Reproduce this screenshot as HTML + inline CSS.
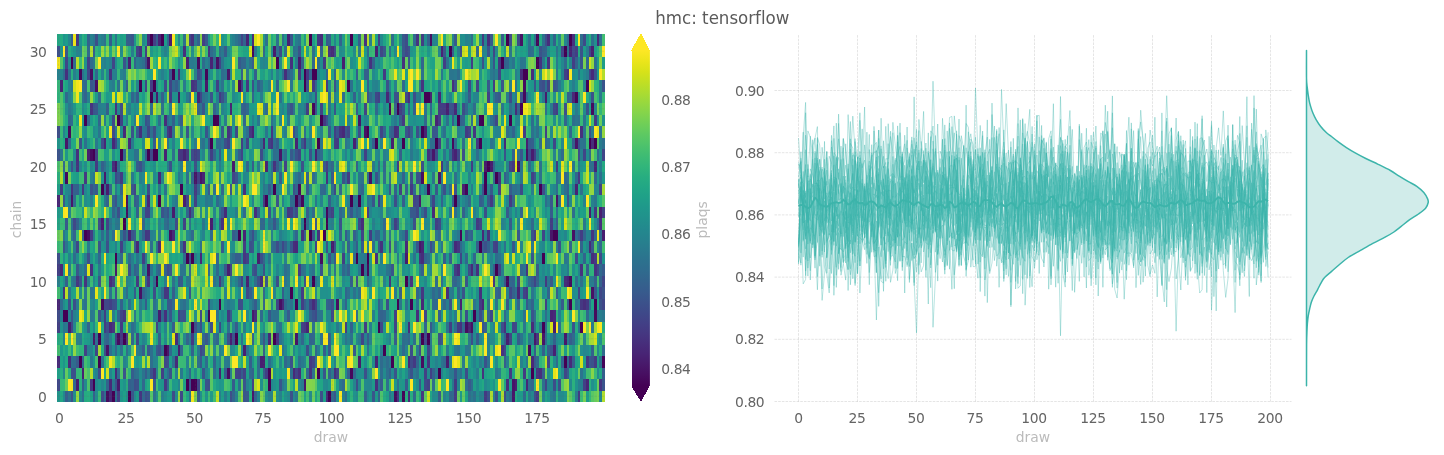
<!DOCTYPE html>
<html><head><meta charset="utf-8"><title>hmc: tensorflow</title>
<style>
html,body{margin:0;padding:0;background:#fff;width:1444px;height:455px;overflow:hidden}
svg{display:block}
.grid{fill:none;stroke:#666666;stroke-opacity:0.25;stroke-width:0.7;stroke-dasharray:2.57 1.11}
.tk text{fill:#646464;font-size:13.89px;letter-spacing:-0.4px}
.lb text{fill:#bbbbbb;font-size:13.89px}
text{font-family:"DejaVu Sans","Liberation Sans",sans-serif}
.ttl{font-family:"DejaVu Sans Condensed","DejaVu Sans","Liberation Sans",sans-serif;font-stretch:condensed;font-variant-ligatures:none;font-size:18.5px;fill:#5a5a5a}
</style></head><body>
<svg width="1444" height="455" viewBox="0 0 1444 455">
<rect width="1444" height="455" fill="#fff"/>
<rect x="57.05" y="34.0" width="547.90" height="368.00" fill="#1f948c"/><g transform="translate(58.420,34.0) scale(2.73950,11.50000)" stroke-width="1" fill="none" shape-rendering="crispEdges"><path stroke="#440154" d="M20 31v1M26 31v1M99 31v1M13 30v1M47 30v1M49 30v1M50 30v1M77 30v1M95 29v1M139 29v1M173 29v1M8 28v1M15 28v1M122 28v1M185 28v1M39 27v1M119 27v1M15 26v1M24 26v1M65 26v1M79 26v1M133 26v1M135 26v1M49 25v1M117 25v1M177 25v1M191 25v1M2 24v1M3 24v1M55 24v1M152 24v1M59 23v1M129 23v1M187 23v1M196 23v1M85 22v1M36 21v1M93 21v1M127 21v1M111 20v1M160 20v1M21 19v1M47 19v1M49 19v1M109 19v1M113 19v1M177 19v1M154 18v1M10 17v1M66 17v1M92 17v1M181 17v1M24 16v1M90 16v1M98 16v1M37 14v1M87 14v1M107 14v1M110 14v1M145 14v1M16 13v1M45 13v1M79 13v1M135 13v1M156 13v1M176 13v1M156 12v1M160 12v1M157 11v1M13 10v1M23 10v1M33 10v1M35 10v1M36 10v1M56 9v1M95 9v1M116 9v1M126 9v1M138 9v1M154 9v1M194 9v1M196 9v1M113 8v1M133 8v1M10 7v1M22 7v1M57 7v1M96 7v1M146 7v1M155 7v1M165 7v1M124 6v1M169 6v1M34 5v1M134 5v1M135 5v1M30 4v1M35 4v1M90 4v1M106 4v1M42 3v1M90 3v1M93 3v1M94 3v1M170 3v1M171 3v1M5 2v1M80 2v1M162 2v1M175 2v1M143 1v1M185 1v1M34 0v1M92 0v1M107 0v1M164 0v1M187 0v1"/><path stroke="#440256" d="M87 23v1M124 23v1M97 17v1M182 17v1M76 14v1M193 4v1M38 0v1"/><path stroke="#450457" d="M126 31v1M77 29v1M58 7v1M154 7v1"/><path stroke="#450559" d="M199 28v1M54 3v1"/><path stroke="#46075a" d="M149 13v1M93 6v1M121 6v1M189 5v1M8 3v1M175 0v1"/><path stroke="#46085c" d="M107 29v1M164 21v1M147 17v1M98 15v1M89 14v1M4 8v1M71 1v1"/><path stroke="#460a5d" d="M172 27v1M196 24v1M3 12v1M144 9v1M170 5v1"/><path stroke="#460b5e" d="M18 31v1M123 31v1M16 23v1M187 21v1M113 20v1M88 13v1M195 6v1"/><path stroke="#470d60" d="M133 28v1M22 26v1M149 25v1M96 19v1M12 10v1M66 4v1M170 4v1M51 2v1"/><path stroke="#470e61" d="M62 29v1M11 17v1M25 15v1M133 12v1"/><path stroke="#471063" d="M151 25v1M81 23v1M102 23v1M41 17v1M25 14v1M168 11v1M171 10v1M14 4v1M12 3v1M136 0v1"/><path stroke="#471164" d="M30 22v1M195 22v1M188 17v1M112 8v1M33 2v1"/><path stroke="#471365" d="M33 20v1M114 12v1M58 2v1M169 0v1"/><path stroke="#481467" d="M166 30v1M18 27v1M182 14v1M50 12v1M52 12v1"/><path stroke="#481668" d="M87 26v1M177 26v1M81 10v1M3 9v1M189 9v1"/><path stroke="#481769" d="M71 31v1M166 31v1M90 30v1M132 18v1M180 17v1M5 14v1M139 12v1M110 7v1M44 5v1"/><path stroke="#48186a" d="M40 27v1M174 26v1M185 26v1M21 11v1M137 10v1M54 4v1M62 3v1"/><path stroke="#481a6c" d="M71 24v1M21 20v1M17 12v1M64 11v1"/><path stroke="#481b6d" d="M22 30v1M110 28v1M13 26v1M127 19v1M132 14v1M156 11v1M36 5v1M178 5v1M88 2v1M79 1v1"/><path stroke="#481c6e" d="M7 30v1M4 25v1M181 25v1M100 18v1M42 15v1M41 0v1"/><path stroke="#481d6f" d="M142 28v1M37 24v1M199 17v1M56 16v1M194 15v1M18 13v1M158 11v1M173 10v1"/><path stroke="#481f70" d="M44 27v1M164 26v1M62 20v1M73 19v1M16 16v1M11 10v1M122 9v1M104 2v1"/><path stroke="#482071" d="M167 30v1M74 28v1M75 28v1M68 27v1M147 23v1M198 15v1M46 14v1M171 9v1M47 2v1M195 1v1"/><path stroke="#482173" d="M9 29v1M181 27v1M63 26v1M69 21v1M26 17v1M145 10v1M108 9v1M142 6v1M26 2v1M116 1v1M84 0v1"/><path stroke="#482374" d="M59 29v1M148 13v1M189 13v1M53 12v1M39 10v1M94 10v1M134 8v1M51 5v1M136 5v1M1 4v1M140 1v1"/><path stroke="#482475" d="M150 25v1M180 24v1M186 21v1M133 18v1M68 17v1M46 10v1M87 9v1M71 8v1M63 6v1M56 2v1M187 1v1M37 0v1M69 0v1"/><path stroke="#482576" d="M116 28v1M91 25v1M0 23v1M76 11v1M196 11v1M138 7v1"/><path stroke="#482677" d="M171 30v1M193 30v1M128 28v1M155 23v1M168 22v1M0 14v1M37 12v1M17 9v1M75 9v1M139 5v1"/><path stroke="#482878" d="M19 31v1M133 23v1M1 20v1M29 18v1M33 14v1M20 9v1M120 5v1M188 5v1"/><path stroke="#482979" d="M19 30v1M86 29v1M173 28v1M19 25v1M181 24v1M82 23v1M151 20v1M52 19v1M87 18v1M42 17v1M155 17v1M163 9v1M24 8v1M104 8v1M197 0v1"/><path stroke="#472a7a" d="M98 31v1M128 31v1M0 28v1M187 28v1M77 26v1M127 18v1M145 18v1M61 15v1M41 8v1M145 6v1M195 3v1M100 1v1"/><path stroke="#472c7a" d="M21 29v1M43 28v1M128 25v1M173 25v1M19 21v1M185 21v1M133 19v1M194 18v1M111 16v1M137 15v1M26 9v1M195 9v1M169 3v1M96 0v1"/><path stroke="#472d7b" d="M164 30v1M4 28v1M43 26v1M72 24v1M93 23v1M195 19v1M37 18v1M86 18v1M167 6v1M44 3v1M71 0v1"/><path stroke="#472e7c" d="M131 24v1M192 23v1M142 22v1M74 21v1M146 20v1M48 15v1M20 11v1M144 10v1M123 8v1M39 7v1M128 5v1M83 3v1M173 3v1M33 0v1M179 0v1"/><path stroke="#472f7d" d="M88 29v1M101 29v1M176 29v1M72 15v1M68 13v1M7 10v1M191 8v1M144 4v1M46 1v1M157 0v1"/><path stroke="#46307e" d="M116 30v1M39 24v1M154 22v1M153 20v1M89 17v1M198 16v1M135 10v1M30 8v1M3 3v1M85 2v1M188 0v1"/><path stroke="#46327e" d="M155 29v1M116 19v1M118 18v1M60 16v1M161 12v1M126 2v1M49 0v1"/><path stroke="#46337f" d="M92 29v1M147 25v1M163 25v1M129 21v1M12 20v1M191 20v1M196 20v1M95 17v1M157 17v1M5 13v1M98 12v1M79 11v1M103 8v1M21 6v1M49 4v1M19 3v1M186 3v1M114 2v1M176 2v1M30 1v1M112 0v1"/><path stroke="#463480" d="M124 31v1M162 27v1M80 26v1M20 25v1M10 21v1M121 21v1M46 18v1M7 11v1M62 8v1M124 8v1M12 6v1M133 4v1M55 1v1M131 0v1"/><path stroke="#453581" d="M30 31v1M198 30v1M35 29v1M175 29v1M135 28v1M175 26v1M2 22v1M33 21v1M132 19v1M195 17v1M78 9v1M179 2v1"/><path stroke="#453781" d="M193 28v1M24 24v1M39 22v1M159 21v1M171 20v1M68 19v1M146 18v1M32 17v1M196 15v1M140 11v1M166 11v1M44 10v1M45 10v1M70 8v1M152 8v1M99 1v1"/><path stroke="#453882" d="M133 31v1M12 30v1M191 23v1M40 22v1M133 22v1M7 21v1M84 15v1M9 13v1M190 12v1M90 9v1M78 8v1M91 3v1M161 2v1M95 0v1"/><path stroke="#443983" d="M190 31v1M92 28v1M23 26v1M49 26v1M62 24v1M193 23v1M171 22v1M33 17v1M75 14v1M102 9v1M153 9v1M97 7v1M196 7v1M50 4v1M69 4v1M93 4v1M119 3v1M7 0v1"/><path stroke="#443a83" d="M156 31v1M39 30v1M145 30v1M165 29v1M170 29v1M130 28v1M90 25v1M146 25v1M59 21v1M178 21v1M153 16v1M158 14v1M129 13v1M10 12v1M23 12v1M182 11v1M47 10v1M40 8v1M126 7v1M88 3v1M155 0v1"/><path stroke="#443b84" d="M145 31v1M175 31v1M196 28v1M25 26v1M23 25v1M154 23v1M29 21v1M196 19v1M68 18v1M165 14v1M50 13v1M14 11v1M124 11v1M149 8v1M91 6v1M41 5v1M59 5v1M97 2v1"/><path stroke="#433d84" d="M17 25v1M112 25v1M143 25v1M17 24v1M145 20v1M191 17v1M180 16v1M106 12v1M151 11v1M101 9v1M139 6v1M141 6v1M67 4v1M159 4v1M189 1v1M133 0v1"/><path stroke="#433e85" d="M22 31v1M89 23v1M89 22v1M168 21v1M0 20v1M88 20v1M12 17v1M114 17v1M138 16v1M85 15v1M113 15v1M117 14v1M1 13v1M51 12v1M77 9v1M139 9v1M170 8v1M139 7v1M125 6v1M140 6v1M98 4v1M188 2v1"/><path stroke="#423f85" d="M76 29v1M21 26v1M0 25v1M105 25v1M31 19v1M104 19v1M174 17v1M123 16v1M14 10v1M50 10v1M56 10v1M101 8v1M182 6v1M34 4v1M141 2v1M151 2v1M32 1v1"/><path stroke="#424086" d="M192 30v1M136 29v1M89 25v1M19 23v1M178 23v1M20 21v1M160 18v1M50 14v1M112 10v1M174 10v1M67 9v1M178 8v1M117 5v1M157 5v1M58 4v1M185 3v1M11 2v1M35 0v1M53 0v1"/><path stroke="#424186" d="M38 29v1M134 29v1M10 27v1M123 24v1M23 18v1M46 16v1M100 15v1M199 15v1M88 14v1M125 13v1M173 12v1M62 9v1M179 4v1"/><path stroke="#414287" d="M71 30v1M135 30v1M66 29v1M87 29v1M123 25v1M170 22v1M67 21v1M69 19v1M33 15v1M98 11v1M128 8v1M23 7v1M117 0v1"/><path stroke="#414487" d="M65 29v1M68 29v1M93 28v1M14 27v1M36 25v1M23 24v1M44 24v1M94 23v1M161 20v1M159 18v1M111 17v1M32 15v1M161 13v1M198 13v1M64 12v1M83 11v1M165 11v1M88 10v1M136 10v1M118 8v1M112 6v1M32 4v1M41 4v1M153 4v1M184 1v1"/><path stroke="#404588" d="M166 25v1M80 23v1M190 22v1M174 21v1M199 21v1M147 19v1M94 18v1M177 17v1M18 16v1M110 16v1M130 14v1M137 14v1M28 13v1M192 10v1M199 10v1M69 9v1M150 8v1M161 3v1M29 1v1M67 0v1"/><path stroke="#404688" d="M178 30v1M102 29v1M185 29v1M111 26v1M165 26v1M55 23v1M199 23v1M63 20v1M154 16v1M47 14v1M67 10v1M181 9v1M96 6v1M127 5v1M194 3v1M3 2v1M20 2v1M59 2v1M194 1v1"/><path stroke="#3f4788" d="M45 31v1M135 27v1M163 27v1M29 26v1M134 24v1M18 23v1M92 23v1M198 22v1M33 8v1M52 5v1M116 5v1M11 3v1M118 1v1M159 1v1"/><path stroke="#3f4889" d="M0 30v1M51 30v1M39 28v1M179 28v1M52 27v1M5 25v1M118 25v1M100 24v1M158 24v1M17 23v1M69 22v1M165 22v1M7 18v1M127 17v1M6 16v1M146 10v1M20 7v1M160 7v1M181 6v1M150 4v1M48 0v1"/><path stroke="#3e4989" d="M59 25v1M167 25v1M197 20v1M82 18v1M131 15v1M101 13v1M21 12v1M21 9v1M106 8v1M51 3v1M81 1v1M188 1v1M168 0v1"/><path stroke="#3e4a89" d="M134 30v1M129 28v1M0 24v1M52 24v1M139 16v1M131 14v1M169 13v1M34 10v1M51 10v1M172 10v1M65 8v1M165 5v1M101 1v1M127 1v1M192 0v1"/><path stroke="#3e4c8a" d="M16 31v1M42 31v1M149 29v1M134 26v1M94 24v1M40 20v1M189 19v1M198 19v1M80 18v1M15 16v1M43 16v1M129 12v1M49 10v1M138 10v1M190 10v1M16 9v1M20 8v1M127 0v1"/><path stroke="#3d4d8a" d="M181 30v1M154 24v1M66 23v1M80 21v1M72 20v1M150 20v1M0 19v1M87 15v1M134 15v1M33 13v1M74 10v1M110 8v1M148 6v1"/><path stroke="#3d4e8a" d="M63 31v1M15 29v1M132 27v1M56 25v1M35 22v1M109 21v1M136 18v1M93 17v1M99 15v1M123 14v1M131 12v1M0 8v1M35 8v1M130 5v1M39 4v1M177 4v1M165 0v1M178 0v1"/><path stroke="#3c4f8a" d="M96 31v1M163 31v1M28 30v1M55 30v1M109 30v1M183 30v1M40 28v1M91 27v1M129 27v1M139 26v1M6 23v1M67 23v1M120 23v1M11 19v1M130 16v1M156 15v1M177 13v1M133 11v1M148 10v1M63 8v1M23 6v1M91 4v1M32 2v1M14 0v1"/><path stroke="#3c508b" d="M85 31v1M174 31v1M6 29v1M112 29v1M37 27v1M62 26v1M151 26v1M18 25v1M162 25v1M46 24v1M4 23v1M20 23v1M90 21v1M26 20v1M74 19v1M18 18v1M101 18v1M121 18v1M156 18v1M22 15v1M141 13v1M30 11v1M89 11v1M55 9v1M61 9v1M86 8v1M131 8v1M144 6v1M185 6v1M94 5v1M124 5v1M169 5v1M101 4v1M0 1v1"/><path stroke="#3b518b" d="M32 31v1M160 31v1M5 29v1M85 28v1M195 28v1M17 27v1M50 25v1M149 24v1M73 21v1M75 20v1M70 18v1M98 18v1M183 18v1M71 17v1M116 12v1M87 10v1M32 7v1M193 6v1M123 5v1M195 5v1M71 4v1M147 1v1"/><path stroke="#3b528b" d="M5 31v1M29 30v1M48 30v1M54 30v1M34 29v1M41 29v1M156 28v1M52 25v1M100 23v1M198 23v1M199 22v1M48 19v1M99 19v1M149 17v1M186 14v1M86 13v1M145 13v1M41 11v1M50 11v1M85 6v1M120 4v1M88 1v1"/><path stroke="#3a538b" d="M157 31v1M129 29v1M143 23v1M148 22v1M96 20v1M117 18v1M24 17v1M173 17v1M103 16v1M80 14v1M12 13v1M104 12v1M132 12v1M163 10v1M8 9v1M27 8v1M127 8v1M194 8v1M126 6v1M60 5v1M113 5v1M145 4v1M155 2v1M176 1v1M191 1v1"/><path stroke="#3a548c" d="M199 30v1M24 29v1M123 29v1M180 27v1M155 25v1M188 25v1M45 24v1M93 24v1M173 24v1M21 23v1M8 21v1M27 17v1M38 15v1M21 14v1M155 13v1M0 10v1M92 10v1M102 8v1M56 5v1M162 4v1M176 4v1M199 4v1M41 3v1M24 2v1M128 1v1M141 1v1M157 1v1"/><path stroke="#39558c" d="M21 30v1M68 30v1M81 30v1M132 30v1M53 29v1M97 29v1M145 29v1M15 24v1M48 22v1M196 22v1M15 21v1M149 21v1M122 20v1M2 18v1M15 18v1M85 18v1M131 18v1M40 15v1M115 14v1M5 11v1M190 9v1M54 8v1M105 8v1M98 7v1M13 6v1M101 6v1M143 6v1M174 4v1M181 4v1M196 3v1M159 2v1M191 2v1"/><path stroke="#39568c" d="M27 31v1M68 31v1M101 31v1M115 31v1M194 28v1M53 27v1M99 27v1M64 26v1M75 26v1M5 24v1M41 24v1M21 22v1M41 20v1M173 19v1M71 18v1M166 18v1M79 16v1M60 15v1M77 15v1M107 15v1M27 13v1M63 13v1M121 13v1M65 12v1M174 12v1M47 8v1M53 6v1M94 6v1M12 4v1M27 0v1M85 0v1"/><path stroke="#38588c" d="M33 31v1M77 24v1M41 23v1M164 23v1M171 23v1M44 21v1M76 21v1M61 20v1M195 18v1M168 17v1M22 12v1M32 10v1M169 10v1M137 8v1M161 5v1M52 3v1M128 2v1"/><path stroke="#38598c" d="M139 31v1M61 29v1M33 27v1M54 26v1M40 23v1M163 21v1M7 20v1M71 20v1M130 15v1M2 14v1M180 14v1M14 13v1M91 13v1M138 13v1M138 8v1M157 4v1M3 1v1M126 1v1M54 0v1M126 0v1"/><path stroke="#375a8c" d="M69 31v1M67 29v1M7 28v1M174 28v1M36 27v1M108 27v1M136 25v1M184 23v1M180 21v1M3 16v1M124 16v1M129 15v1M164 15v1M157 14v1M158 13v1M100 12v1M29 11v1M97 11v1M89 9v1M33 7v1M14 6v1M66 2v1M119 1v1M98 0v1M158 0v1"/><path stroke="#375b8d" d="M127 30v1M150 30v1M52 28v1M174 27v1M140 26v1M168 26v1M65 25v1M84 24v1M175 20v1M60 18v1M155 18v1M105 17v1M94 16v1M85 10v1M35 9v1M172 9v1M60 8v1M144 7v1M109 6v1M29 5v1M150 5v1M84 3v1M61 1v1M145 0v1"/><path stroke="#365c8d" d="M51 31v1M35 30v1M64 30v1M188 28v1M153 26v1M63 24v1M32 23v1M28 22v1M45 21v1M199 20v1M101 19v1M28 18v1M190 17v1M59 16v1M165 16v1M180 15v1M28 14v1M144 14v1M55 13v1M29 8v1M99 8v1M125 7v1M182 4v1"/><path stroke="#365d8d" d="M118 30v1M177 29v1M186 29v1M163 28v1M31 27v1M97 27v1M113 26v1M187 26v1M42 25v1M72 23v1M99 23v1M42 22v1M70 22v1M65 19v1M18 17v1M28 17v1M64 17v1M49 15v1M126 14v1M165 13v1M71 11v1M59 10v1M45 7v1M109 3v1M113 3v1M89 2v1M26 0v1M162 0v1"/><path stroke="#355e8d" d="M27 29v1M32 29v1M199 29v1M70 28v1M123 26v1M90 23v1M82 22v1M161 22v1M173 21v1M193 20v1M66 19v1M141 19v1M143 19v1M109 18v1M111 18v1M153 18v1M154 14v1M81 12v1M163 12v1M66 10v1M173 9v1M188 9v1M42 7v1M73 4v1M112 3v1M71 2v1M19 0v1M36 0v1M110 0v1"/><path stroke="#355f8d" d="M3 31v1M9 30v1M37 26v1M99 26v1M139 24v1M186 23v1M159 20v1M90 17v1M108 17v1M182 16v1M73 15v1M80 11v1M125 10v1M18 6v1M186 5v1M13 4v1M25 4v1M43 4v1M13 1v1M5 0v1M25 0v1"/><path stroke="#34608d" d="M112 31v1M26 30v1M75 29v1M99 29v1M106 29v1M75 27v1M177 27v1M107 25v1M182 22v1M3 21v1M107 21v1M83 18v1M91 15v1M148 15v1M99 14v1M7 13v1M77 13v1M123 13v1M115 9v1M68 6v1M130 6v1M38 5v1M160 5v1M72 3v1"/><path stroke="#34618d" d="M13 31v1M137 29v1M195 27v1M156 25v1M23 23v1M166 22v1M196 21v1M133 20v1M151 17v1M29 15v1M86 15v1M16 11v1M80 9v1M122 8v1M147 7v1M123 6v1M108 5v1M113 4v1M67 3v1M144 1v1M11 0v1M99 0v1M135 0v1"/><path stroke="#33628d" d="M71 29v1M121 29v1M49 27v1M179 27v1M163 26v1M181 26v1M92 24v1M117 23v1M173 23v1M125 22v1M146 22v1M198 21v1M28 20v1M106 20v1M157 18v1M39 15v1M6 13v1M186 13v1M126 12v1M109 11v1M166 10v1M129 8v1M159 7v1M121 5v1M80 4v1M28 2v1M163 2v1M177 1v1M51 0v1M181 0v1"/><path stroke="#33638d" d="M18 30v1M18 26v1M92 26v1M11 25v1M22 24v1M118 24v1M157 24v1M98 23v1M32 21v1M37 20v1M39 20v1M106 18v1M191 18v1M7 16v1M18 14v1M166 14v1M127 13v1M95 10v1M51 6v1M168 6v1M115 2v1M189 2v1"/><path stroke="#32648e" d="M72 31v1M117 31v1M27 30v1M57 28v1M184 28v1M71 26v1M105 23v1M105 22v1M139 22v1M145 21v1M166 21v1M192 19v1M6 17v1M31 17v1M116 17v1M47 15v1M20 14v1M29 14v1M140 14v1M13 13v1M111 13v1M69 11v1M159 11v1M166 8v1M4 7v1M11 7v1M10 5v1M96 1v1M68 0v1M103 0v1"/><path stroke="#32658e" d="M9 28v1M45 27v1M47 26v1M75 23v1M31 22v1M131 22v1M179 22v1M134 19v1M65 17v1M87 17v1M103 17v1M117 17v1M192 17v1M20 15v1M23 13v1M51 13v1M87 13v1M49 12v1M117 11v1M15 7v1M148 7v1M185 7v1M57 6v1M67 6v1M84 6v1M128 6v1M136 6v1M187 5v1M94 4v1M98 3v1M133 2v1"/><path stroke="#31668e" d="M64 31v1M143 31v1M173 30v1M108 29v1M186 28v1M58 26v1M93 26v1M134 25v1M117 24v1M168 23v1M160 22v1M66 21v1M175 21v1M15 19v1M152 19v1M187 18v1M9 17v1M169 15v1M155 14v1M17 13v1M189 12v1M196 12v1M24 10v1M178 9v1M119 8v1M187 8v1M68 7v1M27 5v1M48 5v1M14 3v1M101 3v1M164 2v1M193 2v1M178 1v1"/><path stroke="#31678e" d="M83 28v1M131 28v1M41 27v1M94 27v1M27 26v1M89 26v1M128 26v1M148 25v1M38 24v1M119 24v1M165 21v1M58 20v1M104 20v1M149 19v1M139 17v1M150 17v1M31 16v1M40 16v1M75 16v1M19 13v1M60 13v1M88 12v1M91 12v1M142 9v1M134 7v1M71 5v1M10 4v1M126 4v1M92 3v1M93 2v1M40 0v1"/><path stroke="#31688e" d="M31 31v1M100 31v1M144 31v1M31 30v1M48 29v1M70 29v1M91 29v1M53 26v1M163 24v1M141 23v1M75 22v1M23 19v1M26 19v1M75 19v1M79 18v1M81 18v1M147 18v1M198 18v1M196 17v1M74 16v1M103 15v1M109 15v1M150 14v1M97 13v1M100 11v1M119 11v1M57 10v1M143 10v1M4 9v1M116 6v1M149 6v1M67 2v1M68 2v1M66 0v1"/><path stroke="#30698e" d="M130 31v1M6 30v1M21 27v1M193 24v1M137 23v1M138 23v1M137 22v1M29 20v1M198 20v1M58 19v1M137 18v1M70 17v1M119 16v1M173 16v1M58 14v1M185 12v1M142 11v1M194 10v1M109 9v1M69 6v1M3 5v1M57 2v1M75 1v1"/><path stroke="#306a8e" d="M40 30v1M104 30v1M128 29v1M126 27v1M199 27v1M17 26v1M145 25v1M74 24v1M83 23v1M144 21v1M10 20v1M169 20v1M45 18v1M49 17v1M56 17v1M68 15v1M93 15v1M96 13v1M103 13v1M159 12v1M2 11v1M59 9v1M145 9v1M176 9v1M121 8v1M15 5v1M185 2v1M11 1v1M186 0v1"/><path stroke="#2f6b8e" d="M170 31v1M6 28v1M73 28v1M118 28v1M141 28v1M175 28v1M188 26v1M178 25v1M42 23v1M113 21v1M172 21v1M46 19v1M160 19v1M119 17v1M91 16v1M86 14v1M130 13v1M143 13v1M113 12v1M182 12v1M184 10v1M197 10v1M58 9v1M152 6v1M42 4v1M52 4v1M12 2v1M53 2v1M153 1v1"/><path stroke="#2f6c8e" d="M165 31v1M172 30v1M22 29v1M57 29v1M130 26v1M178 26v1M1 23v1M48 20v1M36 18v1M197 16v1M133 15v1M6 14v1M146 14v1M178 14v1M110 13v1M140 13v1M182 13v1M93 12v1M83 10v1M96 10v1M164 8v1M5 7v1M114 5v1M60 3v1M6 2v1M172 1v1M122 0v1M130 0v1"/><path stroke="#2e6d8e" d="M17 31v1M105 31v1M137 30v1M151 30v1M40 29v1M118 29v1M51 28v1M54 28v1M77 28v1M88 28v1M120 28v1M182 28v1M38 27v1M126 26v1M27 25v1M155 24v1M174 24v1M138 21v1M189 21v1M36 20v1M55 20v1M83 20v1M121 20v1M6 19v1M64 19v1M78 18v1M115 18v1M16 17v1M189 17v1M188 15v1M85 14v1M136 14v1M105 12v1M31 11v1M78 11v1M87 8v1M37 7v1M44 7v1M173 7v1M188 7v1M76 6v1M104 5v1M9 4v1M85 3v1M146 3v1M56 1v1M113 1v1M151 0v1"/><path stroke="#2e6e8e" d="M149 30v1M28 29v1M5 28v1M34 27v1M51 25v1M183 25v1M178 24v1M25 22v1M108 19v1M135 19v1M20 17v1M198 17v1M22 11v1M172 11v1M79 10v1M153 10v1M148 9v1M40 7v1M34 6v1M51 4v1M178 4v1M2 3v1M59 1v1M83 1v1M191 0v1M198 0v1"/><path stroke="#2e6f8e" d="M9 31v1M21 31v1M73 29v1M93 29v1M34 28v1M19 27v1M26 23v1M46 23v1M38 22v1M106 22v1M167 22v1M72 21v1M89 20v1M152 20v1M34 18v1M39 16v1M106 15v1M167 13v1M185 13v1M47 12v1M117 12v1M119 12v1M145 12v1M198 12v1M42 10v1M86 10v1M74 9v1M179 9v1M34 8v1M69 8v1M142 7v1M151 7v1M165 6v1M178 6v1M171 5v1M82 3v1M190 3v1M173 1v1M82 0v1"/><path stroke="#2d708e" d="M150 31v1M152 31v1M85 29v1M120 29v1M147 29v1M16 28v1M23 27v1M142 25v1M109 24v1M35 23v1M127 23v1M194 23v1M19 22v1M110 22v1M112 20v1M163 18v1M25 17v1M145 15v1M100 13v1M191 13v1M164 12v1M176 12v1M195 11v1M10 9v1M79 9v1M136 9v1M137 9v1M199 9v1M90 8v1M141 8v1M31 2v1M95 2v1M80 1v1M93 1v1M121 1v1M46 0v1M172 0v1"/><path stroke="#2d718e" d="M4 31v1M35 31v1M120 30v1M177 30v1M131 29v1M42 28v1M94 28v1M25 27v1M69 27v1M57 26v1M81 25v1M174 25v1M190 25v1M58 24v1M95 24v1M147 24v1M71 23v1M35 21v1M42 21v1M60 21v1M140 21v1M146 21v1M191 21v1M31 20v1M52 18v1M57 13v1M17 11v1M99 11v1M194 11v1M28 10v1M168 10v1M53 9v1M32 8v1M173 8v1M190 7v1M52 6v1M74 4v1M4 3v1M70 2v1M142 2v1M186 1v1M17 0v1M80 0v1M177 0v1M195 0v1"/><path stroke="#2c718e" d="M66 30v1M198 28v1M136 27v1M44 26v1M107 26v1M127 26v1M62 25v1M79 24v1M170 24v1M10 23v1M131 23v1M5 16v1M59 15v1M182 15v1M113 14v1M159 14v1M39 13v1M111 12v1M186 12v1M176 11v1M80 10v1M192 9v1M42 8v1M78 7v1M158 7v1M53 5v1M81 5v1M99 5v1M107 4v1M9 3v1M133 3v1M196 2v1M86 1v1M76 0v1"/><path stroke="#2c728e" d="M124 30v1M157 28v1M146 27v1M14 26v1M55 26v1M93 25v1M80 24v1M85 23v1M91 23v1M189 23v1M108 22v1M93 20v1M170 20v1M77 19v1M130 19v1M123 18v1M183 14v1M132 13v1M166 13v1M137 12v1M29 10v1M158 9v1M175 8v1M38 6v1M86 6v1M61 5v1M22 4v1M61 3v1M159 3v1"/><path stroke="#2c738e" d="M48 31v1M181 31v1M29 29v1M96 26v1M132 26v1M197 24v1M152 23v1M172 23v1M6 21v1M94 21v1M101 20v1M120 20v1M132 20v1M161 19v1M140 18v1M138 17v1M48 16v1M77 16v1M110 15v1M32 14v1M108 14v1M118 14v1M40 9v1M105 9v1M191 9v1M192 7v1M9 5v1M60 4v1M88 0v1M174 0v1"/><path stroke="#2b748e" d="M31 29v1M191 29v1M140 28v1M113 27v1M67 26v1M81 26v1M169 26v1M32 22v1M57 21v1M144 18v1M23 17v1M126 17v1M196 14v1M37 13v1M110 12v1M169 11v1M1 10v1M60 9v1M99 6v1M167 4v1M166 2v1M177 2v1M182 1v1M65 0v1"/><path stroke="#2b758e" d="M121 31v1M103 30v1M117 30v1M160 29v1M30 27v1M82 27v1M149 27v1M105 26v1M78 24v1M96 24v1M4 22v1M12 22v1M173 22v1M48 21v1M83 21v1M179 21v1M34 20v1M45 20v1M90 20v1M2 17v1M109 17v1M19 16v1M22 16v1M4 14v1M17 14v1M109 14v1M78 12v1M169 12v1M55 10v1M141 10v1M96 9v1M15 8v1M192 8v1M198 8v1M189 7v1M134 6v1M162 6v1M132 5v1M44 4v1M143 3v1M169 2v1M87 1v1M21 0v1"/><path stroke="#2a768e" d="M144 30v1M150 27v1M2 25v1M153 24v1M157 23v1M160 23v1M10 22v1M138 22v1M46 20v1M84 20v1M105 20v1M110 20v1M29 19v1M185 19v1M3 18v1M121 17v1M79 15v1M104 15v1M143 15v1M56 14v1M168 13v1M13 12v1M44 12v1M188 11v1M76 8v1M136 7v1M159 5v1M144 3v1M55 2v1M60 2v1"/><path stroke="#2a778e" d="M62 28v1M84 28v1M171 28v1M145 27v1M186 26v1M12 24v1M199 24v1M30 23v1M45 23v1M125 23v1M146 17v1M21 16v1M53 16v1M43 14v1M94 14v1M75 13v1M87 12v1M121 12v1M115 11v1M129 10v1M92 9v1M21 8v1M31 8v1M165 8v1M73 7v1M84 7v1M175 7v1M4 6v1M177 5v1M85 4v1M140 3v1M13 2v1M165 1v1M13 0v1"/><path stroke="#2a788e" d="M20 30v1M170 25v1M176 25v1M195 25v1M28 24v1M71 22v1M132 22v1M144 22v1M47 21v1M15 20v1M32 19v1M63 19v1M112 19v1M21 15v1M54 14v1M123 7v1M54 5v1M164 5v1M167 5v1M183 4v1M69 3v1M30 2v1M87 2v1M170 2v1M72 1v1"/><path stroke="#29798e" d="M87 31v1M33 29v1M45 29v1M12 28v1M89 28v1M51 27v1M142 27v1M74 26v1M110 26v1M136 26v1M172 26v1M102 25v1M16 24v1M36 24v1M62 23v1M128 21v1M78 16v1M192 16v1M23 14v1M114 14v1M21 13v1M134 13v1M27 12v1M14 9v1M90 6v1M47 5v1M131 5v1M198 5v1M5 4v1M46 4v1M145 3v1M182 3v1M60 1v1"/><path stroke="#297a8e" d="M172 31v1M82 30v1M138 29v1M146 29v1M119 28v1M121 28v1M150 26v1M3 25v1M28 25v1M68 25v1M80 25v1M84 23v1M13 22v1M4 20v1M8 20v1M186 20v1M6 18v1M11 18v1M108 18v1M182 18v1M106 17v1M80 16v1M122 16v1M31 15v1M149 14v1M183 12v1M40 11v1M27 9v1M45 8v1M195 8v1M28 7v1M61 7v1M132 4v1M49 2v1M57 1v1M50 0v1"/><path stroke="#297b8e" d="M151 31v1M63 29v1M100 29v1M130 29v1M143 29v1M144 29v1M153 29v1M61 28v1M148 28v1M29 27v1M8 26v1M40 24v1M7 23v1M9 23v1M118 23v1M186 19v1M104 18v1M173 18v1M5 17v1M78 13v1M188 13v1M175 10v1M52 9v1M129 9v1M159 9v1M180 6v1M189 6v1M115 5v1M20 4v1M24 3v1M158 3v1M48 2v1M110 1v1"/><path stroke="#287c8e" d="M61 31v1M164 31v1M180 31v1M189 31v1M89 30v1M131 27v1M114 25v1M13 24v1M35 24v1M145 24v1M123 22v1M143 22v1M92 20v1M162 20v1M124 19v1M158 18v1M108 15v1M59 14v1M151 13v1M45 11v1M82 10v1M50 9v1M106 9v1M198 9v1M132 8v1M99 7v1M58 6v1M101 5v1M139 4v1M193 3v1M182 2v1M193 1v1M16 0v1M87 0v1"/><path stroke="#287d8e" d="M154 28v1M11 27v1M59 27v1M48 26v1M1 24v1M20 24v1M83 24v1M142 23v1M190 23v1M39 21v1M195 21v1M10 19v1M100 19v1M111 19v1M72 17v1M86 17v1M156 17v1M65 15v1M83 15v1M173 13v1M198 11v1M83 8v1M146 8v1M17 7v1M28 5v1M74 5v1M198 4v1M167 3v1M29 2v1M146 1v1"/><path stroke="#277e8e" d="M38 31v1M191 30v1M118 27v1M137 25v1M54 24v1M143 24v1M198 24v1M140 23v1M5 21v1M84 21v1M194 21v1M110 19v1M155 19v1M13 17v1M37 17v1M48 17v1M81 17v1M100 16v1M55 14v1M179 14v1M59 11v1M73 11v1M81 11v1M190 11v1M90 10v1M107 10v1M41 7v1M59 7v1M26 6v1M41 6v1M58 5v1M92 5v1M110 5v1M188 4v1M6 3v1M21 3v1M113 2v1M27 1v1"/><path stroke="#277f8e" d="M77 31v1M154 31v1M190 30v1M43 29v1M143 28v1M164 28v1M95 27v1M7 26v1M19 26v1M37 25v1M183 24v1M164 22v1M118 19v1M21 18v1M84 18v1M78 17v1M41 15v1M152 15v1M12 14v1M195 14v1M76 13v1M30 12v1M65 10v1M119 10v1M191 10v1M112 7v1M15 6v1M77 4v1M20 3v1M38 3v1M50 3v1M17 2v1"/><path stroke="#27808e" d="M104 31v1M155 31v1M159 31v1M161 29v1M182 27v1M88 26v1M157 26v1M6 24v1M115 24v1M56 23v1M33 22v1M136 22v1M0 21v1M11 21v1M65 21v1M114 21v1M27 19v1M50 19v1M126 19v1M148 18v1M161 18v1M115 16v1M181 16v1M26 15v1M118 15v1M157 13v1M94 12v1M6 11v1M154 11v1M113 10v1M42 9v1M96 8v1M4 5v1M123 4v1M165 4v1M160 3v1M165 2v1M114 0v1"/><path stroke="#26818e" d="M59 31v1M65 31v1M141 31v1M24 28v1M59 28v1M169 28v1M114 26v1M180 26v1M58 21v1M63 21v1M92 21v1M124 21v1M4 19v1M22 19v1M34 17v1M125 17v1M167 15v1M82 14v1M12 12v1M38 12v1M140 12v1M181 10v1M68 9v1M39 8v1M68 8v1M71 7v1M75 6v1M11 5v1M149 5v1M116 4v1M121 4v1M78 3v1M19 2v1M50 2v1M155 1v1M12 0v1M64 0v1M149 0v1"/><path stroke="#26828e" d="M69 30v1M36 29v1M140 29v1M47 28v1M105 28v1M12 27v1M82 26v1M173 26v1M64 25v1M159 25v1M4 24v1M13 23v1M36 23v1M63 23v1M70 23v1M119 21v1M27 20v1M74 20v1M106 19v1M176 19v1M194 19v1M53 17v1M179 17v1M162 16v1M71 14v1M96 14v1M106 14v1M80 13v1M184 13v1M53 10v1M183 10v1M91 9v1M118 9v1M2 8v1M161 8v1M25 7v1M5 6v1M16 6v1M166 6v1M143 5v1M4 4v1M19 4v1M192 4v1M16 3v1M55 3v1M184 3v1M54 2v1"/><path stroke="#26828e" d="M78 31v1M81 31v1M101 28v1M138 28v1M127 27v1M157 27v1M2 26v1M106 26v1M121 26v1M39 25v1M88 22v1M25 21v1M9 20v1M99 20v1M190 20v1M83 19v1M158 19v1M24 18v1M115 17v1M194 17v1M89 16v1M99 16v1M118 16v1M165 15v1M42 14v1M192 14v1M4 13v1M75 12v1M164 11v1M105 10v1M55 8v1M79 8v1M140 8v1M0 3v1M23 3v1M80 3v1M7 1v1M137 0v1M144 0v1"/><path stroke="#25838e" d="M179 30v1M14 29v1M19 29v1M54 29v1M35 28v1M90 28v1M31 26v1M76 26v1M112 26v1M104 23v1M146 23v1M183 23v1M147 22v1M169 22v1M145 17v1M4 15v1M22 14v1M54 13v1M196 13v1M66 12v1M47 11v1M146 11v1M160 8v1M174 8v1M17 6v1M60 6v1M95 3v1M187 2v1M8 1v1M39 1v1M101 0v1M138 0v1"/><path stroke="#25848e" d="M177 31v1M108 30v1M110 30v1M113 29v1M152 28v1M120 24v1M38 23v1M47 23v1M61 23v1M64 23v1M24 22v1M61 22v1M79 22v1M84 22v1M103 22v1M162 21v1M158 20v1M181 20v1M135 18v1M169 18v1M41 16v1M57 16v1M129 16v1M57 15v1M92 15v1M114 15v1M102 14v1M89 12v1M8 11v1M117 10v1M153 7v1M167 7v1M168 7v1M153 5v1M29 4v1M115 4v1M25 2v1M69 2v1M158 2v1M4 0v1M156 0v1"/><path stroke="#25858e" d="M114 30v1M2 29v1M78 28v1M192 26v1M95 23v1M153 23v1M117 20v1M136 20v1M67 19v1M162 19v1M197 18v1M30 17v1M35 17v1M193 17v1M8 16v1M37 16v1M34 15v1M97 15v1M120 15v1M149 15v1M178 13v1M48 11v1M120 10v1M22 9v1M49 8v1M79 7v1M22 6v1M82 6v1M88 6v1M152 5v1M64 4v1M1 3v1M156 1v1"/><path stroke="#24868e" d="M73 31v1M113 31v1M44 30v1M83 30v1M113 30v1M39 29v1M36 28v1M86 27v1M192 27v1M12 26v1M109 26v1M162 26v1M6 25v1M98 24v1M58 23v1M80 20v1M130 18v1M177 18v1M193 18v1M185 17v1M168 16v1M172 16v1M51 14v1M124 14v1M164 14v1M31 13v1M49 13v1M92 13v1M181 13v1M45 12v1M68 12v1M150 12v1M75 10v1M131 10v1M125 9v1M174 9v1M106 7v1M122 7v1M196 6v1M35 5v1M24 4v1M59 4v1M102 4v1M16 2v1M75 2v1M184 2v1M139 1v1M15 0v1M150 0v1"/><path stroke="#24878e" d="M28 31v1M16 30v1M78 30v1M88 30v1M146 30v1M63 27v1M92 27v1M125 27v1M154 26v1M55 25v1M99 24v1M73 23v1M13 21v1M26 21v1M70 21v1M95 21v1M32 20v1M138 19v1M163 16v1M43 15v1M148 14v1M3 13v1M10 13v1M77 12v1M4 11v1M15 11v1M141 11v1M114 10v1M37 9v1M92 8v1M147 8v1M119 6v1M151 6v1M119 5v1M109 4v1M10 3v1M63 3v1M123 1v1M31 0v1M183 0v1M185 0v1"/><path stroke="#23888e" d="M8 31v1M86 31v1M122 31v1M173 31v1M198 31v1M98 30v1M112 30v1M156 30v1M180 30v1M122 29v1M57 27v1M60 27v1M67 27v1M197 27v1M182 26v1M69 24v1M78 23v1M109 22v1M134 21v1M68 20v1M77 20v1M118 20v1M140 20v1M177 20v1M73 18v1M113 18v1M19 17v1M47 17v1M134 16v1M146 15v1M60 14v1M187 14v1M197 13v1M31 12v1M35 12v1M125 12v1M81 7v1M89 6v1M166 5v1M99 4v1M18 3v1M192 3v1M4 2v1M74 2v1M76 2v1"/><path stroke="#23898e" d="M2 31v1M109 31v1M137 31v1M14 30v1M20 27v1M83 27v1M88 27v1M193 27v1M144 25v1M152 25v1M30 24v1M164 24v1M167 23v1M66 22v1M60 20v1M184 20v1M147 16v1M152 16v1M8 13v1M84 13v1M142 13v1M18 12v1M12 11v1M18 11v1M144 11v1M6 10v1M62 10v1M111 10v1M116 10v1M198 10v1M114 9v1M184 9v1M10 8v1M36 8v1M180 8v1M146 6v1M64 5v1M115 3v1M117 2v1M190 2v1M44 0v1M118 0v1"/><path stroke="#238a8d" d="M14 31v1M84 31v1M92 31v1M138 31v1M183 31v1M10 30v1M97 30v1M187 30v1M119 29v1M135 29v1M81 28v1M46 26v1M158 26v1M159 26v1M13 25v1M60 24v1M12 23v1M83 22v1M68 21v1M177 21v1M20 16v1M33 16v1M42 16v1M52 15v1M117 15v1M47 13v1M59 12v1M102 11v1M154 10v1M31 9v1M71 9v1M124 9v1M82 8v1M167 8v1M19 7v1M88 7v1M37 5v1M68 5v1M58 3v1M18 2v1M81 2v1M160 1v1"/><path stroke="#228b8d" d="M39 31v1M184 31v1M58 29v1M105 29v1M109 29v1M184 29v1M197 29v1M115 28v1M181 28v1M43 27v1M41 25v1M7 24v1M195 24v1M2 23v1M94 22v1M107 22v1M174 22v1M188 22v1M79 21v1M119 20v1M179 20v1M14 19v1M175 19v1M135 16v1M171 16v1M121 15v1M178 15v1M138 14v1M69 12v1M193 10v1M13 8v1M52 8v1M159 8v1M113 7v1M9 6v1M28 6v1M192 6v1M55 5v1M118 5v1M104 3v1M168 3v1M103 1v1M134 0v1"/><path stroke="#228c8d" d="M6 31v1M43 31v1M131 30v1M153 30v1M30 29v1M47 29v1M192 29v1M155 28v1M160 28v1M26 27v1M35 27v1M159 27v1M39 26v1M50 26v1M61 26v1M152 26v1M99 25v1M18 24v1M31 23v1M135 23v1M8 22v1M153 22v1M183 22v1M147 21v1M57 20v1M7 19v1M17 18v1M167 18v1M3 17v1M82 17v1M196 16v1M10 14v1M100 14v1M111 14v1M172 14v1M136 13v1M86 12v1M149 11v1M27 10v1M99 10v1M130 10v1M63 9v1M197 7v1M53 3v1M96 2v1M78 1v1M108 1v1M179 1v1M63 0v1M125 0v1M154 0v1"/><path stroke="#228d8d" d="M25 31v1M36 31v1M179 29v1M139 27v1M85 26v1M10 25v1M127 24v1M134 22v1M177 22v1M88 21v1M104 21v1M171 21v1M176 21v1M82 20v1M114 20v1M128 20v1M149 20v1M185 20v1M30 19v1M191 19v1M119 18v1M176 18v1M144 17v1M183 17v1M67 15v1M124 15v1M174 15v1M52 14v1M124 12v1M10 11v1M106 11v1M136 11v1M160 11v1M26 10v1M93 10v1M73 9v1M23 8v1M148 8v1M31 7v1M190 6v1M5 5v1M190 5v1M194 5v1M117 4v1M89 3v1M176 3v1M23 1v1M62 1v1M147 0v1"/><path stroke="#218e8d" d="M76 31v1M80 31v1M127 29v1M142 29v1M112 28v1M139 28v1M64 27v1M198 26v1M72 25v1M103 25v1M127 25v1M190 24v1M57 23v1M135 22v1M73 20v1M2 19v1M148 19v1M64 18v1M165 18v1M180 18v1M52 17v1M165 17v1M140 16v1M154 13v1M35 11v1M173 11v1M20 10v1M54 9v1M130 7v1M181 7v1M3 6v1M25 6v1M61 6v1M81 6v1M150 6v1M102 5v1M72 4v1M37 3v1M43 3v1M188 3v1M21 2v1M107 2v1M180 0v1"/><path stroke="#218f8d" d="M52 31v1M142 31v1M153 31v1M182 30v1M110 29v1M111 29v1M174 29v1M90 27v1M32 26v1M91 24v1M128 24v1M43 22v1M151 22v1M189 22v1M69 20v1M188 20v1M76 19v1M142 17v1M23 15v1M153 15v1M190 15v1M53 14v1M180 13v1M108 12v1M44 11v1M58 10v1M37 8v1M109 8v1M64 7v1M116 7v1M145 7v1M172 5v1M179 5v1M36 4v1M110 4v1M86 3v1M44 2v1M49 1v1M104 1v1"/><path stroke="#21908d" d="M74 30v1M79 30v1M195 30v1M152 29v1M13 28v1M25 28v1M137 28v1M70 27v1M191 27v1M104 26v1M42 24v1M50 24v1M179 24v1M37 22v1M98 22v1M197 22v1M2 21v1M184 21v1M30 18v1M74 12v1M146 12v1M51 11v1M135 11v1M161 11v1M78 10v1M49 9v1M155 8v1M176 8v1M92 7v1M160 6v1M93 5v1M187 4v1M39 3v1M97 3v1M10 2v1M154 2v1M168 2v1M40 1v1M163 1v1M148 0v1M196 0v1"/><path stroke="#21918c" d="M157 30v1M13 29v1M114 29v1M58 28v1M16 26v1M120 26v1M170 26v1M184 26v1M26 25v1M58 25v1M75 25v1M86 24v1M169 24v1M96 22v1M102 22v1M157 22v1M157 19v1M16 18v1M92 18v1M83 17v1M118 17v1M133 17v1M54 15v1M64 15v1M116 15v1M3 14v1M67 13v1M81 13v1M16 12v1M162 11v1M152 10v1M151 9v1M54 6v1M42 5v1M43 5v1M142 5v1M181 5v1M76 4v1M184 4v1M63 2v1M38 1v1"/><path stroke="#20928c" d="M54 31v1M108 31v1M70 30v1M50 29v1M71 28v1M132 28v1M176 27v1M1 25v1M158 25v1M194 24v1M97 22v1M190 21v1M12 19v1M51 19v1M63 18v1M184 17v1M32 16v1M137 16v1M179 16v1M62 15v1M63 15v1M8 14v1M77 14v1M24 12v1M31 10v1M19 9v1M124 7v1M199 7v1M29 6v1M39 5v1M107 5v1M45 3v1M56 3v1M61 2v1M158 1v1M83 0v1"/><path stroke="#20928c" d="M83 31v1M134 28v1M22 27v1M147 27v1M183 26v1M24 23v1M128 22v1M64 21v1M161 21v1M59 20v1M126 20v1M136 19v1M54 16v1M132 15v1M49 14v1M98 13v1M133 13v1M168 12v1M77 11v1M52 10v1M70 10v1M72 9v1M130 9v1M43 7v1M183 7v1M186 7v1M117 6v1M7 3v1M154 3v1M116 2v1M1 1v1M117 1v1M167 1v1M183 1v1"/><path stroke="#20938c" d="M102 31v1M24 30v1M159 30v1M189 30v1M148 29v1M49 28v1M188 27v1M70 25v1M128 23v1M27 21v1M181 21v1M192 21v1M139 18v1M15 17v1M116 16v1M127 16v1M122 15v1M140 15v1M195 15v1M26 14v1M122 14v1M55 12v1M155 12v1M13 11v1M161 10v1M88 9v1M14 8v1M117 8v1M128 7v1M189 4v1M157 3v1M189 3v1M28 0v1M60 0v1"/><path stroke="#1f948c" d="M30 30v1M59 30v1M79 29v1M125 29v1M151 28v1M90 26v1M53 25v1M66 25v1M106 25v1M119 25v1M140 24v1M86 23v1M99 22v1M43 21v1M71 21v1M35 20v1M144 20v1M176 20v1M114 19v1M199 19v1M142 16v1M45 15v1M115 15v1M11 14v1M141 14v1M30 13v1M2 12v1M137 11v1M191 11v1M100 8v1M129 7v1M188 6v1M65 5v1M138 5v1M6 1v1M2 0v1M8 0v1M171 0v1"/><path stroke="#1f958b" d="M23 31v1M114 31v1M185 31v1M17 30v1M38 30v1M55 29v1M150 29v1M172 29v1M2 28v1M136 28v1M42 27v1M98 27v1M60 25v1M161 25v1M137 24v1M151 24v1M44 23v1M127 22v1M191 22v1M98 21v1M103 20v1M25 19v1M71 19v1M121 19v1M129 19v1M151 19v1M19 18v1M158 17v1M38 16v1M62 16v1M128 15v1M135 15v1M36 14v1M65 13v1M74 13v1M120 13v1M36 12v1M181 11v1M63 10v1M0 9v1M95 8v1M111 7v1M131 7v1M141 7v1M44 6v1M156 6v1M91 5v1M57 4v1M173 4v1M129 1v1M70 0v1"/><path stroke="#1f968b" d="M0 31v1M179 31v1M15 30v1M99 30v1M123 30v1M126 30v1M170 30v1M96 29v1M29 28v1M53 28v1M170 28v1M129 26v1M108 25v1M27 23v1M132 21v1M124 18v1M17 17v1M39 14v1M105 14v1M156 14v1M197 12v1M3 10v1M11 9v1M85 9v1M156 9v1M9 7v1M27 7v1M56 7v1M6 6v1M62 4v1M81 3v1M116 3v1M191 3v1M108 2v1M175 1v1M55 0v1M90 0v1"/><path stroke="#1f978b" d="M81 29v1M133 29v1M117 28v1M144 27v1M148 27v1M164 25v1M76 24v1M177 24v1M27 22v1M178 22v1M107 20v1M135 20v1M81 19v1M154 17v1M117 16v1M168 15v1M63 14v1M90 14v1M101 14v1M147 14v1M20 12v1M115 12v1M127 12v1M143 12v1M188 12v1M60 11v1M116 11v1M150 11v1M152 11v1M71 10v1M170 10v1M15 9v1M81 9v1M9 8v1M135 8v1M132 7v1M27 6v1M78 6v1M149 4v1M13 3v1M96 3v1M45 1v1M135 1v1M32 0v1"/><path stroke="#1f988b" d="M62 31v1M147 31v1M42 30v1M60 30v1M153 28v1M1 27v1M194 27v1M30 26v1M155 26v1M59 24v1M144 24v1M26 22v1M34 21v1M97 21v1M106 21v1M178 20v1M80 19v1M142 19v1M4 18v1M20 18v1M162 18v1M192 18v1M101 17v1M153 17v1M92 16v1M128 16v1M74 14v1M22 13v1M142 12v1M199 12v1M76 10v1M135 9v1M72 7v1M103 7v1M104 7v1M170 7v1M10 6v1M159 6v1M18 5v1M72 5v1M163 3v1M102 2v1M143 2v1M34 1v1M171 1v1M75 0v1M109 0v1M193 0v1"/><path stroke="#1f998a" d="M29 31v1M116 31v1M125 31v1M168 31v1M37 30v1M80 30v1M115 30v1M165 30v1M48 27v1M100 25v1M61 24v1M68 23v1M105 21v1M16 20v1M91 20v1M127 20v1M159 19v1M110 17v1M135 17v1M160 17v1M50 16v1M152 14v1M48 13v1M99 12v1M34 11v1M58 11v1M68 11v1M104 10v1M180 9v1M72 8v1M88 8v1M83 6v1M120 6v1M129 5v1M151 5v1M75 4v1M172 4v1M59 3v1M156 2v1"/><path stroke="#1f9a8a" d="M40 31v1M56 31v1M106 31v1M125 30v1M52 29v1M89 27v1M170 27v1M11 26v1M179 26v1M3 23v1M88 23v1M1 22v1M41 22v1M47 22v1M117 22v1M133 21v1M13 20v1M81 20v1M109 20v1M175 16v1M0 15v1M91 14v1M139 14v1M11 13v1M123 11v1M127 10v1M151 10v1M156 10v1M12 7v1M133 7v1M14 5v1M26 5v1M31 5v1M89 5v1M148 5v1M114 4v1M77 3v1M127 3v1M62 2v1M118 2v1M149 2v1M197 2v1M112 1v1M130 1v1M93 0v1M104 0v1"/><path stroke="#1e9b8a" d="M41 31v1M169 31v1M193 31v1M43 30v1M83 29v1M141 29v1M71 27v1M185 27v1M189 26v1M85 24v1M121 24v1M22 23v1M33 23v1M68 22v1M147 20v1M28 19v1M89 18v1M40 17v1M178 17v1M28 16v1M96 16v1M164 16v1M170 16v1M19 15v1M179 15v1M173 14v1M189 14v1M165 12v1M192 11v1M60 10v1M162 9v1M64 8v1M70 7v1M100 7v1M110 6v1M46 5v1M78 5v1M27 4v1M31 4v1M137 4v1M197 3v1M124 2v1M192 1v1"/><path stroke="#1e9c89" d="M86 30v1M133 30v1M20 29v1M132 29v1M41 28v1M134 27v1M83 26v1M167 26v1M106 24v1M142 24v1M168 24v1M114 22v1M79 19v1M87 19v1M165 19v1M97 18v1M9 15v1M75 15v1M101 15v1M123 15v1M172 15v1M192 15v1M7 12v1M80 12v1M152 12v1M70 11v1M183 11v1M17 10v1M142 10v1M155 9v1M3 8v1M36 7v1M157 7v1M82 5v1M173 5v1M176 5v1M2 2v1M39 0v1"/><path stroke="#1e9d89" d="M97 31v1M161 31v1M58 30v1M102 30v1M69 29v1M110 27v1M167 27v1M41 26v1M100 26v1M110 25v1M174 23v1M65 22v1M86 22v1M190 19v1M88 18v1M107 18v1M59 17v1M184 16v1M102 15v1M185 14v1M35 13v1M159 13v1M126 11v1M41 9v1M47 9v1M107 9v1M14 7v1M70 6v1M71 6v1M100 6v1M164 6v1M194 6v1M19 5v1M95 4v1M142 4v1M151 4v1M175 4v1M164 3v1M146 2v1M199 2v1M63 1v1M3 0v1"/><path stroke="#1f9e89" d="M60 31v1M23 30v1M151 29v1M192 28v1M13 27v1M123 27v1M10 26v1M143 26v1M21 24v1M39 23v1M175 23v1M179 23v1M5 22v1M112 21v1M2 20v1M123 17v1M11 16v1M45 16v1M146 16v1M153 14v1M28 12v1M62 12v1M28 11v1M32 11v1M88 11v1M197 11v1M68 10v1M164 10v1M143 9v1M168 8v1M24 7v1M162 7v1M129 6v1M46 3v1M183 2v1M142 1v1M169 1v1M196 1v1M23 0v1M61 0v1"/><path stroke="#1f9f88" d="M24 31v1M90 31v1M130 30v1M152 30v1M156 29v1M79 28v1M87 28v1M197 28v1M106 27v1M119 26v1M9 25v1M14 23v1M69 23v1M192 22v1M141 21v1M9 19v1M146 19v1M99 18v1M158 15v1M166 15v1M127 14v1M0 13v1M150 13v1M19 11v1M18 10v1M18 9v1M157 9v1M18 8v1M183 6v1M140 5v1M174 3v1M178 2v1M5 1v1M150 1v1"/><path stroke="#1fa088" d="M120 31v1M82 29v1M5 27v1M114 27v1M98 25v1M106 23v1M165 23v1M120 21v1M76 20v1M13 18v1M179 18v1M84 17v1M76 16v1M81 15v1M191 15v1M171 14v1M110 11v1M176 10v1M30 7v1M87 7v1M164 7v1M72 6v1M103 6v1M73 5v1M53 4v1M127 4v1M181 1v1M108 0v1"/><path stroke="#1fa188" d="M154 30v1M158 30v1M0 29v1M97 28v1M189 28v1M3 27v1M116 27v1M197 26v1M29 25v1M101 25v1M116 23v1M14 21v1M79 20v1M108 20v1M124 20v1M41 19v1M103 18v1M143 18v1M62 17v1M73 17v1M126 15v1M157 15v1M41 14v1M163 14v1M69 13v1M170 13v1M172 12v1M128 10v1M165 10v1M76 9v1M21 5v1M38 4v1M33 3v1M34 3v1M74 3v1M40 2v1M137 2v1M91 1v1M180 1v1M116 0v1"/><path stroke="#1fa187" d="M12 31v1M94 31v1M32 30v1M46 30v1M196 30v1M189 29v1M30 28v1M69 28v1M178 27v1M20 26v1M138 25v1M113 23v1M130 23v1M76 22v1M150 22v1M46 21v1M134 18v1M6 12v1M34 9v1M77 8v1M79 5v1M68 4v1M168 4v1M130 2v1M148 2v1"/><path stroke="#1fa287" d="M149 31v1M143 30v1M100 28v1M150 28v1M167 28v1M91 26v1M74 25v1M70 24v1M187 24v1M38 21v1M18 19v1M131 19v1M69 18v1M83 16v1M102 16v1M127 15v1M155 15v1M177 15v1M184 15v1M186 15v1M56 12v1M49 11v1M22 10v1M98 10v1M106 10v1M132 10v1M84 9v1M114 8v1M143 8v1M7 7v1M45 6v1M50 5v1M66 5v1M90 5v1M3 4v1M40 3v1M75 3v1M147 3v1M103 2v1M36 1v1M170 1v1"/><path stroke="#20a386" d="M178 31v1M107 30v1M80 29v1M187 29v1M173 27v1M187 27v1M36 26v1M12 25v1M38 25v1M69 25v1M101 23v1M195 23v1M6 22v1M34 22v1M63 22v1M5 19v1M43 19v1M95 19v1M186 17v1M52 16v1M71 16v1M24 15v1M57 14v1M191 14v1M119 13v1M192 13v1M157 12v1M167 12v1M9 11v1M107 8v1M119 7v1M172 7v1M100 3v1M150 2v1M119 0v1M173 0v1"/><path stroke="#20a486" d="M47 31v1M163 30v1M126 29v1M166 29v1M180 29v1M1 28v1M32 28v1M80 27v1M87 27v1M90 24v1M167 24v1M16 22v1M52 22v1M123 21v1M150 21v1M51 18v1M109 16v1M95 14v1M2 13v1M160 13v1M76 12v1M103 12v1M191 12v1M33 11v1M9 9v1M133 9v1M175 9v1M53 8v1M107 7v1M143 7v1M109 5v1M134 4v1M71 3v1M112 2v1M136 2v1M69 1v1M89 1v1M94 1v1M86 0v1M141 0v1"/><path stroke="#21a585" d="M132 31v1M136 31v1M53 30v1M128 30v1M28 28v1M111 28v1M143 27v1M66 26v1M125 26v1M1 21v1M70 20v1M189 20v1M45 19v1M105 19v1M193 19v1M35 16v1M51 16v1M65 16v1M150 16v1M174 16v1M13 14v1M30 14v1M197 14v1M171 13v1M190 13v1M43 12v1M102 12v1M151 12v1M42 11v1M56 11v1M108 10v1M139 10v1M182 9v1M186 8v1M104 6v1M45 5v1M183 5v1M88 4v1M108 4v1M118 3v1M137 3v1M162 3v1M160 2v1M68 1v1M168 1v1M10 0v1M20 0v1M24 0v1"/><path stroke="#21a685" d="M82 31v1M96 30v1M17 29v1M157 29v1M103 27v1M105 27v1M166 26v1M168 25v1M175 25v1M64 24v1M65 24v1M104 22v1M121 22v1M155 22v1M101 21v1M55 19v1M167 19v1M110 18v1M149 18v1M80 17v1M0 16v1M13 16v1M70 16v1M114 16v1M166 16v1M28 15v1M142 15v1M177 14v1M32 13v1M121 9v1M167 9v1M158 5v1M45 2v1M167 2v1M73 1v1M76 1v1"/><path stroke="#22a785" d="M1 31v1M95 30v1M46 29v1M60 29v1M74 29v1M117 29v1M183 29v1M65 27v1M84 26v1M116 25v1M10 24v1M197 23v1M59 22v1M55 21v1M42 19v1M86 19v1M98 19v1M152 18v1M164 17v1M189 16v1M152 13v1M82 12v1M84 10v1M101 10v1M162 10v1M5 9v1M54 7v1M178 7v1M62 6v1M163 6v1M179 6v1M89 4v1M135 4v1M154 4v1M19 1v1M122 1v1M133 1v1M123 0v1"/><path stroke="#22a884" d="M171 31v1M65 30v1M164 29v1M3 28v1M76 28v1M122 27v1M165 25v1M184 24v1M49 23v1M170 23v1M118 22v1M37 21v1M135 21v1M188 21v1M95 20v1M70 19v1M93 19v1M12 18v1M22 18v1M61 18v1M141 16v1M1 15v1M139 15v1M70 14v1M83 14v1M5 12v1M90 11v1M9 10v1M2 9v1M6 9v1M112 9v1M187 9v1M75 8v1M3 7v1M49 7v1M55 7v1M102 6v1M114 6v1M118 6v1M2 5v1M30 5v1M86 5v1M111 3v1M86 2v1M0 0v1"/><path stroke="#23a983" d="M155 30v1M198 29v1M67 28v1M67 24v1M167 21v1M18 20v1M13 19v1M69 17v1M128 17v1M81 16v1M150 15v1M46 13v1M124 13v1M136 12v1M37 11v1M91 10v1M126 10v1M28 9v1M131 9v1M146 9v1M130 8v1M83 7v1M121 7v1M193 7v1M57 5v1M84 5v1M15 3v1M132 2v1M35 1v1M145 1v1M22 0v1M176 0v1"/><path stroke="#24aa83" d="M57 30v1M158 29v1M190 28v1M9 26v1M16 25v1M116 24v1M65 23v1M58 22v1M101 22v1M152 22v1M156 22v1M14 20v1M44 19v1M53 19v1M183 19v1M72 18v1M151 18v1M85 16v1M16 14v1M23 11v1M138 11v1M199 11v1M37 10v1M12 9v1M44 9v1M141 9v1M59 8v1M142 8v1M120 7v1M127 6v1M122 5v1M55 4v1M130 4v1M138 4v1M158 4v1M120 3v1M101 2v1M109 2v1M106 1v1M78 0v1M189 0v1"/><path stroke="#25ab82" d="M10 31v1M119 31v1M167 31v1M63 30v1M56 28v1M159 28v1M2 27v1M0 26v1M68 26v1M24 25v1M153 25v1M199 25v1M160 24v1M110 23v1M123 23v1M134 23v1M36 22v1M140 22v1M166 20v1M3 19v1M25 18v1M26 18v1M102 17v1M159 17v1M125 14v1M143 14v1M175 12v1M38 11v1M112 11v1M21 10v1M187 10v1M100 9v1M103 9v1M120 8v1M174 7v1M97 6v1M18 4v1M165 3v1M22 2v1M52 2v1M15 1v1M136 1v1M174 1v1M1 0v1M100 0v1M102 0v1"/><path stroke="#25ac82" d="M33 30v1M16 27v1M140 27v1M82 25v1M122 25v1M33 24v1M75 24v1M172 24v1M29 22v1M119 22v1M16 19v1M19 19v1M72 19v1M125 18v1M164 18v1M134 17v1M58 16v1M117 13v1M139 13v1M187 13v1M148 12v1M194 12v1M39 11v1M178 11v1M43 9v1M83 9v1M154 8v1M13 7v1M149 7v1M166 7v1M95 6v1M24 5v1M144 5v1M193 5v1M161 4v1M108 3v1M141 3v1M38 2v1M73 2v1M107 1v1M125 1v1M190 1v1"/><path stroke="#26ad81" d="M124 29v1M183 28v1M38 26v1M160 26v1M145 22v1M61 21v1M115 21v1M178 19v1M50 18v1M49 16v1M158 16v1M193 16v1M38 13v1M137 13v1M135 12v1M179 12v1M160 10v1M186 9v1M89 7v1M20 6v1M2 4v1M112 4v1M119 4v1M140 4v1M79 3v1M106 3v1M123 2v1M47 1v1M182 0v1"/><path stroke="#27ad81" d="M25 30v1M4 29v1M72 29v1M17 28v1M113 28v1M124 28v1M84 27v1M152 27v1M164 27v1M45 25v1M187 25v1M189 25v1M25 23v1M121 23v1M81 22v1M28 21v1M51 20v1M148 20v1M183 20v1M43 17v1M17 16v1M111 15v1M183 15v1M161 14v1M118 11v1M145 11v1M89 10v1M97 10v1M124 10v1M140 10v1M29 9v1M117 9v1M127 9v1M93 7v1M187 7v1M11 6v1M146 5v1M37 4v1M122 4v1M36 2v1M186 2v1M4 1v1M26 1v1M67 1v1M170 0v1"/><path stroke="#28ae80" d="M11 31v1M127 31v1M129 31v1M1 29v1M49 29v1M89 29v1M22 28v1M24 27v1M183 27v1M198 27v1M22 25v1M61 25v1M43 24v1M5 23v1M122 23v1M6 20v1M129 20v1M131 20v1M55 17v1M25 16v1M74 15v1M173 15v1M98 14v1M120 14v1M105 13v1M172 13v1M175 13v1M193 13v1M24 11v1M93 9v1M74 8v1M34 7v1M137 6v1M69 5v1M106 5v1M79 4v1M183 3v1M135 2v1M194 0v1"/><path stroke="#29af7f" d="M70 31v1M188 29v1M72 28v1M166 28v1M126 25v1M32 24v1M132 24v1M60 23v1M9 21v1M139 19v1M168 19v1M31 18v1M85 17v1M188 16v1M163 15v1M59 13v1M97 12v1M149 12v1M91 11v1M186 11v1M30 9v1M17 5v1M70 4v1M197 4v1M121 2v1M28 1v1M132 1v1M197 1v1"/><path stroke="#2ab07f" d="M8 30v1M121 30v1M194 30v1M154 29v1M159 29v1M82 28v1M50 27v1M120 27v1M148 26v1M150 24v1M115 23v1M117 21v1M122 21v1M20 19v1M39 17v1M94 17v1M148 17v1M195 16v1M46 15v1M198 14v1M0 12v1M84 12v1M70 9v1M64 6v1M65 6v1M115 6v1M133 5v1M61 4v1M5 3v1M65 3v1M66 3v1M156 3v1M66 1v1M134 1v1M9 0v1M128 0v1"/><path stroke="#2cb17e" d="M174 30v1M188 30v1M127 28v1M55 27v1M112 27v1M168 27v1M1 26v1M95 26v1M103 26v1M118 26v1M50 22v1M149 22v1M116 18v1M16 15v1M78 15v1M159 15v1M181 15v1M189 15v1M84 14v1M112 13v1M63 12v1M43 11v1M91 8v1M156 8v1M188 8v1M47 4v1M31 1v1M52 1v1M82 1v1M94 0v1M106 0v1"/><path stroke="#2db27d" d="M160 30v1M168 30v1M169 29v1M28 26v1M171 26v1M122 24v1M182 24v1M19 20v1M116 20v1M180 20v1M194 20v1M170 19v1M54 17v1M37 15v1M52 13v1M19 12v1M1 9v1M169 9v1M6 8v1M125 8v1M75 5v1M76 3v1M23 2v1M162 1v1M97 0v1"/><path stroke="#2eb37c" d="M107 31v1M182 31v1M26 29v1M161 28v1M180 28v1M79 27v1M147 26v1M141 25v1M159 23v1M91 22v1M18 21v1M170 21v1M1 19v1M36 19v1M175 18v1M45 17v1M51 17v1M27 16v1M148 16v1M151 16v1M155 16v1M36 13v1M11 11v1M40 10v1M12 8v1M28 8v1M126 8v1M19 6v1M0 5v1M36 3v1M43 2v1M84 2v1M140 2v1M58 1v1"/><path stroke="#2fb47c" d="M11 28v1M176 28v1M8 27v1M9 27v1M117 27v1M88 25v1M171 25v1M47 24v1M89 21v1M195 20v1M56 18v1M102 18v1M113 17v1M34 16v1M125 16v1M136 15v1M7 14v1M65 14v1M85 13v1M95 13v1M146 13v1M183 13v1M178 12v1M62 11v1M69 10v1M57 9v1M111 8v1M38 7v1M111 6v1M147 6v1M95 5v1M21 4v1M196 4v1M136 3v1"/><path stroke="#31b57b" d="M76 30v1M163 29v1M55 28v1M115 25v1M129 24v1M130 24v1M136 24v1M96 23v1M126 23v1M57 22v1M80 22v1M86 21v1M61 19v1M88 19v1M14 17v1M66 16v1M12 15v1M64 14v1M93 14v1M97 14v1M34 13v1M109 12v1M72 11v1M101 11v1M121 11v1M157 8v1M172 8v1M60 7v1M7 6v1M8 6v1M198 6v1M197 5v1M135 3v1M125 2v1M14 1v1M37 1v1M56 0v1M58 0v1M120 0v1M163 0v1"/><path stroke="#32b67a" d="M53 31v1M194 31v1M33 26v1M116 26v1M129 25v1M108 23v1M188 23v1M41 21v1M8 19v1M150 19v1M178 18v1M141 17v1M152 17v1M156 16v1M112 14v1M116 14v1M121 14v1M151 14v1M46 12v1M67 12v1M41 10v1M102 10v1M159 10v1M16 8v1M139 8v1M2 7v1M6 7v1M31 6v1M155 4v1M156 4v1M17 3v1M35 2v1M43 0v1M152 0v1"/><path stroke="#34b679" d="M188 31v1M85 30v1M7 29v1M162 29v1M66 28v1M189 27v1M35 26v1M14 25v1M192 24v1M87 22v1M184 18v1M58 17v1M63 17v1M176 17v1M145 16v1M7 15v1M27 15v1M155 10v1M170 9v1M40 6v1M135 6v1M0 4v1M28 4v1M136 4v1M22 3v1M85 1v1M18 0v1"/><path stroke="#35b779" d="M8 29v1M51 29v1M73 27v1M96 27v1M53 23v1M175 22v1M99 21v1M154 20v1M188 19v1M88 17v1M132 16v1M90 15v1M95 15v1M168 14v1M29 12v1M107 11v1M48 10v1M73 8v1M32 5v1M199 5v1M27 2v1M171 2v1M114 1v1M79 0v1"/><path stroke="#37b878" d="M46 31v1M1 30v1M41 30v1M140 30v1M32 27v1M48 25v1M121 25v1M140 25v1M179 25v1M29 24v1M175 24v1M48 23v1M20 22v1M124 22v1M4 21v1M153 21v1M192 20v1M150 18v1M132 17v1M2 16v1M101 16v1M8 15v1M44 15v1M96 15v1M175 14v1M36 11v1M147 11v1M43 10v1M134 10v1M193 9v1M7 8v1M18 7v1M118 7v1M184 7v1M191 7v1M2 6v1M13 5v1M96 4v1M171 4v1M181 2v1"/><path stroke="#38b977" d="M95 31v1M2 30v1M21 28v1M46 28v1M108 26v1M117 26v1M79 25v1M73 22v1M172 22v1M185 22v1M60 19v1M91 19v1M125 19v1M0 18v1M10 18v1M176 14v1M33 12v1M162 12v1M1 8v1M147 5v1M32 3v1M45 0v1M89 0v1"/><path stroke="#3aba76" d="M131 31v1M42 29v1M196 29v1M45 28v1M91 28v1M46 27v1M94 26v1M142 26v1M169 25v1M81 24v1M97 24v1M51 23v1M156 23v1M181 23v1M53 21v1M145 19v1M79 17v1M121 16v1M154 15v1M34 14v1M62 14v1M142 14v1M190 14v1M134 11v1M177 11v1M4 10v1M118 10v1M183 9v1M11 8v1M35 7v1M173 6v1M63 5v1M57 3v1M120 2v1M153 2v1M21 1v1M54 1v1"/><path stroke="#3bbb75" d="M15 31v1M111 31v1M191 31v1M171 29v1M80 28v1M190 26v1M194 22v1M12 21v1M30 21v1M85 20v1M93 18v1M120 18v1M74 17v1M104 17v1M187 17v1M1 16v1M61 12v1M181 12v1M5 10v1M115 8v1M153 8v1M26 7v1M185 5v1M40 4v1M148 4v1M117 3v1M8 2v1M39 2v1M115 1v1"/><path stroke="#3dbc74" d="M55 31v1M110 31v1M4 27v1M63 25v1M83 25v1M162 24v1M29 23v1M97 23v1M23 21v1M151 21v1M94 20v1M85 19v1M126 18v1M189 18v1M7 17v1M9 16v1M71 15v1M162 15v1M128 13v1M8 12v1M9 12v1M8 10v1M140 9v1M152 9v1M160 9v1M50 8v1M151 8v1M182 8v1M109 7v1M115 7v1M179 7v1M137 5v1M155 5v1M105 2v1M120 1v1"/><path stroke="#3fbc73" d="M57 31v1M141 30v1M176 30v1M7 27v1M47 27v1M76 27v1M30 25v1M172 25v1M34 24v1M119 23v1M15 22v1M184 22v1M33 19v1M35 18v1M43 18v1M170 17v1M172 17v1M176 15v1M73 14v1M174 14v1M194 14v1M20 13v1M94 13v1M130 12v1M144 12v1M95 11v1M38 8v1M195 7v1M66 6v1M153 6v1M155 3v1M129 2v1"/><path stroke="#40bd72" d="M91 31v1M36 30v1M119 30v1M193 29v1M72 26v1M122 26v1M161 23v1M0 22v1M56 22v1M21 21v1M152 21v1M197 21v1M140 19v1M55 18v1M29 17v1M69 16v1M15 15v1M133 14v1M15 13v1M107 12v1M77 10v1M196 10v1M13 9v1M26 8v1M180 7v1M105 5v1M29 3v1M70 3v1M99 2v1M17 1v1M199 0v1"/><path stroke="#42be71" d="M62 30v1M44 28v1M177 28v1M0 27v1M59 26v1M149 26v1M76 25v1M77 22v1M136 21v1M143 20v1M187 20v1M82 19v1M142 18v1M199 18v1M36 16v1M190 16v1M27 14v1M128 11v1M163 11v1M16 10v1M120 9v1M147 9v1M149 9v1M5 8v1M51 8v1M171 8v1M140 7v1M39 6v1M107 3v1"/><path stroke="#44bf70" d="M194 29v1M10 28v1M14 28v1M37 28v1M103 28v1M123 28v1M85 25v1M157 25v1M107 24v1M191 24v1M54 23v1M79 23v1M185 23v1M52 21v1M103 21v1M52 20v1M167 20v1M58 18v1M67 17v1M104 16v1M178 16v1M58 15v1M180 12v1M165 9v1M16 5v1M62 5v1M85 5v1M17 4v1M63 4v1M124 3v1M152 2v1M29 0v1"/><path stroke="#46c06f" d="M75 30v1M98 28v1M158 27v1M169 27v1M132 23v1M165 20v1M123 19v1M172 19v1M8 18v1M41 18v1M76 17v1M29 16v1M67 16v1M97 16v1M15 14v1M67 14v1M134 14v1M43 13v1M120 12v1M87 11v1M111 11v1M131 11v1M171 11v1M87 6v1M141 5v1M11 4v1M45 4v1M81 4v1M118 4v1M49 3v1M124 0v1"/><path stroke="#48c16e" d="M18 28v1M114 28v1M115 27v1M175 27v1M4 26v1M45 26v1M67 25v1M31 24v1M135 24v1M116 22v1M130 21v1M157 21v1M100 20v1M153 19v1M1 18v1M74 18v1M10 16v1M106 16v1M183 16v1M78 14v1M95 12v1M177 12v1M0 11v1M120 11v1M15 10v1M100 10v1M48 8v1M196 5v1M25 3v1M114 3v1M44 1v1M105 1v1"/><path stroke="#4ac16d" d="M82 24v1M102 24v1M148 24v1M176 24v1M136 23v1M95 22v1M86 20v1M39 18v1M163 17v1M56 15v1M44 13v1M122 13v1M54 12v1M96 12v1M118 12v1M55 11v1M63 11v1M84 11v1M38 10v1M188 10v1M166 9v1M189 8v1M135 7v1M106 6v1M138 6v1M174 5v1M185 4v1M110 3v1M42 2v1M25 1v1"/><path stroke="#4cc26c" d="M11 30v1M106 30v1M11 29v1M104 27v1M121 27v1M141 27v1M40 26v1M199 26v1M111 25v1M113 22v1M20 20v1M44 20v1M164 20v1M182 20v1M4 16v1M147 15v1M181 14v1M90 13v1M11 12v1M48 12v1M158 12v1M27 11v1M189 11v1M19 10v1M54 10v1M180 10v1M86 9v1M184 8v1M8 5v1M48 4v1M152 4v1M166 3v1M78 2v1M122 2v1M102 1v1"/><path stroke="#4ec36b" d="M118 31v1M61 30v1M111 30v1M169 30v1M37 29v1M104 28v1M162 28v1M137 27v1M95 25v1M112 24v1M148 23v1M49 22v1M81 21v1M155 21v1M30 20v1M139 20v1M78 19v1M5 18v1M185 18v1M72 14v1M29 13v1M25 12v1M129 11v1M46 8v1M61 8v1M108 8v1M102 7v1M70 5v1M87 5v1M33 4v1M56 4v1M100 4v1M190 4v1M142 3v1M111 2v1M119 2v1M145 2v1M161 0v1"/><path stroke="#50c46a" d="M66 31v1M98 29v1M85 27v1M93 27v1M113 25v1M184 25v1M14 24v1M18 22v1M116 21v1M129 18v1M50 17v1M120 17v1M47 16v1M88 16v1M6 15v1M81 14v1M40 13v1M61 13v1M126 13v1M65 11v1M92 11v1M98 8v1M80 7v1M1 5v1M180 5v1M129 0v1"/><path stroke="#52c569" d="M23 29v1M60 28v1M165 28v1M196 27v1M138 26v1M7 25v1M40 25v1M109 25v1M133 25v1M103 23v1M169 17v1M105 16v1M136 16v1M103 14v1M169 14v1M116 13v1M174 11v1M103 10v1M197 9v1M94 8v1M191 5v1M143 4v1M73 3v1M139 3v1"/><path stroke="#54c568" d="M34 31v1M37 31v1M101 30v1M25 29v1M109 27v1M169 23v1M5 20v1M142 20v1M117 19v1M49 18v1M65 18v1M67 18v1M105 18v1M46 17v1M126 16v1M135 14v1M199 14v1M153 11v1M136 8v1M67 7v1M77 7v1M1 6v1M191 4v1M50 1v1M62 0v1"/><path stroke="#56c667" d="M89 31v1M184 30v1M23 28v1M109 28v1M155 27v1M165 27v1M193 26v1M163 23v1M78 21v1M163 20v1M103 19v1M144 19v1M154 19v1M14 18v1M40 18v1M122 17v1M199 16v1M170 14v1M74 11v1M117 7v1M182 7v1M48 6v1M154 5v1M105 4v1M1 2v1M10 1v1M132 0v1"/><path stroke="#58c765" d="M140 31v1M195 31v1M56 30v1M26 28v1M58 27v1M56 26v1M17 20v1M53 20v1M59 19v1M120 19v1M179 19v1M59 18v1M124 17v1M18 15v1M93 13v1M102 13v1M54 11v1M164 9v1M155 6v1M199 6v1M198 1v1M81 0v1"/><path stroke="#5ac864" d="M94 30v1M90 29v1M86 28v1M166 27v1M34 23v1M129 22v1M126 21v1M130 20v1M107 17v1M112 17v1M197 15v1M99 13v1M179 13v1M61 11v1M90 7v1M83 5v1M141 4v1M30 3v1M65 2v1M90 2v1"/><path stroke="#5cc863" d="M187 31v1M74 27v1M100 27v1M44 25v1M139 25v1M113 24v1M180 23v1M22 22v1M188 18v1M196 18v1M113 16v1M35 15v1M119 15v1M9 14v1M92 14v1M104 13v1M108 11v1M2 10v1M46 9v1M66 9v1M193 8v1M94 7v1M137 7v1M103 3v1M125 3v1M137 1v1M166 1v1M167 0v1"/><path stroke="#5ec962" d="M75 31v1M138 30v1M27 27v1M186 24v1M177 23v1M55 22v1M176 22v1M110 21v1M54 19v1M97 19v1M54 18v1M162 17v1M166 17v1M159 16v1M177 16v1M11 15v1M70 12v1M138 12v1M147 12v1M187 12v1M123 10v1M97 8v1M91 7v1M101 7v1M33 5v1"/><path stroke="#60ca60" d="M134 31v1M56 29v1M48 28v1M130 27v1M137 26v1M143 21v1M47 20v1M122 18v1M12 16v1M14 16v1M64 16v1M88 15v1M193 15v1M79 14v1M82 11v1M149 10v1M157 10v1M82 9v1M177 8v1M86 7v1M95 7v1M150 7v1M32 6v1M56 6v1M59 6v1M108 6v1M191 6v1M25 5v1M86 4v1M134 2v1"/><path stroke="#63cb5f" d="M146 31v1M148 31v1M67 30v1M3 29v1M153 27v1M115 26v1M144 23v1M9 22v1M158 22v1M181 22v1M85 21v1M78 20v1M123 20v1M169 19v1M180 19v1M187 19v1M38 17v1M50 15v1M125 15v1M70 13v1M106 13v1M178 10v1M189 10v1M104 9v1M132 9v1M56 8v1M145 8v1M51 7v1M74 7v1M75 7v1M46 6v1M122 6v1M132 6v1M111 5v1M82 4v1M131 4v1M186 4v1M159 0v1M184 0v1"/><path stroke="#65cb5e" d="M162 30v1M10 29v1M108 28v1M35 25v1M11 23v1M160 21v1M42 20v1M125 20v1M5 15v1M109 13v1M25 11v1M182 10v1M1 7v1M156 7v1M125 4v1M127 2v1M174 2v1M77 1v1"/><path stroke="#67cc5c" d="M196 31v1M3 30v1M136 30v1M151 27v1M60 26v1M131 26v1M21 25v1M46 25v1M27 24v1M73 24v1M183 21v1M102 20v1M92 19v1M184 19v1M77 18v1M0 17v1M4 17v1M98 17v1M129 17v1M143 16v1M38 14v1M34 12v1M30 10v1M115 10v1M186 10v1M25 9v1M17 8v1M179 8v1M127 7v1M154 6v1M156 5v1M162 5v1M121 3v1M48 1v1"/><path stroke="#69cd5b" d="M93 31v1M64 29v1M133 27v1M87 24v1M11 22v1M156 21v1M112 16v1M149 16v1M42 12v1M154 12v1M57 11v1M143 11v1M128 9v1M25 8v1M50 7v1M114 7v1M198 7v1M36 6v1M27 3v1M134 3v1M142 0v1"/><path stroke="#6ccd5a" d="M197 30v1M190 29v1M171 27v1M191 26v1M77 25v1M44 22v1M64 22v1M51 21v1M108 21v1M56 20v1M90 18v1M77 17v1M89 13v1M131 13v1M86 11v1M110 10v1M62 7v1M43 6v1M163 5v1M92 2v1M9 1v1M92 1v1M138 1v1M105 0v1"/><path stroke="#6ece58" d="M176 31v1M104 29v1M110 24v1M126 24v1M60 22v1M74 22v1M62 19v1M84 19v1M33 18v1M187 16v1M141 15v1M155 11v1M185 11v1M10 10v1M47 7v1M85 7v1M172 3v1M82 2v1M131 1v1M77 0v1"/><path stroke="#70cf57" d="M88 31v1M147 28v1M124 27v1M186 27v1M37 23v1M107 23v1M174 20v1M82 16v1M131 16v1M186 16v1M191 16v1M82 15v1M187 15v1M192 12v1M116 8v1M124 4v1M31 3v1M122 3v1M148 3v1M98 2v1M100 2v1M64 1v1"/><path stroke="#73d056" d="M52 30v1M178 29v1M50 28v1M144 26v1M150 23v1M118 21v1M125 21v1M66 20v1M156 19v1M36 17v1M167 16v1M160 14v1M108 13v1M118 13v1M72 12v1M122 11v1M177 10v1M38 9v1M48 9v1M123 9v1M44 8v1M113 6v1M184 6v1M106 2v1M138 2v1M139 2v1M65 1v1M57 0v1"/><path stroke="#75d054" d="M192 31v1M45 30v1M63 28v1M86 26v1M54 22v1M16 21v1M102 21v1M22 20v1M115 20v1M122 19v1M174 19v1M170 18v1M171 17v1M73 16v1M30 15v1M69 15v1M147 13v1M73 10v1M161 7v1M23 4v1M20 1v1M41 1v1M161 1v1"/><path stroke="#77d153" d="M128 27v1M184 27v1M94 25v1M15 23v1M77 23v1M92 22v1M100 22v1M148 21v1M97 20v1M137 19v1M47 18v1M4 12v1M39 12v1M195 12v1M3 11v1M109 10v1M147 10v1M144 8v1M176 7v1M197 6v1M26 4v1M14 2v1M192 2v1M121 0v1"/><path stroke="#7ad151" d="M50 31v1M197 31v1M84 30v1M103 29v1M78 26v1M161 26v1M189 24v1M74 23v1M35 19v1M89 19v1M66 18v1M185 15v1M40 14v1M73 13v1M164 13v1M148 11v1M65 9v1M94 9v1M21 7v1M0 6v1M174 6v1M76 5v1M163 4v1M172 2v1"/><path stroke="#7cd250" d="M102 28v1M124 26v1M25 24v1M111 21v1M169 21v1M27 18v1M57 18v1M128 12v1M105 11v1M195 10v1M181 3v1M97 1v1M111 0v1"/><path stroke="#7fd34e" d="M93 30v1M8 25v1M124 25v1M193 25v1M109 23v1M182 23v1M90 19v1M143 17v1M107 16v1M14 15v1M53 15v1M42 13v1M112 12v1M7 9v1M98 9v1M171 7v1M182 5v1M87 3v1M105 3v1M109 1v1"/><path stroke="#81d34d" d="M186 31v1M190 27v1M54 25v1M135 25v1M104 24v1M176 23v1M50 21v1M181 19v1M26 12v1M179 11v1M89 8v1M0 7v1M177 7v1M37 6v1M161 6v1M47 3v1M180 2v1"/><path stroke="#84d44b" d="M91 30v1M92 30v1M38 28v1M125 28v1M90 22v1M142 21v1M64 20v1M1 17v1M144 16v1M66 14v1M153 13v1M57 12v1M25 10v1M177 6v1M160 4v1M130 3v1M131 2v1M173 2v1M91 0v1M143 0v1"/><path stroke="#86d549" d="M74 31v1M167 29v1M195 29v1M86 25v1M49 24v1M166 24v1M51 22v1M140 17v1M80 15v1M174 13v1M185 8v1M92 6v1M52 0v1"/><path stroke="#89d548" d="M78 27v1M159 24v1M165 24v1M98 20v1M24 19v1M141 18v1M51 15v1M160 15v1M175 15v1M1 11v1M6 5v1M146 4v1M169 4v1M24 1v1M33 1v1M53 1v1M30 0v1M166 0v1"/><path stroke="#8bd646" d="M148 30v1M185 30v1M54 27v1M43 25v1M92 25v1M8 23v1M45 22v1M53 22v1M137 17v1M188 14v1M15 12v1M166 12v1M66 8v1M28 3v1"/><path stroke="#8ed645" d="M94 29v1M168 29v1M56 27v1M62 27v1M47 25v1M186 25v1M11 24v1M53 24v1M66 24v1M9 18v1M91 18v1M181 18v1M186 18v1M161 15v1M61 14v1M167 14v1M25 13v1M56 13v1M72 10v1M84 8v1M163 8v1M68 3v1M41 2v1M46 2v1M198 2v1M18 1v1M74 1v1"/><path stroke="#90d743" d="M115 29v1M6 27v1M66 27v1M131 25v1M149 23v1M155 20v1M37 19v1M38 19v1M100 17v1M23 16v1M128 14v1M83 13v1M94 11v1M24 9v1M158 8v1M145 5v1M132 3v1M9 2v1M147 2v1"/><path stroke="#93d741" d="M73 26v1M102 26v1M128 18v1M167 17v1M161 16v1M1 14v1M19 14v1M41 13v1M194 13v1M60 12v1M53 11v1M199 8v1M195 4v1M195 2v1"/><path stroke="#95d840" d="M7 31v1M67 31v1M26 26v1M176 26v1M185 24v1M111 23v1M25 20v1M49 20v1M94 15v1M195 13v1M8 8v1M67 8v1M16 7v1M69 7v1M180 4v1M79 2v1M139 0v1M153 0v1"/><path stroke="#98d83e" d="M44 31v1M31 25v1M17 21v1M172 20v1M94 19v1M22 17v1M61 17v1M44 16v1M68 16v1M129 14v1M85 12v1M158 10v1M179 10v1M185 10v1M183 8v1M176 6v1M12 5v1M87 4v1M26 3v1"/><path stroke="#9bd93c" d="M186 30v1M72 27v1M6 26v1M194 26v1M25 25v1M108 16v1M64 13v1M170 11v1M64 10v1M33 6v1M47 6v1M98 6v1M151 3v1M16 1v1"/><path stroke="#9dd93b" d="M149 28v1M138 27v1M73 25v1M76 23v1M162 22v1M77 21v1M44 18v1M13 15v1M36 15v1M66 15v1M138 15v1M40 5v1M77 5v1M125 5v1M16 4v1M146 0v1"/><path stroke="#a0da39" d="M15 27v1M97 25v1M196 25v1M151 23v1M138 20v1M91 17v1M170 15v1M44 14v1M163 13v1M171 12v1M175 11v1M43 8v1M80 8v1M164 4v1M179 3v1M34 2v1M77 2v1"/><path stroke="#a2da37" d="M31 28v1M172 28v1M154 27v1M101 24v1M23 22v1M24 21v1M193 21v1M26 13v1M122 12v1M48 7v1M52 7v1M65 7v1M100 5v1M65 4v1"/><path stroke="#a5db36" d="M195 26v1M185 25v1M138 24v1M166 23v1M159 22v1M67 20v1M137 20v1M53 18v1M138 18v1M72 16v1M199 13v1M127 11v1M110 9v1M76 7v1M49 6v1M79 6v1M138 3v1M152 3v1"/><path stroke="#a8db34" d="M44 29v1M89 24v1M137 21v1M133 10v1M181 8v1M112 5v1M83 4v1M91 2v1M151 1v1"/><path stroke="#aadc32" d="M158 31v1M162 31v1M147 30v1M78 29v1M96 28v1M111 27v1M51 24v1M156 24v1M130 22v1M139 21v1M87 20v1M76 18v1M23 9v1M55 6v1M105 6v1M42 1v1M47 0v1M115 0v1"/><path stroke="#addc30" d="M79 31v1M72 30v1M105 30v1M7 22v1M31 21v1M105 15v1M162 13v1M88 5v1M15 4v1M74 0v1"/><path stroke="#b0dd2f" d="M199 31v1M32 25v1M78 25v1M114 24v1M40 19v1M163 19v1M136 17v1M150 10v1M152 7v1M157 2v1M12 1v1"/><path stroke="#b2dd2d" d="M33 25v1M114 23v1M120 22v1M24 20v1M134 20v1M197 19v1M44 17v1M66 13v1M1 12v1M73 12v1M92 12v1M153 12v1M125 11v1M63 7v1M24 6v1M199 3v1M72 2v1M98 1v1"/><path stroke="#b5de2b" d="M12 29v1M20 28v1M141 24v1M146 24v1M112 23v1M157 20v1M60 17v1M55 15v1M58 12v1M26 11v1M169 7v1M175 6v1M64 3v1M175 3v1M7 2v1M113 0v1"/><path stroke="#b8de29" d="M100 30v1M33 28v1M132 25v1M160 16v1M48 14v1M53 13v1M170 12v1M58 8v1M107 6v1M186 6v1M102 3v1"/><path stroke="#bade28" d="M178 28v1M84 25v1M125 24v1M3 22v1M62 21v1M89 15v1M162 14v1M79 12v1M75 11v1M193 11v1M177 9v1M51 1v1"/><path stroke="#bddf26" d="M87 30v1M120 25v1M75 21v1M175 17v1M114 11v1M132 11v1M81 8v1M30 6v1M92 4v1"/><path stroke="#c0df25" d="M70 26v1M49 21v1M173 20v1M57 17v1M22 8v1M35 6v1M168 5v1M184 5v1"/><path stroke="#c2df23" d="M58 31v1M107 27v1M141 26v1M104 25v1M52 23v1M141 22v1M180 22v1M54 21v1M76 15v1M23 5v1M126 5v1M148 1v1M164 1v1"/><path stroke="#c5e021" d="M68 28v1M168 28v1M19 24v1M168 20v1M96 18v1M171 18v1M71 12v1M123 12v1M46 7v1M194 7v1M77 6v1M177 3v1"/><path stroke="#c8e020" d="M122 30v1M10 15v1M14 12v1M193 12v1M121 10v1M99 9v1M108 7v1M172 6v1M150 3v1M153 3v1M90 1v1"/><path stroke="#cae11f" d="M135 31v1M52 26v1M93 22v1M166 19v1M113 13v1M180 11v1M43 1v1"/><path stroke="#cde11d" d="M18 29v1M160 25v1M126 22v1M154 21v1M70 15v1M35 14v1M113 11v1M6 4v1M152 1v1"/><path stroke="#d0e11c" d="M191 28v1M34 25v1M161 24v1M115 19v1M128 19v1M87 16v1M41 12v1M32 9v1M194 2v1M111 1v1"/><path stroke="#d2e21b" d="M196 26v1M9 24v1M28 23v1M62 22v1M50 20v1M176 16v1M31 14v1M104 4v1M110 2v1M70 1v1"/><path stroke="#d5e21a" d="M180 25v1M163 22v1M48 18v1M8 17v1M157 16v1M185 16v1M96 11v1M103 11v1M74 6v1M98 5v1M72 0v1"/><path stroke="#d8e219" d="M139 30v1M112 22v1M100 21v1M38 20v1M112 18v1M95 16v1M45 14v1M134 12v1M134 9v1M20 5v1M194 4v1"/><path stroke="#dae319" d="M105 24v1M54 20v1M56 19v1M69 14v1M114 13v1M139 11v1M22 5v1M84 1v1"/><path stroke="#dde318" d="M33 9v1M128 3v1"/><path stroke="#dfe318" d="M73 30v1M42 26v1M87 25v1M124 24v1M187 22v1M99 17v1M131 17v1M122 10v1M105 7v1M97 4v1M149 1v1"/><path stroke="#e2e418" d="M144 28v1M11 20v1M24 13v1M90 12v1M52 11v1M162 8v1M50 6v1M187 6v1M126 3v1"/><path stroke="#e5e419" d="M181 29v1M146 28v1M57 25v1M164 19v1M184 11v1M36 9v1M97 9v1M197 8v1"/><path stroke="#e7e419" d="M48 24v1M14 22v1M46 22v1M167 11v1M161 9v1M96 5v1"/><path stroke="#eae51a" d="M160 27v1M172 18v1M112 15v1M61 10v1M185 9v1M163 7v1M103 5v1M6 0v1"/><path stroke="#ece51b" d="M81 27v1M146 26v1M61 16v1M119 14v1M67 11v1M113 9v1M73 6v1M103 4v1M123 3v1"/><path stroke="#efe51c" d="M19 28v1M106 28v1M22 21v1M182 21v1M107 19v1M168 18v1M197 17v1M17 15v1M24 14v1M62 13v1M104 11v1M170 6v1M144 2v1"/><path stroke="#f1e51d" d="M34 26v1M15 25v1M96 25v1M197 25v1M171 24v1M111 22v1M91 21v1M96 21v1M19 8v1M8 7v1M7 5v1M7 4v1M0 2v1"/><path stroke="#f4e61e" d="M49 31v1M8 24v1M82 21v1M104 14v1M171 6v1"/><path stroke="#f6e620" d="M5 30v1M111 24v1M102 19v1M190 18v1M75 17v1M2 15v1M83 12v1M80 6v1M48 3v1"/><path stroke="#f8e621" d="M84 29v1M97 26v1M145 23v1M56 21v1M39 19v1M182 19v1M174 18v1M169 16v1M167 10v1"/><path stroke="#fbe723" d="M5 26v1M69 26v1M198 25v1M162 23v1M114 18v1M93 16v1M68 14v1M107 13v1M42 0v1"/><path stroke="#fde725" d="M103 31v1M4 30v1M34 30v1M129 30v1M142 30v1M161 30v1M175 30v1M16 29v1M116 29v1M182 29v1M27 28v1M64 28v1M65 28v1M95 28v1M99 28v1M107 28v1M126 28v1M145 28v1M158 28v1M28 27v1M61 27v1M77 27v1M101 27v1M102 27v1M156 27v1M161 27v1M3 26v1M51 26v1M98 26v1M101 26v1M145 26v1M156 26v1M71 25v1M125 25v1M130 25v1M154 25v1M182 25v1M192 25v1M194 25v1M26 24v1M56 24v1M57 24v1M68 24v1M88 24v1M103 24v1M108 24v1M133 24v1M188 24v1M43 23v1M50 23v1M139 23v1M158 23v1M17 22v1M67 22v1M72 22v1M78 22v1M115 22v1M122 22v1M186 22v1M193 22v1M40 21v1M87 21v1M131 21v1M158 21v1M3 20v1M23 20v1M43 20v1M65 20v1M141 20v1M156 20v1M17 19v1M34 19v1M57 19v1M119 19v1M171 19v1M32 18v1M38 18v1M42 18v1M62 18v1M75 18v1M95 18v1M21 17v1M96 17v1M130 17v1M161 17v1M26 16v1M30 16v1M55 16v1M63 16v1M84 16v1M86 16v1M120 16v1M133 16v1M194 16v1M3 15v1M144 15v1M151 15v1M171 15v1M14 14v1M184 14v1M193 14v1M58 13v1M71 13v1M72 13v1M82 13v1M115 13v1M144 13v1M32 12v1M40 12v1M101 12v1M141 12v1M184 12v1M46 11v1M66 11v1M85 11v1M93 11v1M130 11v1M187 11v1M39 9v1M45 9v1M51 9v1M64 9v1M111 9v1M119 9v1M150 9v1M168 9v1M57 8v1M85 8v1M93 8v1M169 8v1M190 8v1M196 8v1M29 7v1M53 7v1M66 7v1M82 7v1M42 6v1M131 6v1M133 6v1M157 6v1M158 6v1M49 5v1M67 5v1M80 5v1M97 5v1M175 5v1M192 5v1M8 4v1M78 4v1M84 4v1M111 4v1M128 4v1M129 4v1M147 4v1M166 4v1M35 3v1M99 3v1M129 3v1M131 3v1M149 3v1M178 3v1M180 3v1M187 3v1M198 3v1M15 2v1M37 2v1M64 2v1M83 2v1M94 2v1M2 1v1M22 1v1M95 1v1M124 1v1M154 1v1M199 1v1M59 0v1M73 0v1M140 0v1M160 0v1M190 0v1"/></g>
<path class="grid" d="M57.05 396.25H604.95M57.05 338.75H604.95M57.05 281.25H604.95M57.05 223.75H604.95M57.05 166.25H604.95M57.05 108.75H604.95M57.05 51.25H604.95M58.42 34.00V402.00M126.91 34.00V402.00M195.39 34.00V402.00M263.88 34.00V402.00M332.37 34.00V402.00M400.86 34.00V402.00M469.34 34.00V402.00M537.83 34.00V402.00"/>
<defs><linearGradient id="cbg" x1="0" y1="0" x2="0" y2="1"><stop offset="0.0000" stop-color="#fde725"/><stop offset="0.0312" stop-color="#ece51b"/><stop offset="0.0625" stop-color="#d8e219"/><stop offset="0.0938" stop-color="#c2df23"/><stop offset="0.1250" stop-color="#addc30"/><stop offset="0.1562" stop-color="#98d83e"/><stop offset="0.1875" stop-color="#84d44b"/><stop offset="0.2188" stop-color="#70cf57"/><stop offset="0.2500" stop-color="#5ec962"/><stop offset="0.2812" stop-color="#4ec36b"/><stop offset="0.3125" stop-color="#3fbc73"/><stop offset="0.3438" stop-color="#32b67a"/><stop offset="0.3750" stop-color="#28ae80"/><stop offset="0.4062" stop-color="#22a785"/><stop offset="0.4375" stop-color="#1fa088"/><stop offset="0.4688" stop-color="#1f988b"/><stop offset="0.5000" stop-color="#21918c"/><stop offset="0.5312" stop-color="#23898e"/><stop offset="0.5625" stop-color="#26828e"/><stop offset="0.5938" stop-color="#297a8e"/><stop offset="0.6250" stop-color="#2c728e"/><stop offset="0.6562" stop-color="#2f6b8e"/><stop offset="0.6875" stop-color="#33638d"/><stop offset="0.7188" stop-color="#375b8d"/><stop offset="0.7500" stop-color="#3b528b"/><stop offset="0.7812" stop-color="#3e4989"/><stop offset="0.8125" stop-color="#424086"/><stop offset="0.8438" stop-color="#453781"/><stop offset="0.8750" stop-color="#472d7b"/><stop offset="0.9062" stop-color="#482374"/><stop offset="0.9375" stop-color="#48186a"/><stop offset="0.9688" stop-color="#470d60"/><stop offset="1.0000" stop-color="#440154"/></linearGradient></defs><rect x="632.0" y="50.3" width="17.90" height="335.70" fill="url(#cbg)"/><path d="M631.0 50.699999999999996L641.0 33.0L650.0 50.699999999999996Z" fill="#fde725" shape-rendering="crispEdges"/><path d="M631.0 385.6L641.0 401.8L650.0 385.6Z" fill="#440154" shape-rendering="crispEdges"/>
<path class="grid" d="M774.50 401.50H1291.50M774.50 339.30H1291.50M774.50 277.10H1291.50M774.50 214.90H1291.50M774.50 152.70H1291.50M774.50 90.50H1291.50M798.50 35.10V401.50M857.50 35.10V401.50M916.50 35.10V401.50M975.50 35.10V401.50M1034.50 35.10V401.50M1093.50 35.10V401.50M1152.50 35.10V401.50M1211.50 35.10V401.50M1270.50 35.10V401.50"/>
<g fill="none" stroke="#3cb4aa" stroke-width="0.6" stroke-opacity="0.6" stroke-linejoin="round"><polyline points="798.5,203.7 800.9,193.2 803.2,211.2 805.6,236.4 807.9,226.2 810.3,242.9 812.7,209.4 815.0,157.9 817.4,211.8 819.7,227.1 822.1,191.2 824.5,188.7 826.8,197.0 829.2,235.0 831.5,211.0 833.9,180.8 836.3,246.2 838.6,228.2 841.0,275.2 843.3,263.2 845.7,280.1 848.1,227.2 850.4,252.8 852.8,204.0 855.1,198.3 857.5,209.2 859.9,293.0 862.2,240.4 864.6,212.8 866.9,201.5 869.3,256.9 871.7,231.1 874.0,243.5 876.4,240.0 878.7,173.8 881.1,226.0 883.5,209.3 885.8,173.8 888.2,218.2 890.5,210.5 892.9,201.2 895.3,201.0 897.6,246.1 900.0,209.5 902.3,157.2 904.7,248.6 907.1,182.6 909.4,195.3 911.8,224.5 914.1,137.8 916.5,163.8 918.9,237.8 921.2,207.9 923.6,184.3 925.9,206.4 928.3,180.3 930.7,201.4 933.0,179.9 935.4,148.5 937.7,216.3 940.1,199.1 942.5,219.0 944.8,202.3 947.2,245.0 949.5,232.3 951.9,216.3 954.3,174.7 956.6,157.8 959.0,240.9 961.3,239.0 963.7,188.1 966.1,270.4 968.4,233.3 970.8,213.0 973.1,161.5 975.5,171.1 977.9,208.7 980.2,217.6 982.6,215.3 984.9,152.6 987.3,208.5 989.7,215.3 992.0,193.7 994.4,205.9 996.7,211.1 999.1,244.2 1001.5,212.2 1003.8,220.9 1006.2,166.3 1008.5,173.3 1010.9,198.5 1013.3,179.2 1015.6,210.7 1018.0,168.2 1020.3,196.8 1022.7,181.9 1025.1,244.6 1027.4,199.7 1029.8,262.1 1032.1,286.7 1034.5,231.0 1036.9,240.7 1039.2,205.4 1041.6,125.4 1043.9,217.2 1046.3,228.3 1048.7,201.4 1051.0,186.0 1053.4,206.3 1055.7,211.4 1058.1,180.6 1060.5,180.9 1062.8,235.4 1065.2,212.8 1067.5,204.3 1069.9,240.8 1072.3,202.0 1074.6,233.4 1077.0,175.6 1079.3,191.3 1081.7,198.1 1084.1,223.3 1086.4,211.8 1088.8,275.3 1091.1,257.7 1093.5,201.8 1095.9,277.9 1098.2,188.9 1100.6,261.9 1102.9,188.8 1105.3,230.4 1107.7,181.7 1110.0,194.7 1112.4,255.8 1114.7,170.3 1117.1,146.5 1119.5,194.6 1121.8,211.5 1124.2,210.9 1126.5,239.3 1128.9,172.3 1131.3,216.5 1133.6,208.0 1136.0,232.4 1138.3,231.4 1140.7,254.0 1143.1,169.7 1145.4,202.3 1147.8,169.6 1150.1,196.4 1152.5,226.6 1154.9,219.7 1157.2,226.5 1159.6,208.0 1161.9,217.7 1164.3,217.0 1166.7,254.7 1169.0,242.2 1171.4,153.4 1173.7,217.2 1176.1,243.3 1178.5,199.8 1180.8,153.6 1183.2,244.6 1185.5,219.2 1187.9,229.0 1190.3,270.5 1192.6,191.3 1195.0,202.0 1197.3,200.9 1199.7,229.5 1202.1,192.9 1204.4,220.4 1206.8,212.1 1209.1,244.2 1211.5,254.4 1213.9,167.0 1216.2,214.1 1218.6,195.6 1220.9,203.3 1223.3,219.1 1225.7,224.6 1228.0,185.8 1230.4,210.7 1232.7,210.4 1235.1,204.3 1237.5,162.6 1239.8,171.6 1242.2,183.9 1244.5,219.5 1246.9,255.3 1249.3,180.7 1251.6,165.2 1254.0,200.9 1256.3,184.2 1258.7,172.4 1261.1,168.3 1263.4,164.3 1265.8,211.8 1268.1,152.2"/><polyline points="798.5,248.3 800.9,182.4 803.2,182.1 805.6,168.8 807.9,130.9 810.3,137.1 812.7,230.5 815.0,268.2 817.4,188.0 819.7,236.1 822.1,210.6 824.5,175.7 826.8,255.7 829.2,288.0 831.5,211.5 833.9,203.7 836.3,212.3 838.6,204.1 841.0,233.9 843.3,262.8 845.7,221.4 848.1,241.3 850.4,268.8 852.8,199.0 855.1,204.9 857.5,189.7 859.9,235.6 862.2,233.1 864.6,244.6 866.9,243.0 869.3,204.7 871.7,231.3 874.0,196.8 876.4,190.4 878.7,130.1 881.1,237.8 883.5,179.4 885.8,202.0 888.2,203.9 890.5,254.5 892.9,230.0 895.3,182.9 897.6,202.4 900.0,200.6 902.3,213.3 904.7,165.2 907.1,196.7 909.4,279.4 911.8,243.1 914.1,280.6 916.5,333.0 918.9,248.1 921.2,165.9 923.6,194.5 925.9,242.9 928.3,244.5 930.7,172.2 933.0,191.9 935.4,199.7 937.7,204.8 940.1,202.6 942.5,175.3 944.8,178.7 947.2,191.1 949.5,237.7 951.9,192.6 954.3,225.5 956.6,169.7 959.0,241.4 961.3,216.1 963.7,206.4 966.1,250.7 968.4,152.8 970.8,142.3 973.1,207.7 975.5,177.5 977.9,185.2 980.2,291.6 982.6,212.5 984.9,207.6 987.3,201.6 989.7,241.0 992.0,220.6 994.4,213.3 996.7,164.0 999.1,184.0 1001.5,200.0 1003.8,149.4 1006.2,212.3 1008.5,219.1 1010.9,270.4 1013.3,162.1 1015.6,161.6 1018.0,163.2 1020.3,172.2 1022.7,193.5 1025.1,194.1 1027.4,210.6 1029.8,212.2 1032.1,203.5 1034.5,150.7 1036.9,173.6 1039.2,199.7 1041.6,223.2 1043.9,229.9 1046.3,152.8 1048.7,175.8 1051.0,195.7 1053.4,214.2 1055.7,244.7 1058.1,214.2 1060.5,175.2 1062.8,211.8 1065.2,213.3 1067.5,213.4 1069.9,201.8 1072.3,259.1 1074.6,223.0 1077.0,237.5 1079.3,179.5 1081.7,225.9 1084.1,187.9 1086.4,147.1 1088.8,203.4 1091.1,224.7 1093.5,201.2 1095.9,203.3 1098.2,238.4 1100.6,194.5 1102.9,131.2 1105.3,198.3 1107.7,209.7 1110.0,241.5 1112.4,200.1 1114.7,246.7 1117.1,251.1 1119.5,168.3 1121.8,228.4 1124.2,170.7 1126.5,143.7 1128.9,182.6 1131.3,180.1 1133.6,130.6 1136.0,196.0 1138.3,222.9 1140.7,255.0 1143.1,212.5 1145.4,153.6 1147.8,160.1 1150.1,228.0 1152.5,238.5 1154.9,228.3 1157.2,198.4 1159.6,209.8 1161.9,197.4 1164.3,192.0 1166.7,211.8 1169.0,206.7 1171.4,197.1 1173.7,205.3 1176.1,186.4 1178.5,134.7 1180.8,169.2 1183.2,194.8 1185.5,261.0 1187.9,201.6 1190.3,271.5 1192.6,266.6 1195.0,186.3 1197.3,175.5 1199.7,203.3 1202.1,263.5 1204.4,228.7 1206.8,232.5 1209.1,187.1 1211.5,121.3 1213.9,179.6 1216.2,226.2 1218.6,249.2 1220.9,214.8 1223.3,212.1 1225.7,245.7 1228.0,208.0 1230.4,244.9 1232.7,173.0 1235.1,160.3 1237.5,157.0 1239.8,211.0 1242.2,187.1 1244.5,205.0 1246.9,217.6 1249.3,218.4 1251.6,252.2 1254.0,264.0 1256.3,187.9 1258.7,207.3 1261.1,196.8 1263.4,167.2 1265.8,257.1 1268.1,241.9"/><polyline points="798.5,197.4 800.9,188.7 803.2,213.9 805.6,169.7 807.9,189.5 810.3,243.4 812.7,244.3 815.0,183.6 817.4,183.4 819.7,266.2 822.1,169.0 824.5,175.8 826.8,151.0 829.2,206.6 831.5,214.6 833.9,245.4 836.3,123.1 838.6,193.7 841.0,146.1 843.3,214.9 845.7,200.2 848.1,261.6 850.4,228.7 852.8,174.2 855.1,241.7 857.5,173.7 859.9,185.9 862.2,236.7 864.6,227.9 866.9,224.6 869.3,209.6 871.7,223.7 874.0,236.7 876.4,221.0 878.7,243.1 881.1,256.8 883.5,216.0 885.8,175.2 888.2,251.6 890.5,213.2 892.9,228.4 895.3,242.9 897.6,181.6 900.0,217.4 902.3,153.9 904.7,221.1 907.1,193.6 909.4,209.7 911.8,231.3 914.1,188.6 916.5,206.1 918.9,183.0 921.2,201.2 923.6,241.3 925.9,214.8 928.3,204.1 930.7,170.2 933.0,228.8 935.4,210.1 937.7,265.3 940.1,193.2 942.5,239.5 944.8,274.2 947.2,219.9 949.5,168.2 951.9,250.0 954.3,251.1 956.6,239.2 959.0,250.4 961.3,199.7 963.7,231.2 966.1,234.5 968.4,189.4 970.8,227.3 973.1,193.3 975.5,235.7 977.9,252.6 980.2,277.8 982.6,153.3 984.9,204.8 987.3,195.4 989.7,203.1 992.0,198.0 994.4,200.8 996.7,136.3 999.1,226.6 1001.5,262.9 1003.8,251.0 1006.2,259.9 1008.5,188.8 1010.9,172.0 1013.3,231.0 1015.6,257.9 1018.0,227.0 1020.3,159.6 1022.7,293.7 1025.1,203.2 1027.4,241.3 1029.8,174.8 1032.1,235.7 1034.5,220.1 1036.9,259.8 1039.2,249.2 1041.6,164.2 1043.9,167.1 1046.3,210.4 1048.7,235.5 1051.0,276.4 1053.4,232.0 1055.7,210.5 1058.1,208.0 1060.5,207.8 1062.8,243.8 1065.2,214.1 1067.5,207.1 1069.9,159.2 1072.3,129.4 1074.6,193.6 1077.0,228.5 1079.3,210.9 1081.7,226.4 1084.1,234.3 1086.4,211.9 1088.8,241.9 1091.1,190.1 1093.5,204.6 1095.9,195.1 1098.2,208.4 1100.6,230.1 1102.9,242.2 1105.3,219.7 1107.7,226.1 1110.0,200.0 1112.4,203.1 1114.7,251.3 1117.1,210.9 1119.5,252.2 1121.8,235.0 1124.2,220.3 1126.5,279.7 1128.9,215.7 1131.3,200.8 1133.6,208.7 1136.0,219.6 1138.3,220.0 1140.7,241.2 1143.1,220.6 1145.4,226.5 1147.8,205.0 1150.1,246.2 1152.5,203.9 1154.9,198.7 1157.2,207.7 1159.6,219.9 1161.9,187.6 1164.3,258.8 1166.7,198.6 1169.0,194.2 1171.4,191.9 1173.7,187.9 1176.1,223.4 1178.5,216.7 1180.8,184.0 1183.2,184.7 1185.5,192.7 1187.9,254.6 1190.3,195.0 1192.6,161.0 1195.0,159.8 1197.3,186.7 1199.7,254.9 1202.1,180.9 1204.4,204.3 1206.8,292.6 1209.1,208.3 1211.5,256.9 1213.9,259.8 1216.2,237.2 1218.6,165.8 1220.9,209.1 1223.3,195.3 1225.7,140.8 1228.0,135.3 1230.4,193.6 1232.7,210.2 1235.1,249.2 1237.5,237.1 1239.8,195.5 1242.2,188.2 1244.5,196.7 1246.9,167.5 1249.3,223.5 1251.6,209.6 1254.0,179.3 1256.3,178.3 1258.7,161.1 1261.1,181.3 1263.4,210.1 1265.8,192.3 1268.1,236.6"/><polyline points="798.5,262.3 800.9,195.1 803.2,203.9 805.6,192.9 807.9,261.0 810.3,228.0 812.7,229.6 815.0,239.2 817.4,289.8 819.7,232.7 822.1,178.1 824.5,185.2 826.8,221.1 829.2,207.7 831.5,178.0 833.9,295.3 836.3,226.4 838.6,189.2 841.0,176.9 843.3,138.7 845.7,150.9 848.1,182.2 850.4,188.8 852.8,173.2 855.1,216.5 857.5,207.7 859.9,172.7 862.2,128.9 864.6,194.3 866.9,203.5 869.3,196.7 871.7,155.2 874.0,195.1 876.4,150.5 878.7,226.9 881.1,214.9 883.5,212.9 885.8,178.0 888.2,161.9 890.5,248.2 892.9,244.7 895.3,200.1 897.6,226.1 900.0,261.5 902.3,178.9 904.7,181.4 907.1,182.0 909.4,216.0 911.8,170.1 914.1,205.4 916.5,165.6 918.9,228.0 921.2,238.5 923.6,203.5 925.9,228.3 928.3,184.9 930.7,190.8 933.0,233.5 935.4,207.1 937.7,216.7 940.1,174.2 942.5,220.0 944.8,222.3 947.2,165.0 949.5,117.5 951.9,116.4 954.3,184.0 956.6,192.1 959.0,147.6 961.3,196.9 963.7,236.5 966.1,206.2 968.4,188.4 970.8,229.7 973.1,266.6 975.5,266.6 977.9,193.0 980.2,228.1 982.6,213.5 984.9,198.2 987.3,180.9 989.7,210.9 992.0,187.7 994.4,231.7 996.7,222.0 999.1,243.3 1001.5,172.0 1003.8,198.3 1006.2,228.5 1008.5,221.0 1010.9,214.9 1013.3,181.4 1015.6,255.2 1018.0,250.3 1020.3,226.3 1022.7,119.5 1025.1,153.4 1027.4,197.5 1029.8,177.5 1032.1,126.4 1034.5,196.4 1036.9,215.1 1039.2,163.5 1041.6,178.3 1043.9,175.1 1046.3,215.8 1048.7,138.7 1051.0,130.8 1053.4,169.3 1055.7,172.8 1058.1,268.6 1060.5,194.3 1062.8,208.6 1065.2,189.5 1067.5,176.9 1069.9,210.3 1072.3,264.3 1074.6,202.9 1077.0,229.5 1079.3,220.4 1081.7,228.2 1084.1,220.6 1086.4,288.0 1088.8,177.9 1091.1,189.7 1093.5,162.0 1095.9,126.0 1098.2,187.4 1100.6,263.6 1102.9,247.0 1105.3,254.7 1107.7,231.5 1110.0,206.5 1112.4,274.4 1114.7,205.8 1117.1,257.1 1119.5,204.0 1121.8,207.6 1124.2,215.5 1126.5,208.6 1128.9,223.6 1131.3,229.1 1133.6,267.8 1136.0,217.6 1138.3,141.8 1140.7,121.9 1143.1,141.0 1145.4,166.4 1147.8,220.0 1150.1,156.4 1152.5,196.2 1154.9,204.6 1157.2,214.1 1159.6,202.6 1161.9,218.7 1164.3,209.6 1166.7,242.9 1169.0,224.6 1171.4,128.0 1173.7,191.0 1176.1,209.5 1178.5,186.2 1180.8,175.4 1183.2,237.1 1185.5,217.6 1187.9,174.3 1190.3,188.4 1192.6,196.4 1195.0,147.8 1197.3,216.3 1199.7,203.3 1202.1,221.9 1204.4,155.1 1206.8,262.4 1209.1,238.9 1211.5,229.3 1213.9,185.6 1216.2,178.8 1218.6,149.8 1220.9,248.1 1223.3,186.3 1225.7,210.5 1228.0,228.4 1230.4,189.7 1232.7,233.2 1235.1,282.4 1237.5,232.4 1239.8,261.9 1242.2,238.1 1244.5,197.6 1246.9,191.5 1249.3,145.7 1251.6,199.1 1254.0,256.5 1256.3,240.8 1258.7,243.3 1261.1,254.3 1263.4,198.6 1265.8,225.3 1268.1,277.3"/><polyline points="798.5,178.8 800.9,202.6 803.2,191.0 805.6,197.5 807.9,180.3 810.3,197.7 812.7,159.2 815.0,179.9 817.4,185.2 819.7,185.6 822.1,251.1 824.5,219.0 826.8,215.8 829.2,198.9 831.5,250.3 833.9,155.8 836.3,190.5 838.6,243.5 841.0,271.5 843.3,227.1 845.7,211.5 848.1,230.4 850.4,205.8 852.8,226.6 855.1,189.0 857.5,226.1 859.9,209.5 862.2,170.6 864.6,107.0 866.9,219.7 869.3,223.2 871.7,237.0 874.0,182.9 876.4,239.8 878.7,227.9 881.1,209.6 883.5,239.2 885.8,244.3 888.2,228.5 890.5,282.3 892.9,270.1 895.3,231.5 897.6,204.1 900.0,210.3 902.3,267.2 904.7,232.7 907.1,181.5 909.4,179.8 911.8,201.7 914.1,234.4 916.5,187.7 918.9,220.8 921.2,248.1 923.6,240.7 925.9,160.3 928.3,187.3 930.7,159.8 933.0,211.7 935.4,172.4 937.7,218.5 940.1,212.2 942.5,118.3 944.8,159.7 947.2,212.5 949.5,208.4 951.9,193.2 954.3,159.2 956.6,211.9 959.0,266.4 961.3,226.0 963.7,207.6 966.1,200.7 968.4,157.0 970.8,183.3 973.1,171.1 975.5,235.8 977.9,179.7 980.2,125.4 982.6,161.0 984.9,186.3 987.3,194.8 989.7,139.3 992.0,223.3 994.4,211.5 996.7,189.1 999.1,174.7 1001.5,213.2 1003.8,194.8 1006.2,211.7 1008.5,201.1 1010.9,207.8 1013.3,244.5 1015.6,212.6 1018.0,174.7 1020.3,231.8 1022.7,217.8 1025.1,183.2 1027.4,237.1 1029.8,204.0 1032.1,240.9 1034.5,171.4 1036.9,116.2 1039.2,115.3 1041.6,193.7 1043.9,175.8 1046.3,193.9 1048.7,198.2 1051.0,148.4 1053.4,238.9 1055.7,173.8 1058.1,199.4 1060.5,153.5 1062.8,187.1 1065.2,224.0 1067.5,198.0 1069.9,176.8 1072.3,197.1 1074.6,185.3 1077.0,218.3 1079.3,281.4 1081.7,187.7 1084.1,176.0 1086.4,193.0 1088.8,199.2 1091.1,166.5 1093.5,212.3 1095.9,230.2 1098.2,215.6 1100.6,164.4 1102.9,244.5 1105.3,170.1 1107.7,219.4 1110.0,245.4 1112.4,167.9 1114.7,199.9 1117.1,248.5 1119.5,225.2 1121.8,175.4 1124.2,156.3 1126.5,209.2 1128.9,190.6 1131.3,176.1 1133.6,220.8 1136.0,194.7 1138.3,203.0 1140.7,222.3 1143.1,224.7 1145.4,205.5 1147.8,203.0 1150.1,223.4 1152.5,222.6 1154.9,168.5 1157.2,189.2 1159.6,169.8 1161.9,154.8 1164.3,173.3 1166.7,118.0 1169.0,215.5 1171.4,177.7 1173.7,209.7 1176.1,139.9 1178.5,131.3 1180.8,257.7 1183.2,248.5 1185.5,189.4 1187.9,173.2 1190.3,171.8 1192.6,199.8 1195.0,187.0 1197.3,177.5 1199.7,201.2 1202.1,167.2 1204.4,275.6 1206.8,195.9 1209.1,238.4 1211.5,177.0 1213.9,206.4 1216.2,235.4 1218.6,196.9 1220.9,234.3 1223.3,241.8 1225.7,266.2 1228.0,217.1 1230.4,189.0 1232.7,164.9 1235.1,200.9 1237.5,166.4 1239.8,195.6 1242.2,205.4 1244.5,183.9 1246.9,162.7 1249.3,207.5 1251.6,213.0 1254.0,211.2 1256.3,202.3 1258.7,235.0 1261.1,173.9 1263.4,211.8 1265.8,189.1 1268.1,229.7"/><polyline points="798.5,190.9 800.9,187.4 803.2,215.2 805.6,135.2 807.9,177.0 810.3,136.1 812.7,156.6 815.0,217.5 817.4,219.9 819.7,191.7 822.1,199.1 824.5,201.1 826.8,213.2 829.2,269.0 831.5,224.7 833.9,285.6 836.3,207.1 838.6,229.8 841.0,234.0 843.3,217.4 845.7,196.9 848.1,252.5 850.4,274.7 852.8,255.3 855.1,285.6 857.5,254.0 859.9,158.0 862.2,231.6 864.6,186.5 866.9,248.3 869.3,202.1 871.7,214.6 874.0,208.0 876.4,184.6 878.7,138.3 881.1,183.8 883.5,195.4 885.8,236.1 888.2,189.8 890.5,209.5 892.9,175.7 895.3,199.6 897.6,141.9 900.0,260.8 902.3,225.5 904.7,177.2 907.1,210.7 909.4,232.9 911.8,218.9 914.1,255.1 916.5,209.8 918.9,119.4 921.2,146.7 923.6,231.2 925.9,239.8 928.3,225.1 930.7,172.8 933.0,226.3 935.4,232.4 937.7,178.4 940.1,168.4 942.5,209.7 944.8,244.1 947.2,266.1 949.5,240.7 951.9,289.3 954.3,194.5 956.6,223.9 959.0,190.9 961.3,135.7 963.7,149.0 966.1,233.1 968.4,179.1 970.8,158.2 973.1,220.8 975.5,240.5 977.9,214.9 980.2,262.1 982.6,163.8 984.9,280.0 987.3,257.8 989.7,224.0 992.0,215.7 994.4,200.3 996.7,193.5 999.1,209.2 1001.5,165.0 1003.8,270.9 1006.2,217.2 1008.5,231.4 1010.9,204.6 1013.3,196.1 1015.6,234.1 1018.0,232.3 1020.3,181.6 1022.7,187.1 1025.1,224.2 1027.4,136.3 1029.8,109.3 1032.1,236.1 1034.5,199.6 1036.9,115.0 1039.2,158.5 1041.6,186.9 1043.9,207.6 1046.3,223.5 1048.7,215.1 1051.0,225.3 1053.4,181.9 1055.7,213.3 1058.1,221.1 1060.5,249.3 1062.8,214.6 1065.2,237.2 1067.5,216.7 1069.9,169.8 1072.3,184.1 1074.6,182.1 1077.0,186.9 1079.3,198.3 1081.7,207.1 1084.1,215.2 1086.4,179.4 1088.8,236.8 1091.1,163.3 1093.5,194.4 1095.9,228.1 1098.2,225.7 1100.6,231.8 1102.9,203.7 1105.3,228.9 1107.7,168.7 1110.0,224.1 1112.4,287.4 1114.7,246.1 1117.1,282.6 1119.5,220.9 1121.8,170.0 1124.2,174.3 1126.5,244.7 1128.9,238.6 1131.3,148.4 1133.6,181.5 1136.0,199.1 1138.3,165.8 1140.7,110.2 1143.1,139.6 1145.4,186.0 1147.8,187.7 1150.1,178.9 1152.5,220.2 1154.9,244.1 1157.2,209.9 1159.6,238.1 1161.9,212.7 1164.3,202.1 1166.7,121.4 1169.0,217.1 1171.4,210.6 1173.7,210.8 1176.1,189.8 1178.5,164.2 1180.8,213.0 1183.2,234.3 1185.5,267.3 1187.9,248.9 1190.3,193.9 1192.6,200.2 1195.0,238.6 1197.3,223.7 1199.7,206.6 1202.1,186.6 1204.4,221.1 1206.8,216.0 1209.1,269.9 1211.5,257.3 1213.9,157.7 1216.2,271.2 1218.6,229.0 1220.9,201.1 1223.3,216.3 1225.7,234.5 1228.0,212.0 1230.4,205.5 1232.7,206.9 1235.1,270.2 1237.5,222.2 1239.8,237.4 1242.2,229.6 1244.5,200.9 1246.9,180.7 1249.3,167.7 1251.6,213.9 1254.0,173.4 1256.3,156.5 1258.7,154.4 1261.1,145.1 1263.4,197.1 1265.8,208.5 1268.1,175.7"/><polyline points="798.5,252.6 800.9,206.1 803.2,222.8 805.6,220.4 807.9,268.1 810.3,247.8 812.7,213.2 815.0,174.5 817.4,163.2 819.7,198.4 822.1,209.3 824.5,233.9 826.8,195.6 829.2,210.8 831.5,183.9 833.9,138.4 836.3,191.8 838.6,253.8 841.0,243.9 843.3,262.8 845.7,257.5 848.1,168.7 850.4,188.8 852.8,254.0 855.1,190.9 857.5,157.0 859.9,207.0 862.2,228.0 864.6,220.4 866.9,197.1 869.3,180.0 871.7,157.5 874.0,152.0 876.4,151.8 878.7,145.6 881.1,168.9 883.5,250.4 885.8,217.6 888.2,195.5 890.5,215.5 892.9,174.1 895.3,210.4 897.6,237.5 900.0,159.8 902.3,171.6 904.7,189.6 907.1,168.4 909.4,159.4 911.8,182.9 914.1,285.7 916.5,243.8 918.9,227.7 921.2,243.0 923.6,204.6 925.9,162.1 928.3,212.4 930.7,245.2 933.0,140.9 935.4,207.0 937.7,247.6 940.1,204.1 942.5,188.9 944.8,225.4 947.2,180.4 949.5,216.1 951.9,238.5 954.3,204.4 956.6,176.8 959.0,220.5 961.3,195.5 963.7,205.3 966.1,105.1 968.4,208.8 970.8,156.2 973.1,196.0 975.5,206.6 977.9,179.0 980.2,167.4 982.6,152.1 984.9,181.9 987.3,220.4 989.7,225.9 992.0,190.3 994.4,180.7 996.7,150.1 999.1,178.3 1001.5,161.5 1003.8,142.1 1006.2,185.6 1008.5,252.1 1010.9,254.7 1013.3,264.3 1015.6,160.0 1018.0,224.7 1020.3,164.7 1022.7,175.4 1025.1,137.9 1027.4,155.4 1029.8,197.6 1032.1,209.5 1034.5,201.9 1036.9,197.2 1039.2,221.0 1041.6,208.3 1043.9,148.2 1046.3,252.3 1048.7,204.4 1051.0,235.6 1053.4,203.5 1055.7,174.2 1058.1,199.8 1060.5,175.8 1062.8,253.8 1065.2,174.9 1067.5,219.1 1069.9,185.0 1072.3,193.6 1074.6,292.3 1077.0,247.9 1079.3,204.8 1081.7,149.5 1084.1,182.8 1086.4,190.5 1088.8,250.6 1091.1,162.9 1093.5,132.2 1095.9,188.4 1098.2,208.3 1100.6,261.4 1102.9,184.3 1105.3,105.1 1107.7,158.9 1110.0,150.5 1112.4,174.1 1114.7,232.3 1117.1,162.6 1119.5,238.7 1121.8,218.1 1124.2,196.8 1126.5,171.4 1128.9,182.7 1131.3,185.9 1133.6,226.8 1136.0,253.5 1138.3,211.5 1140.7,230.2 1143.1,254.8 1145.4,258.3 1147.8,231.8 1150.1,274.2 1152.5,265.0 1154.9,273.3 1157.2,211.2 1159.6,190.9 1161.9,130.8 1164.3,241.6 1166.7,235.1 1169.0,178.0 1171.4,206.2 1173.7,215.7 1176.1,146.2 1178.5,204.1 1180.8,244.3 1183.2,258.0 1185.5,202.8 1187.9,192.8 1190.3,249.6 1192.6,247.4 1195.0,193.7 1197.3,181.5 1199.7,221.8 1202.1,185.5 1204.4,180.0 1206.8,261.5 1209.1,226.2 1211.5,193.7 1213.9,221.8 1216.2,282.3 1218.6,229.3 1220.9,182.5 1223.3,144.1 1225.7,268.5 1228.0,125.1 1230.4,227.5 1232.7,174.9 1235.1,154.7 1237.5,159.5 1239.8,189.6 1242.2,241.6 1244.5,189.3 1246.9,225.9 1249.3,296.5 1251.6,123.1 1254.0,162.8 1256.3,131.8 1258.7,221.3 1261.1,155.8 1263.4,138.4 1265.8,136.2 1268.1,190.9"/><polyline points="798.5,246.7 800.9,218.5 803.2,283.9 805.6,279.4 807.9,215.6 810.3,240.8 812.7,216.9 815.0,210.2 817.4,137.3 819.7,145.0 822.1,193.5 824.5,159.3 826.8,222.1 829.2,219.2 831.5,174.9 833.9,241.5 836.3,221.0 838.6,253.5 841.0,209.5 843.3,147.7 845.7,218.9 848.1,198.8 850.4,234.2 852.8,250.1 855.1,256.3 857.5,163.2 859.9,112.8 862.2,168.6 864.6,221.8 866.9,182.6 869.3,211.2 871.7,177.1 874.0,188.2 876.4,190.8 878.7,179.8 881.1,219.2 883.5,221.0 885.8,267.5 888.2,231.9 890.5,259.2 892.9,219.9 895.3,240.5 897.6,207.5 900.0,188.6 902.3,250.4 904.7,241.6 907.1,244.3 909.4,185.7 911.8,140.3 914.1,161.2 916.5,207.4 918.9,153.1 921.2,246.6 923.6,159.8 925.9,217.9 928.3,304.0 930.7,130.9 933.0,133.8 935.4,225.9 937.7,202.2 940.1,210.9 942.5,201.6 944.8,255.3 947.2,237.9 949.5,194.1 951.9,194.0 954.3,159.7 956.6,192.1 959.0,119.1 961.3,211.9 963.7,196.2 966.1,269.4 968.4,260.7 970.8,168.6 973.1,229.7 975.5,190.3 977.9,203.2 980.2,240.2 982.6,223.2 984.9,225.6 987.3,225.2 989.7,181.6 992.0,176.4 994.4,218.5 996.7,238.4 999.1,200.8 1001.5,206.6 1003.8,168.3 1006.2,103.6 1008.5,154.1 1010.9,195.0 1013.3,208.0 1015.6,234.6 1018.0,241.7 1020.3,246.5 1022.7,226.1 1025.1,223.2 1027.4,181.5 1029.8,213.3 1032.1,212.5 1034.5,248.2 1036.9,155.0 1039.2,176.2 1041.6,135.5 1043.9,162.1 1046.3,143.2 1048.7,200.3 1051.0,177.9 1053.4,103.7 1055.7,226.6 1058.1,167.1 1060.5,136.9 1062.8,175.6 1065.2,171.3 1067.5,152.4 1069.9,216.9 1072.3,191.7 1074.6,232.4 1077.0,233.7 1079.3,231.8 1081.7,214.5 1084.1,200.6 1086.4,186.9 1088.8,251.2 1091.1,142.2 1093.5,149.9 1095.9,166.9 1098.2,209.2 1100.6,208.0 1102.9,184.9 1105.3,185.2 1107.7,260.3 1110.0,188.4 1112.4,95.9 1114.7,248.5 1117.1,176.9 1119.5,185.1 1121.8,204.0 1124.2,154.5 1126.5,236.4 1128.9,204.4 1131.3,151.2 1133.6,200.3 1136.0,218.1 1138.3,202.4 1140.7,219.5 1143.1,151.2 1145.4,225.9 1147.8,176.7 1150.1,243.4 1152.5,187.5 1154.9,204.3 1157.2,296.9 1159.6,222.5 1161.9,245.9 1164.3,228.2 1166.7,153.2 1169.0,233.8 1171.4,247.9 1173.7,160.7 1176.1,190.9 1178.5,145.6 1180.8,180.4 1183.2,230.8 1185.5,211.5 1187.9,161.0 1190.3,161.3 1192.6,195.2 1195.0,200.2 1197.3,207.1 1199.7,225.2 1202.1,138.4 1204.4,190.4 1206.8,241.8 1209.1,228.5 1211.5,182.5 1213.9,176.3 1216.2,203.2 1218.6,227.7 1220.9,207.6 1223.3,264.8 1225.7,262.8 1228.0,186.7 1230.4,217.6 1232.7,193.0 1235.1,157.7 1237.5,171.1 1239.8,196.4 1242.2,125.6 1244.5,164.0 1246.9,208.5 1249.3,178.3 1251.6,183.9 1254.0,230.6 1256.3,206.5 1258.7,210.2 1261.1,275.8 1263.4,224.3 1265.8,218.0 1268.1,222.4"/><polyline points="798.5,264.2 800.9,228.6 803.2,210.1 805.6,201.3 807.9,244.1 810.3,189.0 812.7,244.6 815.0,219.9 817.4,159.9 819.7,219.9 822.1,225.3 824.5,169.4 826.8,210.7 829.2,215.8 831.5,198.2 833.9,164.8 836.3,275.3 838.6,247.8 841.0,248.8 843.3,251.8 845.7,244.1 848.1,242.0 850.4,200.5 852.8,235.0 855.1,205.6 857.5,189.7 859.9,227.1 862.2,203.7 864.6,144.9 866.9,180.4 869.3,221.9 871.7,209.7 874.0,237.8 876.4,200.8 878.7,172.2 881.1,226.8 883.5,215.8 885.8,166.3 888.2,214.0 890.5,199.0 892.9,239.4 895.3,240.2 897.6,229.3 900.0,132.6 902.3,203.8 904.7,222.3 907.1,227.2 909.4,214.2 911.8,182.8 914.1,192.9 916.5,129.4 918.9,181.4 921.2,148.5 923.6,183.0 925.9,178.3 928.3,249.2 930.7,217.3 933.0,208.8 935.4,213.2 937.7,281.1 940.1,188.3 942.5,214.2 944.8,221.2 947.2,216.1 949.5,214.2 951.9,191.5 954.3,245.8 956.6,244.8 959.0,201.7 961.3,198.2 963.7,215.8 966.1,226.2 968.4,237.5 970.8,212.5 973.1,164.1 975.5,232.9 977.9,156.2 980.2,164.6 982.6,211.8 984.9,177.9 987.3,249.9 989.7,273.6 992.0,262.9 994.4,229.9 996.7,220.3 999.1,225.1 1001.5,204.5 1003.8,278.7 1006.2,201.3 1008.5,253.0 1010.9,236.7 1013.3,224.8 1015.6,248.4 1018.0,260.7 1020.3,250.4 1022.7,213.5 1025.1,185.0 1027.4,180.2 1029.8,233.8 1032.1,237.5 1034.5,242.7 1036.9,195.7 1039.2,273.5 1041.6,174.3 1043.9,214.8 1046.3,233.4 1048.7,197.7 1051.0,166.3 1053.4,184.2 1055.7,162.9 1058.1,190.8 1060.5,158.0 1062.8,150.9 1065.2,196.6 1067.5,151.9 1069.9,187.6 1072.3,197.4 1074.6,234.7 1077.0,220.0 1079.3,179.7 1081.7,244.9 1084.1,189.2 1086.4,188.6 1088.8,191.0 1091.1,278.5 1093.5,222.3 1095.9,184.7 1098.2,226.6 1100.6,205.1 1102.9,287.3 1105.3,196.9 1107.7,225.6 1110.0,177.5 1112.4,263.0 1114.7,191.3 1117.1,209.5 1119.5,176.6 1121.8,230.7 1124.2,230.8 1126.5,130.5 1128.9,218.2 1131.3,231.3 1133.6,218.9 1136.0,242.6 1138.3,169.8 1140.7,136.5 1143.1,214.9 1145.4,266.4 1147.8,175.2 1150.1,159.2 1152.5,166.0 1154.9,155.6 1157.2,224.5 1159.6,213.8 1161.9,254.2 1164.3,263.5 1166.7,181.3 1169.0,222.8 1171.4,127.6 1173.7,185.9 1176.1,222.6 1178.5,179.5 1180.8,135.7 1183.2,173.1 1185.5,240.2 1187.9,198.0 1190.3,154.4 1192.6,211.1 1195.0,232.3 1197.3,173.8 1199.7,192.8 1202.1,240.2 1204.4,224.3 1206.8,234.3 1209.1,199.4 1211.5,199.0 1213.9,162.5 1216.2,170.6 1218.6,251.9 1220.9,199.1 1223.3,171.3 1225.7,181.3 1228.0,163.1 1230.4,214.8 1232.7,239.3 1235.1,178.2 1237.5,235.9 1239.8,285.8 1242.2,184.2 1244.5,225.2 1246.9,218.7 1249.3,255.7 1251.6,260.6 1254.0,255.6 1256.3,226.7 1258.7,195.3 1261.1,282.6 1263.4,193.1 1265.8,243.0 1268.1,248.9"/><polyline points="798.5,179.5 800.9,201.5 803.2,257.1 805.6,149.7 807.9,223.1 810.3,198.9 812.7,195.7 815.0,152.7 817.4,209.5 819.7,169.5 822.1,222.9 824.5,168.2 826.8,223.3 829.2,220.3 831.5,140.6 833.9,180.0 836.3,195.1 838.6,123.4 841.0,175.0 843.3,226.6 845.7,182.5 848.1,240.9 850.4,171.6 852.8,155.0 855.1,214.0 857.5,227.8 859.9,202.3 862.2,202.9 864.6,237.8 866.9,190.6 869.3,272.6 871.7,232.7 874.0,223.7 876.4,217.3 878.7,195.7 881.1,245.1 883.5,191.4 885.8,207.5 888.2,227.3 890.5,256.3 892.9,255.7 895.3,201.5 897.6,237.0 900.0,208.1 902.3,167.4 904.7,160.3 907.1,140.3 909.4,201.4 911.8,241.3 914.1,175.5 916.5,187.2 918.9,161.0 921.2,194.8 923.6,160.0 925.9,165.3 928.3,170.9 930.7,179.5 933.0,184.9 935.4,191.8 937.7,193.4 940.1,166.9 942.5,214.3 944.8,145.0 947.2,195.7 949.5,167.6 951.9,199.6 954.3,211.5 956.6,134.1 959.0,200.6 961.3,247.8 963.7,237.6 966.1,221.6 968.4,131.8 970.8,182.1 973.1,166.6 975.5,231.4 977.9,196.9 980.2,178.8 982.6,135.6 984.9,214.5 987.3,184.7 989.7,189.3 992.0,236.6 994.4,211.0 996.7,214.4 999.1,287.3 1001.5,199.4 1003.8,183.9 1006.2,215.1 1008.5,252.9 1010.9,161.7 1013.3,186.0 1015.6,164.5 1018.0,146.4 1020.3,210.5 1022.7,176.6 1025.1,206.7 1027.4,206.5 1029.8,207.3 1032.1,204.5 1034.5,164.8 1036.9,191.6 1039.2,206.7 1041.6,214.0 1043.9,193.8 1046.3,233.1 1048.7,227.2 1051.0,210.2 1053.4,224.8 1055.7,212.1 1058.1,226.8 1060.5,138.1 1062.8,144.0 1065.2,176.0 1067.5,200.0 1069.9,126.2 1072.3,176.9 1074.6,201.4 1077.0,192.6 1079.3,190.8 1081.7,151.7 1084.1,194.0 1086.4,128.2 1088.8,219.5 1091.1,182.5 1093.5,234.6 1095.9,146.2 1098.2,203.8 1100.6,205.8 1102.9,171.7 1105.3,153.3 1107.7,232.6 1110.0,221.6 1112.4,256.2 1114.7,209.4 1117.1,208.4 1119.5,216.9 1121.8,230.3 1124.2,222.6 1126.5,233.6 1128.9,191.2 1131.3,148.1 1133.6,260.2 1136.0,219.1 1138.3,221.4 1140.7,190.0 1143.1,234.3 1145.4,215.0 1147.8,242.4 1150.1,187.0 1152.5,196.9 1154.9,208.0 1157.2,191.6 1159.6,209.9 1161.9,259.4 1164.3,194.0 1166.7,191.7 1169.0,206.7 1171.4,169.8 1173.7,154.2 1176.1,232.1 1178.5,236.8 1180.8,156.1 1183.2,144.5 1185.5,217.7 1187.9,247.9 1190.3,234.9 1192.6,227.4 1195.0,264.0 1197.3,214.7 1199.7,250.8 1202.1,255.5 1204.4,182.0 1206.8,223.3 1209.1,210.1 1211.5,182.9 1213.9,171.1 1216.2,209.0 1218.6,203.2 1220.9,232.5 1223.3,148.2 1225.7,169.8 1228.0,235.6 1230.4,209.9 1232.7,179.9 1235.1,182.2 1237.5,135.3 1239.8,141.9 1242.2,210.2 1244.5,208.1 1246.9,249.5 1249.3,204.1 1251.6,198.5 1254.0,107.9 1256.3,181.1 1258.7,272.5 1261.1,241.0 1263.4,207.2 1265.8,248.4 1268.1,243.0"/><polyline points="798.5,216.8 800.9,194.3 803.2,207.6 805.6,235.6 807.9,182.5 810.3,218.4 812.7,224.1 815.0,256.1 817.4,241.7 819.7,188.5 822.1,257.3 824.5,216.9 826.8,181.2 829.2,212.4 831.5,197.0 833.9,241.5 836.3,165.3 838.6,157.4 841.0,186.2 843.3,261.7 845.7,252.0 848.1,179.1 850.4,138.8 852.8,180.3 855.1,155.3 857.5,215.3 859.9,212.7 862.2,205.5 864.6,189.2 866.9,254.4 869.3,180.9 871.7,152.8 874.0,233.8 876.4,257.2 878.7,202.1 881.1,226.3 883.5,291.3 885.8,192.9 888.2,196.1 890.5,218.9 892.9,132.7 895.3,184.6 897.6,226.3 900.0,204.7 902.3,240.3 904.7,237.7 907.1,197.0 909.4,221.8 911.8,223.1 914.1,149.1 916.5,162.7 918.9,167.4 921.2,177.9 923.6,181.6 925.9,148.2 928.3,193.3 930.7,136.6 933.0,223.6 935.4,216.6 937.7,254.6 940.1,225.9 942.5,190.0 944.8,150.1 947.2,216.2 949.5,206.0 951.9,216.8 954.3,232.2 956.6,251.1 959.0,211.1 961.3,265.9 963.7,212.3 966.1,204.7 968.4,226.9 970.8,243.8 973.1,260.2 975.5,149.4 977.9,239.9 980.2,156.4 982.6,173.2 984.9,210.4 987.3,245.6 989.7,175.5 992.0,137.5 994.4,223.2 996.7,218.1 999.1,169.7 1001.5,185.1 1003.8,129.9 1006.2,208.9 1008.5,185.7 1010.9,243.9 1013.3,138.3 1015.6,216.2 1018.0,283.6 1020.3,224.1 1022.7,212.7 1025.1,138.4 1027.4,202.5 1029.8,203.9 1032.1,182.9 1034.5,144.0 1036.9,194.0 1039.2,165.3 1041.6,177.9 1043.9,208.9 1046.3,202.0 1048.7,202.4 1051.0,235.5 1053.4,167.5 1055.7,245.0 1058.1,170.9 1060.5,163.7 1062.8,199.0 1065.2,229.6 1067.5,216.8 1069.9,189.8 1072.3,174.9 1074.6,187.9 1077.0,165.8 1079.3,215.7 1081.7,197.9 1084.1,257.5 1086.4,187.7 1088.8,195.1 1091.1,216.6 1093.5,165.6 1095.9,171.8 1098.2,296.0 1100.6,220.8 1102.9,258.1 1105.3,177.2 1107.7,111.2 1110.0,203.4 1112.4,201.0 1114.7,212.0 1117.1,193.1 1119.5,179.0 1121.8,153.7 1124.2,228.3 1126.5,153.5 1128.9,226.3 1131.3,198.5 1133.6,162.1 1136.0,170.4 1138.3,229.9 1140.7,233.5 1143.1,225.9 1145.4,209.9 1147.8,164.8 1150.1,241.2 1152.5,194.8 1154.9,180.6 1157.2,179.5 1159.6,182.5 1161.9,146.3 1164.3,175.1 1166.7,168.0 1169.0,176.8 1171.4,135.5 1173.7,256.6 1176.1,169.4 1178.5,206.0 1180.8,214.0 1183.2,239.7 1185.5,276.4 1187.9,231.6 1190.3,233.4 1192.6,192.3 1195.0,253.0 1197.3,163.4 1199.7,186.1 1202.1,208.9 1204.4,229.6 1206.8,236.5 1209.1,249.9 1211.5,232.0 1213.9,209.2 1216.2,211.0 1218.6,254.7 1220.9,223.2 1223.3,238.9 1225.7,205.1 1228.0,138.6 1230.4,168.8 1232.7,207.7 1235.1,261.4 1237.5,264.8 1239.8,275.0 1242.2,192.5 1244.5,228.3 1246.9,206.4 1249.3,226.0 1251.6,205.0 1254.0,154.8 1256.3,217.9 1258.7,218.5 1261.1,234.9 1263.4,179.3 1265.8,234.8 1268.1,249.6"/><polyline points="798.5,253.3 800.9,263.0 803.2,199.1 805.6,112.7 807.9,220.4 810.3,173.7 812.7,188.9 815.0,239.4 817.4,220.5 819.7,215.2 822.1,230.2 824.5,141.4 826.8,258.0 829.2,201.2 831.5,191.6 833.9,221.6 836.3,202.0 838.6,172.6 841.0,192.1 843.3,186.8 845.7,176.0 848.1,269.4 850.4,165.0 852.8,116.1 855.1,151.8 857.5,157.8 859.9,243.9 862.2,215.9 864.6,234.6 866.9,230.5 869.3,175.2 871.7,226.2 874.0,212.8 876.4,272.4 878.7,223.0 881.1,204.4 883.5,228.5 885.8,233.9 888.2,143.6 890.5,234.1 892.9,246.6 895.3,240.6 897.6,169.1 900.0,123.1 902.3,176.0 904.7,223.3 907.1,222.6 909.4,170.2 911.8,228.9 914.1,157.8 916.5,144.9 918.9,189.5 921.2,178.2 923.6,172.3 925.9,143.0 928.3,228.4 930.7,167.3 933.0,209.6 935.4,231.8 937.7,205.7 940.1,211.6 942.5,239.9 944.8,266.9 947.2,249.4 949.5,161.9 951.9,126.6 954.3,165.5 956.6,154.5 959.0,212.0 961.3,208.1 963.7,194.7 966.1,239.8 968.4,245.6 970.8,208.7 973.1,215.9 975.5,243.4 977.9,198.1 980.2,211.8 982.6,169.5 984.9,197.1 987.3,212.9 989.7,201.1 992.0,209.2 994.4,228.2 996.7,222.7 999.1,181.2 1001.5,176.6 1003.8,153.2 1006.2,252.9 1008.5,227.3 1010.9,223.0 1013.3,201.5 1015.6,219.1 1018.0,224.8 1020.3,180.5 1022.7,192.8 1025.1,242.4 1027.4,164.7 1029.8,161.0 1032.1,215.3 1034.5,176.9 1036.9,224.1 1039.2,168.3 1041.6,204.3 1043.9,231.9 1046.3,222.4 1048.7,234.3 1051.0,203.1 1053.4,197.4 1055.7,201.2 1058.1,222.7 1060.5,335.8 1062.8,226.9 1065.2,274.8 1067.5,209.4 1069.9,165.2 1072.3,186.4 1074.6,213.9 1077.0,212.0 1079.3,210.0 1081.7,224.2 1084.1,228.3 1086.4,241.0 1088.8,169.5 1091.1,197.4 1093.5,168.9 1095.9,205.5 1098.2,201.5 1100.6,209.2 1102.9,188.6 1105.3,171.7 1107.7,188.9 1110.0,224.4 1112.4,235.2 1114.7,151.9 1117.1,203.1 1119.5,213.8 1121.8,154.4 1124.2,155.7 1126.5,175.4 1128.9,212.0 1131.3,122.9 1133.6,173.8 1136.0,178.6 1138.3,204.7 1140.7,253.5 1143.1,260.4 1145.4,200.8 1147.8,189.4 1150.1,209.3 1152.5,245.9 1154.9,262.7 1157.2,227.0 1159.6,259.4 1161.9,183.3 1164.3,159.2 1166.7,95.7 1169.0,151.3 1171.4,214.0 1173.7,236.3 1176.1,331.2 1178.5,250.0 1180.8,219.2 1183.2,172.9 1185.5,176.1 1187.9,177.6 1190.3,191.0 1192.6,178.0 1195.0,147.8 1197.3,229.8 1199.7,225.0 1202.1,256.6 1204.4,157.6 1206.8,149.0 1209.1,166.4 1211.5,238.2 1213.9,204.6 1216.2,212.1 1218.6,202.6 1220.9,210.1 1223.3,186.8 1225.7,214.2 1228.0,175.8 1230.4,189.7 1232.7,211.2 1235.1,209.1 1237.5,220.2 1239.8,178.5 1242.2,208.2 1244.5,194.3 1246.9,215.6 1249.3,258.1 1251.6,182.8 1254.0,236.6 1256.3,186.5 1258.7,185.5 1261.1,258.1 1263.4,247.7 1265.8,230.5 1268.1,237.8"/><polyline points="798.5,246.0 800.9,186.2 803.2,208.6 805.6,191.2 807.9,216.3 810.3,195.5 812.7,228.4 815.0,209.6 817.4,184.5 819.7,198.3 822.1,218.6 824.5,244.8 826.8,206.0 829.2,192.1 831.5,210.4 833.9,232.0 836.3,190.4 838.6,114.1 841.0,196.4 843.3,190.4 845.7,187.8 848.1,290.5 850.4,216.7 852.8,231.1 855.1,160.7 857.5,204.0 859.9,231.0 862.2,216.8 864.6,200.5 866.9,222.7 869.3,209.3 871.7,252.3 874.0,221.3 876.4,180.0 878.7,130.0 881.1,164.2 883.5,186.3 885.8,158.7 888.2,159.0 890.5,136.5 892.9,152.3 895.3,197.6 897.6,193.4 900.0,195.4 902.3,191.4 904.7,194.2 907.1,229.2 909.4,282.5 911.8,243.0 914.1,282.6 916.5,217.1 918.9,206.2 921.2,262.9 923.6,191.4 925.9,170.9 928.3,193.8 930.7,143.3 933.0,126.0 935.4,230.4 937.7,172.7 940.1,182.1 942.5,184.7 944.8,167.2 947.2,221.6 949.5,228.0 951.9,237.5 954.3,236.9 956.6,213.8 959.0,256.6 961.3,250.9 963.7,192.9 966.1,204.0 968.4,190.3 970.8,267.2 973.1,243.9 975.5,231.2 977.9,208.1 980.2,225.1 982.6,175.3 984.9,200.1 987.3,202.4 989.7,203.0 992.0,178.7 994.4,215.2 996.7,166.7 999.1,180.2 1001.5,193.6 1003.8,200.2 1006.2,184.8 1008.5,164.3 1010.9,162.7 1013.3,182.3 1015.6,168.7 1018.0,192.6 1020.3,157.6 1022.7,195.4 1025.1,274.8 1027.4,171.0 1029.8,193.4 1032.1,242.7 1034.5,218.4 1036.9,237.6 1039.2,136.9 1041.6,172.9 1043.9,252.5 1046.3,194.3 1048.7,215.8 1051.0,139.0 1053.4,227.6 1055.7,287.2 1058.1,218.1 1060.5,218.8 1062.8,221.3 1065.2,282.3 1067.5,204.5 1069.9,145.2 1072.3,258.9 1074.6,173.7 1077.0,217.6 1079.3,124.2 1081.7,172.5 1084.1,204.0 1086.4,165.0 1088.8,177.5 1091.1,219.2 1093.5,181.9 1095.9,217.2 1098.2,269.1 1100.6,145.6 1102.9,204.3 1105.3,225.2 1107.7,196.1 1110.0,256.8 1112.4,261.8 1114.7,232.8 1117.1,227.7 1119.5,206.0 1121.8,164.8 1124.2,212.5 1126.5,188.2 1128.9,179.5 1131.3,236.9 1133.6,202.3 1136.0,236.5 1138.3,173.0 1140.7,181.6 1143.1,198.7 1145.4,249.7 1147.8,208.8 1150.1,231.6 1152.5,184.5 1154.9,204.1 1157.2,232.2 1159.6,177.0 1161.9,173.1 1164.3,218.4 1166.7,165.9 1169.0,206.6 1171.4,215.1 1173.7,201.6 1176.1,229.7 1178.5,224.4 1180.8,213.5 1183.2,152.0 1185.5,140.8 1187.9,200.2 1190.3,146.6 1192.6,193.8 1195.0,188.4 1197.3,169.7 1199.7,186.7 1202.1,115.7 1204.4,177.6 1206.8,240.4 1209.1,165.3 1211.5,210.5 1213.9,215.7 1216.2,310.9 1218.6,190.1 1220.9,172.3 1223.3,169.4 1225.7,162.6 1228.0,136.2 1230.4,191.8 1232.7,168.5 1235.1,222.7 1237.5,219.9 1239.8,169.9 1242.2,183.2 1244.5,246.3 1246.9,199.6 1249.3,209.3 1251.6,233.5 1254.0,194.4 1256.3,216.0 1258.7,261.2 1261.1,254.1 1263.4,151.8 1265.8,246.4 1268.1,204.4"/><polyline points="798.5,181.9 800.9,176.9 803.2,241.3 805.6,222.5 807.9,202.5 810.3,175.4 812.7,220.6 815.0,247.9 817.4,177.4 819.7,159.7 822.1,181.9 824.5,220.7 826.8,192.8 829.2,197.7 831.5,173.2 833.9,241.4 836.3,207.2 838.6,210.0 841.0,243.8 843.3,204.2 845.7,202.6 848.1,217.9 850.4,192.7 852.8,251.2 855.1,215.1 857.5,190.9 859.9,191.2 862.2,163.5 864.6,237.7 866.9,263.4 869.3,207.3 871.7,188.5 874.0,126.4 876.4,166.6 878.7,226.9 881.1,180.1 883.5,228.6 885.8,260.8 888.2,123.7 890.5,176.3 892.9,173.2 895.3,177.8 897.6,135.0 900.0,180.0 902.3,156.3 904.7,230.2 907.1,257.8 909.4,164.5 911.8,144.2 914.1,173.9 916.5,189.8 918.9,195.1 921.2,226.1 923.6,154.3 925.9,170.7 928.3,179.4 930.7,185.7 933.0,163.4 935.4,177.9 937.7,172.4 940.1,238.4 942.5,192.8 944.8,124.9 947.2,206.1 949.5,208.7 951.9,173.4 954.3,164.1 956.6,173.9 959.0,254.4 961.3,196.3 963.7,243.7 966.1,240.6 968.4,191.9 970.8,211.7 973.1,176.9 975.5,88.0 977.9,153.3 980.2,168.3 982.6,228.0 984.9,231.1 987.3,246.5 989.7,230.9 992.0,247.4 994.4,235.6 996.7,217.4 999.1,241.5 1001.5,261.0 1003.8,262.9 1006.2,199.6 1008.5,200.8 1010.9,167.2 1013.3,159.8 1015.6,206.9 1018.0,180.9 1020.3,249.6 1022.7,132.9 1025.1,147.7 1027.4,200.0 1029.8,243.7 1032.1,198.4 1034.5,268.2 1036.9,243.9 1039.2,185.5 1041.6,197.4 1043.9,219.7 1046.3,173.6 1048.7,234.1 1051.0,199.8 1053.4,220.4 1055.7,236.7 1058.1,194.1 1060.5,236.6 1062.8,143.6 1065.2,212.2 1067.5,135.7 1069.9,228.4 1072.3,187.4 1074.6,242.5 1077.0,258.5 1079.3,209.1 1081.7,181.0 1084.1,243.8 1086.4,170.2 1088.8,225.0 1091.1,203.4 1093.5,190.3 1095.9,180.2 1098.2,262.0 1100.6,158.6 1102.9,175.0 1105.3,212.9 1107.7,241.4 1110.0,270.6 1112.4,264.8 1114.7,196.8 1117.1,214.3 1119.5,245.5 1121.8,230.5 1124.2,154.3 1126.5,205.4 1128.9,224.5 1131.3,160.5 1133.6,178.9 1136.0,197.2 1138.3,223.7 1140.7,262.1 1143.1,256.4 1145.4,231.1 1147.8,216.9 1150.1,193.9 1152.5,182.4 1154.9,191.6 1157.2,193.6 1159.6,237.0 1161.9,285.9 1164.3,238.4 1166.7,244.1 1169.0,234.6 1171.4,219.5 1173.7,250.4 1176.1,252.0 1178.5,216.9 1180.8,202.3 1183.2,226.4 1185.5,190.8 1187.9,208.8 1190.3,240.5 1192.6,209.6 1195.0,138.9 1197.3,214.4 1199.7,165.0 1202.1,147.7 1204.4,140.0 1206.8,219.8 1209.1,136.3 1211.5,186.1 1213.9,209.1 1216.2,212.9 1218.6,184.5 1220.9,198.1 1223.3,208.8 1225.7,159.7 1228.0,220.2 1230.4,243.6 1232.7,183.9 1235.1,175.1 1237.5,159.6 1239.8,232.5 1242.2,171.6 1244.5,180.4 1246.9,137.3 1249.3,234.2 1251.6,202.1 1254.0,213.1 1256.3,261.3 1258.7,240.3 1261.1,171.5 1263.4,213.7 1265.8,231.0 1268.1,178.7"/><polyline points="798.5,168.3 800.9,162.1 803.2,223.0 805.6,209.6 807.9,168.8 810.3,219.7 812.7,233.2 815.0,180.6 817.4,144.3 819.7,232.2 822.1,300.4 824.5,273.9 826.8,253.2 829.2,218.4 831.5,185.1 833.9,205.1 836.3,228.5 838.6,203.3 841.0,237.3 843.3,212.1 845.7,227.9 848.1,114.6 850.4,157.3 852.8,223.7 855.1,242.6 857.5,226.8 859.9,266.0 862.2,241.8 864.6,237.2 866.9,179.4 869.3,213.8 871.7,233.4 874.0,256.6 876.4,255.5 878.7,216.4 881.1,213.8 883.5,166.0 885.8,218.2 888.2,169.5 890.5,187.9 892.9,200.7 895.3,273.5 897.6,262.9 900.0,189.6 902.3,151.9 904.7,186.1 907.1,173.5 909.4,211.9 911.8,218.4 914.1,229.9 916.5,174.8 918.9,185.9 921.2,208.4 923.6,216.1 925.9,186.7 928.3,189.0 930.7,229.9 933.0,148.8 935.4,183.7 937.7,199.3 940.1,151.1 942.5,157.3 944.8,197.5 947.2,183.7 949.5,237.2 951.9,232.9 954.3,288.7 956.6,177.9 959.0,265.1 961.3,192.1 963.7,230.5 966.1,243.4 968.4,218.5 970.8,197.3 973.1,181.0 975.5,137.1 977.9,177.8 980.2,167.6 982.6,217.5 984.9,181.4 987.3,193.9 989.7,218.0 992.0,209.9 994.4,207.1 996.7,197.7 999.1,188.4 1001.5,218.5 1003.8,232.6 1006.2,183.3 1008.5,259.1 1010.9,236.4 1013.3,155.8 1015.6,289.0 1018.0,245.0 1020.3,187.9 1022.7,258.4 1025.1,123.6 1027.4,278.4 1029.8,168.3 1032.1,142.1 1034.5,159.3 1036.9,202.6 1039.2,191.0 1041.6,232.6 1043.9,181.1 1046.3,238.4 1048.7,220.2 1051.0,172.1 1053.4,236.4 1055.7,223.0 1058.1,201.8 1060.5,250.3 1062.8,172.2 1065.2,185.5 1067.5,253.2 1069.9,215.2 1072.3,233.2 1074.6,232.6 1077.0,206.8 1079.3,229.2 1081.7,175.0 1084.1,222.7 1086.4,173.1 1088.8,199.1 1091.1,172.8 1093.5,216.5 1095.9,224.0 1098.2,248.1 1100.6,192.3 1102.9,168.6 1105.3,122.4 1107.7,142.2 1110.0,182.7 1112.4,206.9 1114.7,190.7 1117.1,202.1 1119.5,152.1 1121.8,160.3 1124.2,224.3 1126.5,231.9 1128.9,161.4 1131.3,184.5 1133.6,208.0 1136.0,163.0 1138.3,209.1 1140.7,214.6 1143.1,222.0 1145.4,276.1 1147.8,187.9 1150.1,242.9 1152.5,231.5 1154.9,235.3 1157.2,184.6 1159.6,202.3 1161.9,202.9 1164.3,262.4 1166.7,218.5 1169.0,258.4 1171.4,203.9 1173.7,190.9 1176.1,201.8 1178.5,131.7 1180.8,170.8 1183.2,176.2 1185.5,193.2 1187.9,208.4 1190.3,170.8 1192.6,158.5 1195.0,240.3 1197.3,174.1 1199.7,179.8 1202.1,165.3 1204.4,179.7 1206.8,242.5 1209.1,252.6 1211.5,149.5 1213.9,184.0 1216.2,249.4 1218.6,200.7 1220.9,215.8 1223.3,270.7 1225.7,297.4 1228.0,278.6 1230.4,209.2 1232.7,206.5 1235.1,213.0 1237.5,195.6 1239.8,181.0 1242.2,272.8 1244.5,228.1 1246.9,237.6 1249.3,253.7 1251.6,232.9 1254.0,213.8 1256.3,215.1 1258.7,257.0 1261.1,231.3 1263.4,138.6 1265.8,227.6 1268.1,267.6"/><polyline points="798.5,193.9 800.9,180.8 803.2,182.9 805.6,238.8 807.9,175.7 810.3,225.6 812.7,247.9 815.0,233.9 817.4,213.5 819.7,180.6 822.1,177.2 824.5,199.2 826.8,170.1 829.2,194.1 831.5,170.4 833.9,246.2 836.3,267.4 838.6,189.3 841.0,249.5 843.3,223.4 845.7,211.1 848.1,222.3 850.4,223.3 852.8,158.8 855.1,283.4 857.5,188.7 859.9,120.3 862.2,186.2 864.6,200.9 866.9,177.7 869.3,134.4 871.7,231.5 874.0,206.2 876.4,210.7 878.7,185.5 881.1,194.5 883.5,178.7 885.8,213.5 888.2,203.9 890.5,227.2 892.9,231.7 895.3,214.3 897.6,210.8 900.0,246.2 902.3,157.2 904.7,199.1 907.1,251.3 909.4,174.6 911.8,224.1 914.1,190.0 916.5,201.6 918.9,194.5 921.2,195.9 923.6,222.3 925.9,206.0 928.3,132.9 930.7,268.0 933.0,214.2 935.4,190.6 937.7,238.0 940.1,258.6 942.5,139.0 944.8,203.8 947.2,130.9 949.5,170.4 951.9,194.4 954.3,185.2 956.6,177.7 959.0,157.2 961.3,179.1 963.7,193.7 966.1,195.5 968.4,154.7 970.8,165.3 973.1,231.1 975.5,231.5 977.9,197.7 980.2,224.3 982.6,221.0 984.9,240.7 987.3,220.3 989.7,192.2 992.0,166.5 994.4,195.9 996.7,129.4 999.1,191.5 1001.5,89.4 1003.8,145.7 1006.2,174.7 1008.5,215.4 1010.9,305.0 1013.3,229.4 1015.6,202.6 1018.0,136.1 1020.3,238.5 1022.7,143.9 1025.1,200.5 1027.4,177.7 1029.8,287.5 1032.1,215.6 1034.5,218.1 1036.9,182.7 1039.2,196.3 1041.6,242.3 1043.9,178.2 1046.3,174.3 1048.7,176.9 1051.0,163.0 1053.4,157.0 1055.7,195.1 1058.1,249.6 1060.5,261.4 1062.8,167.9 1065.2,171.7 1067.5,193.7 1069.9,216.9 1072.3,205.2 1074.6,203.1 1077.0,215.4 1079.3,230.5 1081.7,133.2 1084.1,181.6 1086.4,220.5 1088.8,252.7 1091.1,238.9 1093.5,185.5 1095.9,173.5 1098.2,205.3 1100.6,202.2 1102.9,214.1 1105.3,244.6 1107.7,166.3 1110.0,183.2 1112.4,112.8 1114.7,212.0 1117.1,210.2 1119.5,174.1 1121.8,206.4 1124.2,252.9 1126.5,246.8 1128.9,208.8 1131.3,192.7 1133.6,204.8 1136.0,168.8 1138.3,161.9 1140.7,184.0 1143.1,198.8 1145.4,211.6 1147.8,186.0 1150.1,167.9 1152.5,194.4 1154.9,186.1 1157.2,211.5 1159.6,254.7 1161.9,249.0 1164.3,185.9 1166.7,184.5 1169.0,144.1 1171.4,189.8 1173.7,170.6 1176.1,150.7 1178.5,158.3 1180.8,215.9 1183.2,212.6 1185.5,200.9 1187.9,237.7 1190.3,193.9 1192.6,165.9 1195.0,213.0 1197.3,136.4 1199.7,200.4 1202.1,210.2 1204.4,213.3 1206.8,230.5 1209.1,194.4 1211.5,201.1 1213.9,145.0 1216.2,170.7 1218.6,178.3 1220.9,206.4 1223.3,253.8 1225.7,216.9 1228.0,236.1 1230.4,176.8 1232.7,199.4 1235.1,144.5 1237.5,166.1 1239.8,166.9 1242.2,188.3 1244.5,193.3 1246.9,178.7 1249.3,166.4 1251.6,221.1 1254.0,189.9 1256.3,109.1 1258.7,187.9 1261.1,209.5 1263.4,229.1 1265.8,259.6 1268.1,173.2"/><polyline points="798.5,201.5 800.9,192.8 803.2,136.9 805.6,102.4 807.9,214.6 810.3,168.9 812.7,174.9 815.0,183.9 817.4,182.9 819.7,200.3 822.1,147.3 824.5,170.8 826.8,185.0 829.2,156.2 831.5,162.7 833.9,179.3 836.3,187.3 838.6,138.8 841.0,172.8 843.3,200.6 845.7,233.0 848.1,221.5 850.4,244.0 852.8,207.9 855.1,195.4 857.5,273.8 859.9,217.0 862.2,183.5 864.6,193.7 866.9,235.1 869.3,165.4 871.7,220.4 874.0,250.0 876.4,250.7 878.7,213.5 881.1,171.1 883.5,156.3 885.8,186.8 888.2,242.1 890.5,234.3 892.9,241.2 895.3,217.4 897.6,268.5 900.0,212.7 902.3,182.9 904.7,204.7 907.1,187.7 909.4,233.4 911.8,260.6 914.1,237.4 916.5,169.9 918.9,160.8 921.2,211.1 923.6,163.0 925.9,206.9 928.3,151.3 930.7,176.3 933.0,214.0 935.4,177.9 937.7,225.7 940.1,240.9 942.5,262.0 944.8,206.3 947.2,206.1 949.5,206.9 951.9,218.7 954.3,156.3 956.6,209.1 959.0,230.1 961.3,165.3 963.7,146.2 966.1,180.3 968.4,260.0 970.8,236.0 973.1,188.7 975.5,200.1 977.9,148.5 980.2,240.6 982.6,187.3 984.9,222.4 987.3,161.1 989.7,197.8 992.0,166.4 994.4,218.9 996.7,256.1 999.1,253.1 1001.5,234.8 1003.8,245.8 1006.2,170.1 1008.5,150.1 1010.9,183.4 1013.3,235.9 1015.6,214.3 1018.0,229.9 1020.3,158.0 1022.7,183.5 1025.1,182.5 1027.4,213.5 1029.8,276.1 1032.1,245.2 1034.5,251.1 1036.9,200.2 1039.2,199.6 1041.6,231.0 1043.9,222.8 1046.3,152.6 1048.7,227.1 1051.0,240.6 1053.4,219.1 1055.7,231.3 1058.1,224.2 1060.5,189.2 1062.8,140.1 1065.2,253.3 1067.5,214.3 1069.9,204.4 1072.3,206.8 1074.6,210.9 1077.0,217.1 1079.3,171.2 1081.7,213.5 1084.1,210.1 1086.4,205.0 1088.8,200.2 1091.1,209.0 1093.5,169.7 1095.9,197.2 1098.2,196.3 1100.6,204.0 1102.9,238.9 1105.3,239.8 1107.7,247.7 1110.0,205.8 1112.4,229.1 1114.7,246.0 1117.1,203.8 1119.5,185.3 1121.8,261.7 1124.2,156.1 1126.5,193.1 1128.9,205.3 1131.3,166.6 1133.6,193.8 1136.0,222.9 1138.3,130.6 1140.7,226.7 1143.1,211.7 1145.4,175.6 1147.8,235.6 1150.1,213.7 1152.5,192.1 1154.9,117.2 1157.2,217.7 1159.6,208.2 1161.9,181.5 1164.3,196.4 1166.7,244.4 1169.0,197.5 1171.4,198.7 1173.7,187.1 1176.1,160.7 1178.5,159.6 1180.8,180.6 1183.2,188.2 1185.5,239.1 1187.9,215.5 1190.3,198.3 1192.6,216.7 1195.0,202.9 1197.3,232.5 1199.7,155.7 1202.1,118.7 1204.4,200.4 1206.8,189.0 1209.1,209.0 1211.5,160.5 1213.9,179.8 1216.2,196.2 1218.6,210.0 1220.9,200.6 1223.3,238.1 1225.7,186.9 1228.0,225.4 1230.4,189.3 1232.7,196.3 1235.1,163.8 1237.5,196.3 1239.8,166.4 1242.2,228.6 1244.5,187.3 1246.9,208.3 1249.3,197.8 1251.6,200.0 1254.0,170.2 1256.3,267.8 1258.7,205.2 1261.1,256.4 1263.4,171.9 1265.8,266.5 1268.1,251.4"/><polyline points="798.5,263.6 800.9,158.2 803.2,239.8 805.6,206.9 807.9,223.1 810.3,270.7 812.7,228.9 815.0,185.5 817.4,206.5 819.7,171.3 822.1,209.9 824.5,204.7 826.8,217.4 829.2,194.4 831.5,135.3 833.9,177.3 836.3,191.6 838.6,223.0 841.0,234.0 843.3,158.5 845.7,233.6 848.1,241.7 850.4,214.7 852.8,220.8 855.1,138.6 857.5,273.6 859.9,205.0 862.2,179.0 864.6,238.0 866.9,233.2 869.3,194.4 871.7,144.7 874.0,224.2 876.4,263.1 878.7,181.5 881.1,145.9 883.5,203.9 885.8,281.3 888.2,168.3 890.5,203.6 892.9,164.3 895.3,197.3 897.6,215.6 900.0,221.9 902.3,155.7 904.7,143.8 907.1,266.6 909.4,249.1 911.8,150.5 914.1,205.9 916.5,251.8 918.9,213.2 921.2,209.4 923.6,208.3 925.9,221.4 928.3,218.1 930.7,222.6 933.0,195.8 935.4,230.6 937.7,219.2 940.1,211.9 942.5,159.6 944.8,181.8 947.2,203.2 949.5,184.8 951.9,185.7 954.3,162.0 956.6,177.6 959.0,135.6 961.3,143.0 963.7,193.0 966.1,216.1 968.4,175.3 970.8,179.9 973.1,202.3 975.5,255.2 977.9,278.2 980.2,206.4 982.6,177.2 984.9,170.3 987.3,242.1 989.7,175.0 992.0,216.7 994.4,192.7 996.7,186.9 999.1,228.5 1001.5,229.4 1003.8,281.5 1006.2,251.4 1008.5,276.4 1010.9,202.9 1013.3,201.4 1015.6,171.2 1018.0,184.7 1020.3,222.1 1022.7,195.3 1025.1,215.7 1027.4,184.8 1029.8,188.9 1032.1,235.4 1034.5,210.0 1036.9,203.0 1039.2,214.3 1041.6,174.5 1043.9,137.8 1046.3,203.4 1048.7,215.9 1051.0,284.9 1053.4,224.5 1055.7,223.1 1058.1,283.3 1060.5,209.5 1062.8,184.2 1065.2,225.5 1067.5,221.1 1069.9,241.1 1072.3,184.5 1074.6,253.0 1077.0,224.5 1079.3,139.5 1081.7,189.1 1084.1,184.4 1086.4,205.0 1088.8,245.1 1091.1,213.1 1093.5,191.3 1095.9,237.1 1098.2,198.4 1100.6,159.0 1102.9,157.3 1105.3,249.9 1107.7,247.1 1110.0,268.9 1112.4,179.2 1114.7,177.4 1117.1,173.8 1119.5,228.5 1121.8,249.5 1124.2,210.2 1126.5,201.5 1128.9,233.2 1131.3,204.6 1133.6,181.3 1136.0,191.2 1138.3,237.6 1140.7,284.5 1143.1,228.9 1145.4,203.0 1147.8,212.7 1150.1,220.5 1152.5,231.3 1154.9,184.1 1157.2,201.6 1159.6,199.0 1161.9,236.8 1164.3,232.1 1166.7,203.6 1169.0,238.9 1171.4,254.9 1173.7,225.5 1176.1,166.0 1178.5,189.5 1180.8,149.7 1183.2,197.5 1185.5,213.3 1187.9,254.4 1190.3,234.0 1192.6,159.5 1195.0,183.4 1197.3,173.9 1199.7,173.0 1202.1,197.9 1204.4,209.7 1206.8,200.7 1209.1,179.6 1211.5,182.8 1213.9,182.3 1216.2,194.0 1218.6,228.7 1220.9,217.9 1223.3,239.5 1225.7,175.7 1228.0,271.8 1230.4,224.9 1232.7,124.3 1235.1,199.8 1237.5,242.7 1239.8,212.1 1242.2,160.2 1244.5,200.6 1246.9,181.6 1249.3,195.8 1251.6,215.2 1254.0,95.6 1256.3,179.6 1258.7,217.7 1261.1,223.7 1263.4,194.4 1265.8,187.5 1268.1,173.4"/><polyline points="798.5,198.7 800.9,252.9 803.2,194.9 805.6,212.8 807.9,215.5 810.3,258.0 812.7,234.7 815.0,235.4 817.4,211.3 819.7,256.2 822.1,212.4 824.5,201.1 826.8,242.4 829.2,233.3 831.5,239.7 833.9,179.1 836.3,287.4 838.6,232.5 841.0,267.6 843.3,231.6 845.7,179.6 848.1,221.0 850.4,202.3 852.8,233.0 855.1,141.6 857.5,159.3 859.9,155.3 862.2,240.6 864.6,249.7 866.9,175.1 869.3,204.8 871.7,213.0 874.0,193.9 876.4,245.7 878.7,185.0 881.1,199.3 883.5,186.0 885.8,223.7 888.2,189.7 890.5,225.6 892.9,174.6 895.3,158.3 897.6,162.7 900.0,177.4 902.3,176.2 904.7,293.0 907.1,192.3 909.4,211.0 911.8,201.8 914.1,213.3 916.5,254.4 918.9,232.7 921.2,186.4 923.6,150.6 925.9,214.9 928.3,237.6 930.7,159.6 933.0,225.8 935.4,135.5 937.7,188.3 940.1,231.6 942.5,174.8 944.8,138.6 947.2,241.0 949.5,156.5 951.9,204.1 954.3,151.7 956.6,206.6 959.0,259.6 961.3,197.3 963.7,170.0 966.1,123.5 968.4,127.3 970.8,164.1 973.1,204.1 975.5,222.0 977.9,217.7 980.2,235.6 982.6,219.7 984.9,296.1 987.3,215.9 989.7,207.2 992.0,114.5 994.4,159.3 996.7,211.6 999.1,185.5 1001.5,243.0 1003.8,232.7 1006.2,274.9 1008.5,167.6 1010.9,175.7 1013.3,239.3 1015.6,212.9 1018.0,172.3 1020.3,180.1 1022.7,185.6 1025.1,230.1 1027.4,231.3 1029.8,205.9 1032.1,171.9 1034.5,226.4 1036.9,247.5 1039.2,172.4 1041.6,230.0 1043.9,171.2 1046.3,188.7 1048.7,169.8 1051.0,135.8 1053.4,166.0 1055.7,169.0 1058.1,228.9 1060.5,233.1 1062.8,187.0 1065.2,146.6 1067.5,143.5 1069.9,110.5 1072.3,174.2 1074.6,190.7 1077.0,165.8 1079.3,195.5 1081.7,204.2 1084.1,240.5 1086.4,176.3 1088.8,235.8 1091.1,192.2 1093.5,251.1 1095.9,174.8 1098.2,234.0 1100.6,180.2 1102.9,254.7 1105.3,229.3 1107.7,167.5 1110.0,224.7 1112.4,205.5 1114.7,220.8 1117.1,288.1 1119.5,209.8 1121.8,189.8 1124.2,239.7 1126.5,190.8 1128.9,229.0 1131.3,243.9 1133.6,211.5 1136.0,229.1 1138.3,128.5 1140.7,243.1 1143.1,185.7 1145.4,165.5 1147.8,265.4 1150.1,276.8 1152.5,198.6 1154.9,219.6 1157.2,193.4 1159.6,161.7 1161.9,208.3 1164.3,241.9 1166.7,307.0 1169.0,217.2 1171.4,238.9 1173.7,199.8 1176.1,194.8 1178.5,250.4 1180.8,152.6 1183.2,155.5 1185.5,164.3 1187.9,237.3 1190.3,224.7 1192.6,227.1 1195.0,222.9 1197.3,246.9 1199.7,197.1 1202.1,194.4 1204.4,189.0 1206.8,218.5 1209.1,161.4 1211.5,188.7 1213.9,296.6 1216.2,244.7 1218.6,213.9 1220.9,171.9 1223.3,207.9 1225.7,213.3 1228.0,228.9 1230.4,185.4 1232.7,215.7 1235.1,227.3 1237.5,234.4 1239.8,190.3 1242.2,219.7 1244.5,265.6 1246.9,194.3 1249.3,226.4 1251.6,195.7 1254.0,189.0 1256.3,158.6 1258.7,158.1 1261.1,214.7 1263.4,211.7 1265.8,250.5 1268.1,154.3"/><polyline points="798.5,187.9 800.9,151.7 803.2,204.5 805.6,275.7 807.9,164.4 810.3,192.6 812.7,196.8 815.0,200.4 817.4,180.4 819.7,180.4 822.1,254.8 824.5,175.8 826.8,216.7 829.2,222.7 831.5,147.0 833.9,160.1 836.3,206.8 838.6,269.4 841.0,211.2 843.3,186.3 845.7,203.0 848.1,247.2 850.4,240.1 852.8,255.0 855.1,206.4 857.5,175.5 859.9,162.1 862.2,221.0 864.6,198.9 866.9,183.3 869.3,217.5 871.7,211.7 874.0,130.9 876.4,181.9 878.7,168.4 881.1,211.9 883.5,203.9 885.8,263.8 888.2,216.6 890.5,164.5 892.9,122.3 895.3,145.5 897.6,168.0 900.0,194.7 902.3,222.9 904.7,213.2 907.1,184.1 909.4,227.3 911.8,175.7 914.1,232.6 916.5,271.8 918.9,252.8 921.2,271.9 923.6,265.4 925.9,176.4 928.3,205.3 930.7,196.4 933.0,161.7 935.4,151.2 937.7,210.9 940.1,158.6 942.5,181.2 944.8,199.1 947.2,187.3 949.5,250.4 951.9,240.6 954.3,214.9 956.6,184.6 959.0,212.9 961.3,210.0 963.7,171.0 966.1,147.7 968.4,165.6 970.8,151.6 973.1,207.5 975.5,215.2 977.9,194.8 980.2,212.5 982.6,223.2 984.9,149.7 987.3,200.0 989.7,236.8 992.0,193.2 994.4,137.3 996.7,187.6 999.1,157.3 1001.5,209.8 1003.8,222.1 1006.2,231.6 1008.5,214.3 1010.9,141.5 1013.3,231.7 1015.6,151.9 1018.0,228.7 1020.3,216.9 1022.7,177.1 1025.1,176.3 1027.4,188.3 1029.8,258.4 1032.1,202.0 1034.5,239.2 1036.9,120.8 1039.2,194.6 1041.6,195.3 1043.9,242.2 1046.3,228.2 1048.7,253.8 1051.0,179.3 1053.4,208.0 1055.7,184.8 1058.1,223.9 1060.5,225.3 1062.8,162.9 1065.2,229.6 1067.5,272.0 1069.9,203.1 1072.3,243.6 1074.6,227.1 1077.0,176.4 1079.3,226.9 1081.7,177.6 1084.1,222.3 1086.4,155.2 1088.8,147.6 1091.1,209.0 1093.5,212.2 1095.9,234.6 1098.2,202.9 1100.6,163.3 1102.9,246.3 1105.3,180.1 1107.7,245.4 1110.0,242.2 1112.4,274.0 1114.7,144.0 1117.1,189.7 1119.5,192.3 1121.8,225.1 1124.2,170.6 1126.5,270.8 1128.9,216.2 1131.3,128.9 1133.6,202.1 1136.0,202.8 1138.3,180.0 1140.7,227.4 1143.1,207.6 1145.4,170.8 1147.8,190.3 1150.1,188.0 1152.5,212.8 1154.9,194.5 1157.2,199.9 1159.6,152.0 1161.9,168.0 1164.3,205.1 1166.7,289.7 1169.0,195.8 1171.4,175.7 1173.7,230.2 1176.1,279.0 1178.5,258.8 1180.8,182.3 1183.2,236.7 1185.5,226.4 1187.9,200.5 1190.3,160.2 1192.6,195.6 1195.0,205.6 1197.3,223.3 1199.7,150.5 1202.1,155.7 1204.4,197.4 1206.8,251.4 1209.1,240.9 1211.5,190.8 1213.9,226.4 1216.2,177.0 1218.6,185.7 1220.9,189.8 1223.3,178.0 1225.7,181.1 1228.0,229.2 1230.4,220.2 1232.7,125.0 1235.1,230.3 1237.5,225.7 1239.8,170.7 1242.2,202.7 1244.5,232.0 1246.9,255.7 1249.3,195.3 1251.6,166.3 1254.0,147.2 1256.3,190.5 1258.7,164.4 1261.1,232.0 1263.4,203.5 1265.8,227.4 1268.1,202.4"/><polyline points="798.5,176.9 800.9,160.8 803.2,229.8 805.6,164.5 807.9,212.5 810.3,241.4 812.7,217.2 815.0,257.7 817.4,214.3 819.7,195.7 822.1,209.1 824.5,186.0 826.8,211.2 829.2,205.1 831.5,254.5 833.9,212.4 836.3,235.3 838.6,225.8 841.0,211.4 843.3,198.6 845.7,260.4 848.1,269.8 850.4,227.5 852.8,191.8 855.1,188.7 857.5,169.4 859.9,151.3 862.2,175.8 864.6,198.8 866.9,238.9 869.3,243.9 871.7,228.1 874.0,199.2 876.4,195.1 878.7,201.8 881.1,208.7 883.5,182.6 885.8,192.2 888.2,191.0 890.5,190.3 892.9,220.2 895.3,243.1 897.6,194.4 900.0,187.2 902.3,208.1 904.7,219.2 907.1,127.0 909.4,215.0 911.8,213.6 914.1,196.4 916.5,242.7 918.9,207.4 921.2,141.4 923.6,158.5 925.9,172.5 928.3,176.7 930.7,194.4 933.0,168.3 935.4,202.1 937.7,218.2 940.1,203.0 942.5,171.8 944.8,185.8 947.2,176.5 949.5,269.2 951.9,175.0 954.3,115.9 956.6,139.4 959.0,202.0 961.3,233.1 963.7,199.9 966.1,237.5 968.4,185.0 970.8,218.4 973.1,173.0 975.5,149.8 977.9,264.1 980.2,205.5 982.6,228.5 984.9,258.1 987.3,236.2 989.7,217.9 992.0,170.3 994.4,250.3 996.7,176.2 999.1,127.5 1001.5,167.5 1003.8,177.3 1006.2,198.9 1008.5,243.9 1010.9,193.0 1013.3,188.1 1015.6,174.9 1018.0,107.9 1020.3,159.0 1022.7,179.9 1025.1,144.2 1027.4,238.9 1029.8,250.8 1032.1,226.3 1034.5,231.2 1036.9,184.9 1039.2,211.1 1041.6,144.2 1043.9,138.5 1046.3,163.7 1048.7,209.2 1051.0,183.2 1053.4,171.2 1055.7,234.6 1058.1,197.7 1060.5,177.8 1062.8,190.9 1065.2,146.1 1067.5,149.6 1069.9,221.8 1072.3,203.0 1074.6,232.8 1077.0,189.2 1079.3,231.2 1081.7,176.8 1084.1,184.7 1086.4,165.9 1088.8,201.2 1091.1,254.2 1093.5,151.9 1095.9,199.4 1098.2,154.6 1100.6,178.8 1102.9,175.1 1105.3,133.9 1107.7,177.8 1110.0,149.5 1112.4,244.9 1114.7,181.4 1117.1,207.7 1119.5,209.2 1121.8,204.5 1124.2,191.7 1126.5,143.2 1128.9,256.6 1131.3,212.7 1133.6,230.6 1136.0,168.2 1138.3,211.4 1140.7,189.2 1143.1,214.7 1145.4,182.5 1147.8,163.9 1150.1,209.7 1152.5,203.2 1154.9,253.4 1157.2,202.9 1159.6,173.5 1161.9,217.1 1164.3,167.1 1166.7,269.0 1169.0,281.6 1171.4,267.9 1173.7,233.5 1176.1,209.0 1178.5,207.5 1180.8,206.8 1183.2,179.0 1185.5,215.3 1187.9,250.3 1190.3,256.6 1192.6,140.3 1195.0,273.4 1197.3,223.8 1199.7,156.6 1202.1,177.4 1204.4,227.5 1206.8,208.4 1209.1,174.4 1211.5,155.5 1213.9,225.6 1216.2,181.4 1218.6,190.4 1220.9,162.3 1223.3,146.7 1225.7,204.3 1228.0,254.6 1230.4,200.0 1232.7,140.7 1235.1,167.1 1237.5,188.3 1239.8,116.5 1242.2,222.7 1244.5,175.9 1246.9,218.1 1249.3,204.8 1251.6,200.8 1254.0,150.0 1256.3,225.8 1258.7,226.9 1261.1,264.2 1263.4,198.7 1265.8,218.8 1268.1,191.9"/><polyline points="798.5,242.1 800.9,224.0 803.2,171.4 805.6,203.3 807.9,181.7 810.3,180.8 812.7,211.5 815.0,259.9 817.4,180.4 819.7,193.1 822.1,167.1 824.5,266.9 826.8,274.3 829.2,292.9 831.5,252.3 833.9,176.9 836.3,178.5 838.6,199.9 841.0,198.3 843.3,176.0 845.7,208.7 848.1,190.8 850.4,196.2 852.8,278.8 855.1,232.2 857.5,161.8 859.9,209.2 862.2,209.8 864.6,226.2 866.9,225.2 869.3,168.6 871.7,206.1 874.0,240.0 876.4,320.0 878.7,247.0 881.1,281.3 883.5,283.1 885.8,191.7 888.2,176.5 890.5,265.4 892.9,186.2 895.3,184.1 897.6,227.2 900.0,182.7 902.3,256.5 904.7,256.5 907.1,264.7 909.4,254.9 911.8,183.1 914.1,246.3 916.5,252.6 918.9,246.8 921.2,205.5 923.6,216.0 925.9,175.9 928.3,223.1 930.7,252.8 933.0,231.2 935.4,208.0 937.7,237.3 940.1,200.8 942.5,139.7 944.8,211.5 947.2,204.0 949.5,156.7 951.9,217.4 954.3,236.5 956.6,249.0 959.0,199.3 961.3,185.3 963.7,205.7 966.1,203.2 968.4,159.5 970.8,165.1 973.1,245.8 975.5,213.1 977.9,202.6 980.2,179.0 982.6,207.4 984.9,227.9 987.3,225.5 989.7,271.3 992.0,219.0 994.4,228.6 996.7,193.3 999.1,238.6 1001.5,227.0 1003.8,243.7 1006.2,250.2 1008.5,189.6 1010.9,218.3 1013.3,192.3 1015.6,241.9 1018.0,209.2 1020.3,265.3 1022.7,234.1 1025.1,228.7 1027.4,189.6 1029.8,196.0 1032.1,209.7 1034.5,177.0 1036.9,193.1 1039.2,184.2 1041.6,174.4 1043.9,201.7 1046.3,215.1 1048.7,196.0 1051.0,218.3 1053.4,194.6 1055.7,164.6 1058.1,167.5 1060.5,211.4 1062.8,251.8 1065.2,216.9 1067.5,212.3 1069.9,168.3 1072.3,211.6 1074.6,214.2 1077.0,181.7 1079.3,217.6 1081.7,213.7 1084.1,147.4 1086.4,142.0 1088.8,171.0 1091.1,189.4 1093.5,236.4 1095.9,192.4 1098.2,201.1 1100.6,197.1 1102.9,222.2 1105.3,209.5 1107.7,213.0 1110.0,196.2 1112.4,153.9 1114.7,182.8 1117.1,259.2 1119.5,250.4 1121.8,270.1 1124.2,246.4 1126.5,194.4 1128.9,189.5 1131.3,223.5 1133.6,200.0 1136.0,231.1 1138.3,260.5 1140.7,265.9 1143.1,247.9 1145.4,164.5 1147.8,244.5 1150.1,170.1 1152.5,152.2 1154.9,201.5 1157.2,206.7 1159.6,227.5 1161.9,211.1 1164.3,183.9 1166.7,201.2 1169.0,170.1 1171.4,157.3 1173.7,184.2 1176.1,190.1 1178.5,204.9 1180.8,193.6 1183.2,242.5 1185.5,199.1 1187.9,197.4 1190.3,234.4 1192.6,136.4 1195.0,226.0 1197.3,240.4 1199.7,203.1 1202.1,273.2 1204.4,247.1 1206.8,267.5 1209.1,252.1 1211.5,219.9 1213.9,197.6 1216.2,165.7 1218.6,169.8 1220.9,157.4 1223.3,175.7 1225.7,216.4 1228.0,169.1 1230.4,215.7 1232.7,229.5 1235.1,157.3 1237.5,168.7 1239.8,190.9 1242.2,176.7 1244.5,169.5 1246.9,246.5 1249.3,217.5 1251.6,249.6 1254.0,210.5 1256.3,230.5 1258.7,163.4 1261.1,179.4 1263.4,229.2 1265.8,211.4 1268.1,249.6"/><polyline points="798.5,204.2 800.9,186.6 803.2,193.0 805.6,271.1 807.9,230.9 810.3,193.3 812.7,192.9 815.0,162.9 817.4,242.5 819.7,195.1 822.1,226.8 824.5,203.5 826.8,191.4 829.2,179.2 831.5,221.0 833.9,202.7 836.3,246.4 838.6,263.7 841.0,198.2 843.3,206.5 845.7,263.0 848.1,247.3 850.4,213.8 852.8,153.3 855.1,159.0 857.5,168.8 859.9,261.3 862.2,220.7 864.6,192.4 866.9,189.7 869.3,188.4 871.7,210.8 874.0,145.6 876.4,142.4 878.7,196.8 881.1,238.7 883.5,140.8 885.8,212.5 888.2,165.6 890.5,131.2 892.9,224.3 895.3,199.7 897.6,217.1 900.0,190.4 902.3,191.9 904.7,135.2 907.1,171.4 909.4,199.6 911.8,165.5 914.1,207.6 916.5,219.3 918.9,130.5 921.2,219.9 923.6,226.1 925.9,208.7 928.3,243.8 930.7,287.7 933.0,185.6 935.4,229.6 937.7,229.9 940.1,224.0 942.5,244.2 944.8,251.5 947.2,209.7 949.5,122.9 951.9,163.8 954.3,171.6 956.6,252.1 959.0,216.3 961.3,249.7 963.7,187.9 966.1,210.6 968.4,205.8 970.8,209.3 973.1,227.3 975.5,263.8 977.9,197.5 980.2,253.0 982.6,257.0 984.9,226.9 987.3,235.1 989.7,202.9 992.0,170.2 994.4,190.3 996.7,196.2 999.1,203.5 1001.5,175.7 1003.8,264.8 1006.2,205.1 1008.5,238.7 1010.9,256.0 1013.3,216.1 1015.6,221.8 1018.0,189.0 1020.3,164.2 1022.7,279.4 1025.1,223.4 1027.4,141.1 1029.8,162.8 1032.1,146.9 1034.5,190.8 1036.9,253.5 1039.2,255.2 1041.6,191.1 1043.9,169.7 1046.3,224.6 1048.7,219.3 1051.0,199.7 1053.4,266.3 1055.7,230.6 1058.1,154.4 1060.5,119.3 1062.8,192.7 1065.2,139.4 1067.5,211.3 1069.9,235.7 1072.3,290.6 1074.6,189.6 1077.0,216.1 1079.3,126.2 1081.7,178.6 1084.1,194.1 1086.4,267.1 1088.8,165.9 1091.1,210.9 1093.5,212.8 1095.9,284.9 1098.2,189.5 1100.6,168.2 1102.9,219.9 1105.3,205.7 1107.7,192.4 1110.0,169.7 1112.4,195.2 1114.7,143.6 1117.1,202.2 1119.5,226.6 1121.8,226.6 1124.2,299.2 1126.5,253.1 1128.9,180.3 1131.3,191.7 1133.6,231.9 1136.0,199.0 1138.3,275.4 1140.7,230.0 1143.1,192.5 1145.4,178.9 1147.8,227.8 1150.1,178.5 1152.5,135.0 1154.9,206.8 1157.2,180.3 1159.6,255.5 1161.9,284.7 1164.3,200.3 1166.7,203.4 1169.0,198.5 1171.4,225.0 1173.7,220.1 1176.1,180.4 1178.5,140.7 1180.8,200.5 1183.2,262.8 1185.5,172.7 1187.9,178.2 1190.3,176.5 1192.6,193.7 1195.0,122.1 1197.3,186.5 1199.7,184.0 1202.1,266.5 1204.4,238.4 1206.8,236.5 1209.1,213.1 1211.5,195.2 1213.9,230.1 1216.2,150.1 1218.6,232.1 1220.9,227.0 1223.3,201.8 1225.7,249.0 1228.0,194.5 1230.4,181.5 1232.7,211.3 1235.1,140.1 1237.5,189.9 1239.8,192.9 1242.2,237.0 1244.5,270.9 1246.9,241.1 1249.3,224.2 1251.6,225.6 1254.0,182.9 1256.3,285.0 1258.7,261.5 1261.1,281.1 1263.4,173.9 1265.8,219.4 1268.1,226.7"/><polyline points="798.5,245.0 800.9,182.2 803.2,215.6 805.6,200.1 807.9,276.1 810.3,178.9 812.7,186.7 815.0,182.7 817.4,157.9 819.7,203.1 822.1,211.2 824.5,181.8 826.8,186.1 829.2,210.5 831.5,205.3 833.9,223.4 836.3,184.3 838.6,168.8 841.0,198.3 843.3,138.4 845.7,246.3 848.1,222.1 850.4,149.0 852.8,209.3 855.1,262.7 857.5,168.2 859.9,179.1 862.2,242.4 864.6,185.9 866.9,237.7 869.3,259.3 871.7,221.8 874.0,225.9 876.4,248.4 878.7,227.2 881.1,245.3 883.5,211.6 885.8,207.8 888.2,180.0 890.5,216.6 892.9,254.7 895.3,261.9 897.6,225.6 900.0,155.8 902.3,166.0 904.7,220.3 907.1,175.6 909.4,240.5 911.8,177.1 914.1,213.5 916.5,180.3 918.9,178.8 921.2,210.1 923.6,195.1 925.9,241.1 928.3,215.4 930.7,169.6 933.0,81.2 935.4,150.8 937.7,191.7 940.1,238.5 942.5,175.1 944.8,257.8 947.2,244.4 949.5,200.9 951.9,247.1 954.3,159.9 956.6,158.2 959.0,216.2 961.3,227.3 963.7,256.4 966.1,265.1 968.4,202.0 970.8,183.1 973.1,188.8 975.5,193.0 977.9,222.9 980.2,196.5 982.6,255.6 984.9,215.4 987.3,155.8 989.7,149.2 992.0,210.7 994.4,218.5 996.7,159.8 999.1,133.7 1001.5,243.9 1003.8,228.4 1006.2,202.0 1008.5,162.1 1010.9,226.5 1013.3,187.3 1015.6,212.6 1018.0,123.5 1020.3,174.1 1022.7,204.1 1025.1,217.2 1027.4,170.9 1029.8,174.8 1032.1,237.6 1034.5,204.4 1036.9,252.5 1039.2,241.7 1041.6,258.4 1043.9,262.9 1046.3,241.3 1048.7,247.3 1051.0,195.4 1053.4,175.6 1055.7,208.1 1058.1,245.5 1060.5,185.3 1062.8,272.8 1065.2,287.1 1067.5,196.4 1069.9,180.7 1072.3,166.4 1074.6,205.4 1077.0,250.0 1079.3,232.5 1081.7,191.1 1084.1,229.7 1086.4,235.2 1088.8,260.6 1091.1,257.6 1093.5,186.4 1095.9,185.8 1098.2,242.6 1100.6,251.1 1102.9,234.5 1105.3,192.1 1107.7,244.1 1110.0,219.3 1112.4,283.9 1114.7,265.5 1117.1,202.8 1119.5,173.5 1121.8,239.9 1124.2,239.7 1126.5,184.4 1128.9,215.1 1131.3,226.6 1133.6,191.6 1136.0,195.9 1138.3,164.6 1140.7,169.5 1143.1,218.7 1145.4,212.4 1147.8,209.1 1150.1,254.0 1152.5,249.6 1154.9,180.2 1157.2,256.4 1159.6,180.8 1161.9,190.6 1164.3,207.5 1166.7,187.0 1169.0,185.1 1171.4,159.0 1173.7,210.3 1176.1,214.6 1178.5,216.0 1180.8,141.4 1183.2,159.5 1185.5,228.8 1187.9,221.9 1190.3,233.6 1192.6,210.7 1195.0,199.0 1197.3,123.6 1199.7,253.3 1202.1,178.9 1204.4,184.8 1206.8,226.0 1209.1,214.8 1211.5,224.8 1213.9,207.5 1216.2,170.5 1218.6,251.8 1220.9,168.5 1223.3,211.2 1225.7,153.7 1228.0,180.6 1230.4,157.1 1232.7,175.8 1235.1,161.3 1237.5,194.5 1239.8,232.4 1242.2,187.1 1244.5,176.7 1246.9,125.8 1249.3,259.8 1251.6,223.1 1254.0,171.5 1256.3,242.5 1258.7,220.7 1261.1,133.9 1263.4,141.2 1265.8,223.3 1268.1,158.7"/><polyline points="798.5,162.4 800.9,169.3 803.2,184.6 805.6,192.6 807.9,233.2 810.3,228.8 812.7,184.1 815.0,195.9 817.4,138.3 819.7,203.4 822.1,289.0 824.5,233.5 826.8,201.0 829.2,190.8 831.5,199.8 833.9,232.8 836.3,158.1 838.6,218.9 841.0,182.8 843.3,210.6 845.7,248.1 848.1,163.9 850.4,284.8 852.8,250.7 855.1,198.9 857.5,216.2 859.9,180.8 862.2,203.5 864.6,220.4 866.9,132.1 869.3,198.0 871.7,208.9 874.0,243.6 876.4,238.7 878.7,188.7 881.1,181.7 883.5,200.0 885.8,228.3 888.2,185.3 890.5,260.5 892.9,227.8 895.3,218.1 897.6,236.9 900.0,205.7 902.3,228.2 904.7,237.4 907.1,147.9 909.4,167.1 911.8,154.9 914.1,192.7 916.5,168.2 918.9,169.7 921.2,154.9 923.6,111.4 925.9,193.6 928.3,193.0 930.7,203.8 933.0,327.3 935.4,277.7 937.7,218.2 940.1,184.7 942.5,220.4 944.8,167.5 947.2,151.7 949.5,208.0 951.9,154.9 954.3,132.8 956.6,173.4 959.0,232.2 961.3,158.1 963.7,200.5 966.1,216.4 968.4,202.3 970.8,222.3 973.1,169.9 975.5,169.8 977.9,154.2 980.2,173.5 982.6,225.5 984.9,213.7 987.3,175.0 989.7,212.2 992.0,103.1 994.4,192.1 996.7,221.9 999.1,167.1 1001.5,170.2 1003.8,198.0 1006.2,210.6 1008.5,190.1 1010.9,171.7 1013.3,170.6 1015.6,207.6 1018.0,189.4 1020.3,171.3 1022.7,170.4 1025.1,305.2 1027.4,255.2 1029.8,241.2 1032.1,219.3 1034.5,200.5 1036.9,170.8 1039.2,175.5 1041.6,202.5 1043.9,202.7 1046.3,141.9 1048.7,212.8 1051.0,194.9 1053.4,147.1 1055.7,180.3 1058.1,270.6 1060.5,203.9 1062.8,217.3 1065.2,210.4 1067.5,168.2 1069.9,180.2 1072.3,208.2 1074.6,173.4 1077.0,182.4 1079.3,195.8 1081.7,191.6 1084.1,192.4 1086.4,213.3 1088.8,221.7 1091.1,206.4 1093.5,237.7 1095.9,254.6 1098.2,168.3 1100.6,205.0 1102.9,204.8 1105.3,208.7 1107.7,203.9 1110.0,202.9 1112.4,201.3 1114.7,231.4 1117.1,176.6 1119.5,222.5 1121.8,171.2 1124.2,264.4 1126.5,253.1 1128.9,178.8 1131.3,203.9 1133.6,227.3 1136.0,195.3 1138.3,238.7 1140.7,208.0 1143.1,282.2 1145.4,235.3 1147.8,232.8 1150.1,190.6 1152.5,170.4 1154.9,227.0 1157.2,152.0 1159.6,214.1 1161.9,277.8 1164.3,301.9 1166.7,169.4 1169.0,199.9 1171.4,225.6 1173.7,234.3 1176.1,248.1 1178.5,165.2 1180.8,198.9 1183.2,140.0 1185.5,197.9 1187.9,284.9 1190.3,190.4 1192.6,213.9 1195.0,214.1 1197.3,150.9 1199.7,202.4 1202.1,162.7 1204.4,195.7 1206.8,228.5 1209.1,190.9 1211.5,222.2 1213.9,164.4 1216.2,162.2 1218.6,193.2 1220.9,180.2 1223.3,179.2 1225.7,208.5 1228.0,173.3 1230.4,205.6 1232.7,182.5 1235.1,232.8 1237.5,205.9 1239.8,189.6 1242.2,228.5 1244.5,223.2 1246.9,226.2 1249.3,182.6 1251.6,224.6 1254.0,192.4 1256.3,147.9 1258.7,179.9 1261.1,255.2 1263.4,209.4 1265.8,168.2 1268.1,206.4"/><polyline points="798.5,163.8 800.9,173.8 803.2,182.7 805.6,208.4 807.9,222.3 810.3,216.1 812.7,203.7 815.0,185.1 817.4,184.9 819.7,210.2 822.1,202.4 824.5,189.5 826.8,257.4 829.2,241.0 831.5,238.8 833.9,217.4 836.3,215.7 838.6,214.7 841.0,236.0 843.3,186.1 845.7,190.0 848.1,258.0 850.4,213.6 852.8,244.6 855.1,151.7 857.5,208.7 859.9,218.0 862.2,203.1 864.6,210.0 866.9,206.5 869.3,149.5 871.7,184.4 874.0,170.0 876.4,156.9 878.7,227.9 881.1,148.8 883.5,168.0 885.8,162.4 888.2,225.1 890.5,178.7 892.9,183.6 895.3,217.9 897.6,125.9 900.0,167.7 902.3,204.2 904.7,196.4 907.1,169.7 909.4,156.6 911.8,173.3 914.1,154.3 916.5,141.6 918.9,233.9 921.2,226.1 923.6,240.4 925.9,207.0 928.3,153.1 930.7,170.0 933.0,232.9 935.4,219.1 937.7,170.1 940.1,214.9 942.5,208.6 944.8,193.3 947.2,264.8 949.5,187.9 951.9,187.8 954.3,179.9 956.6,232.5 959.0,235.7 961.3,230.3 963.7,199.5 966.1,199.7 968.4,197.7 970.8,139.0 973.1,144.3 975.5,216.3 977.9,228.4 980.2,147.8 982.6,202.9 984.9,154.5 987.3,137.1 989.7,208.7 992.0,213.4 994.4,202.0 996.7,232.9 999.1,243.1 1001.5,224.9 1003.8,177.4 1006.2,213.4 1008.5,212.2 1010.9,221.0 1013.3,254.3 1015.6,161.1 1018.0,276.6 1020.3,240.5 1022.7,190.8 1025.1,249.3 1027.4,190.9 1029.8,156.6 1032.1,223.7 1034.5,199.7 1036.9,241.1 1039.2,192.7 1041.6,197.7 1043.9,194.3 1046.3,153.3 1048.7,176.4 1051.0,150.4 1053.4,170.1 1055.7,238.3 1058.1,200.8 1060.5,185.3 1062.8,250.0 1065.2,165.6 1067.5,193.0 1069.9,188.0 1072.3,231.3 1074.6,206.0 1077.0,193.0 1079.3,212.3 1081.7,201.9 1084.1,276.9 1086.4,170.0 1088.8,235.3 1091.1,285.8 1093.5,253.1 1095.9,242.2 1098.2,191.7 1100.6,232.7 1102.9,198.9 1105.3,235.7 1107.7,132.1 1110.0,169.6 1112.4,127.7 1114.7,223.4 1117.1,183.8 1119.5,232.6 1121.8,188.6 1124.2,176.3 1126.5,253.5 1128.9,252.9 1131.3,253.8 1133.6,265.8 1136.0,241.2 1138.3,244.3 1140.7,261.9 1143.1,211.4 1145.4,185.6 1147.8,245.6 1150.1,231.1 1152.5,208.4 1154.9,212.3 1157.2,229.5 1159.6,180.0 1161.9,168.8 1164.3,172.5 1166.7,204.3 1169.0,133.8 1171.4,128.3 1173.7,202.3 1176.1,207.2 1178.5,162.4 1180.8,223.1 1183.2,193.2 1185.5,199.6 1187.9,227.2 1190.3,216.1 1192.6,260.9 1195.0,233.8 1197.3,279.3 1199.7,138.6 1202.1,137.6 1204.4,147.1 1206.8,181.5 1209.1,164.0 1211.5,150.9 1213.9,157.2 1216.2,162.0 1218.6,227.1 1220.9,193.1 1223.3,220.1 1225.7,248.1 1228.0,252.4 1230.4,198.2 1232.7,165.5 1235.1,243.8 1237.5,150.4 1239.8,141.4 1242.2,204.4 1244.5,219.9 1246.9,209.4 1249.3,170.3 1251.6,210.3 1254.0,243.7 1256.3,199.6 1258.7,275.2 1261.1,213.0 1263.4,164.9 1265.8,185.2 1268.1,172.6"/><polyline points="798.5,186.0 800.9,174.6 803.2,192.8 805.6,230.6 807.9,216.9 810.3,208.9 812.7,160.6 815.0,138.1 817.4,175.8 819.7,224.5 822.1,233.4 824.5,216.2 826.8,157.5 829.2,182.7 831.5,201.5 833.9,230.1 836.3,178.1 838.6,188.4 841.0,202.4 843.3,199.8 845.7,143.8 848.1,197.3 850.4,143.3 852.8,148.1 855.1,190.7 857.5,170.1 859.9,201.3 862.2,232.3 864.6,218.8 866.9,238.5 869.3,192.7 871.7,201.0 874.0,183.3 876.4,170.6 878.7,306.4 881.1,213.3 883.5,268.8 885.8,210.9 888.2,235.9 890.5,206.5 892.9,156.4 895.3,254.1 897.6,207.1 900.0,207.1 902.3,270.7 904.7,194.4 907.1,200.6 909.4,220.9 911.8,232.4 914.1,96.9 916.5,196.1 918.9,265.3 921.2,248.6 923.6,225.5 925.9,221.5 928.3,210.0 930.7,241.7 933.0,192.3 935.4,218.4 937.7,254.3 940.1,242.4 942.5,224.9 944.8,178.2 947.2,181.6 949.5,211.1 951.9,204.5 954.3,196.3 956.6,130.8 959.0,210.8 961.3,188.7 963.7,175.3 966.1,231.4 968.4,202.6 970.8,197.8 973.1,219.0 975.5,186.9 977.9,164.3 980.2,156.2 982.6,200.9 984.9,196.5 987.3,119.9 989.7,225.6 992.0,200.3 994.4,171.8 996.7,192.1 999.1,178.4 1001.5,192.6 1003.8,175.1 1006.2,153.0 1008.5,201.3 1010.9,196.3 1013.3,204.2 1015.6,217.9 1018.0,207.2 1020.3,244.1 1022.7,185.7 1025.1,140.4 1027.4,131.3 1029.8,144.5 1032.1,225.7 1034.5,154.8 1036.9,219.0 1039.2,208.6 1041.6,140.0 1043.9,228.5 1046.3,179.2 1048.7,188.9 1051.0,206.1 1053.4,234.9 1055.7,195.1 1058.1,218.2 1060.5,170.0 1062.8,154.1 1065.2,242.1 1067.5,229.1 1069.9,220.0 1072.3,248.4 1074.6,251.8 1077.0,210.2 1079.3,212.3 1081.7,263.3 1084.1,234.5 1086.4,191.7 1088.8,243.6 1091.1,244.0 1093.5,156.1 1095.9,148.0 1098.2,249.4 1100.6,260.2 1102.9,201.8 1105.3,245.1 1107.7,220.8 1110.0,222.9 1112.4,187.9 1114.7,289.2 1117.1,298.0 1119.5,265.5 1121.8,180.5 1124.2,204.5 1126.5,263.7 1128.9,198.4 1131.3,177.9 1133.6,207.1 1136.0,216.0 1138.3,190.8 1140.7,158.7 1143.1,189.4 1145.4,182.2 1147.8,201.1 1150.1,216.5 1152.5,238.4 1154.9,201.7 1157.2,213.8 1159.6,214.3 1161.9,173.2 1164.3,180.5 1166.7,168.6 1169.0,251.9 1171.4,193.8 1173.7,222.4 1176.1,235.8 1178.5,240.0 1180.8,168.5 1183.2,167.7 1185.5,221.6 1187.9,247.1 1190.3,211.9 1192.6,221.5 1195.0,149.1 1197.3,244.0 1199.7,275.9 1202.1,227.1 1204.4,208.0 1206.8,199.9 1209.1,176.5 1211.5,125.6 1213.9,200.1 1216.2,222.1 1218.6,269.0 1220.9,208.2 1223.3,174.7 1225.7,207.0 1228.0,163.0 1230.4,194.5 1232.7,148.8 1235.1,181.0 1237.5,236.2 1239.8,232.5 1242.2,263.2 1244.5,276.5 1246.9,208.9 1249.3,174.3 1251.6,129.3 1254.0,190.8 1256.3,209.4 1258.7,243.7 1261.1,177.1 1263.4,184.7 1265.8,220.8 1268.1,183.0"/><polyline points="798.5,183.6 800.9,265.2 803.2,190.0 805.6,196.2 807.9,215.9 810.3,220.8 812.7,145.8 815.0,138.3 817.4,126.6 819.7,228.5 822.1,231.6 824.5,177.6 826.8,240.8 829.2,236.4 831.5,273.5 833.9,152.7 836.3,156.3 838.6,178.1 841.0,190.9 843.3,215.8 845.7,220.1 848.1,185.4 850.4,225.0 852.8,164.9 855.1,213.2 857.5,236.2 859.9,164.7 862.2,201.0 864.6,183.7 866.9,214.2 869.3,284.7 871.7,200.7 874.0,250.3 876.4,175.1 878.7,252.3 881.1,278.8 883.5,207.9 885.8,189.6 888.2,197.2 890.5,244.9 892.9,180.8 895.3,250.5 897.6,229.3 900.0,236.4 902.3,223.5 904.7,177.8 907.1,220.7 909.4,187.3 911.8,176.1 914.1,258.1 916.5,255.5 918.9,227.5 921.2,229.2 923.6,198.0 925.9,270.3 928.3,191.8 930.7,175.2 933.0,203.9 935.4,252.2 937.7,213.2 940.1,224.4 942.5,188.0 944.8,203.6 947.2,178.2 949.5,213.8 951.9,155.2 954.3,274.8 956.6,253.5 959.0,196.5 961.3,255.2 963.7,188.2 966.1,243.2 968.4,208.3 970.8,236.7 973.1,225.8 975.5,202.0 977.9,207.0 980.2,217.7 982.6,131.1 984.9,188.9 987.3,234.7 989.7,177.4 992.0,169.7 994.4,154.0 996.7,131.1 999.1,222.1 1001.5,170.3 1003.8,157.1 1006.2,194.4 1008.5,193.2 1010.9,306.8 1013.3,244.4 1015.6,149.2 1018.0,255.4 1020.3,232.8 1022.7,199.4 1025.1,182.7 1027.4,142.3 1029.8,253.2 1032.1,212.1 1034.5,175.3 1036.9,244.0 1039.2,213.2 1041.6,139.5 1043.9,144.7 1046.3,173.0 1048.7,289.2 1051.0,225.4 1053.4,194.5 1055.7,212.7 1058.1,207.8 1060.5,96.5 1062.8,189.8 1065.2,234.9 1067.5,201.4 1069.9,214.3 1072.3,216.7 1074.6,209.4 1077.0,177.7 1079.3,190.2 1081.7,243.1 1084.1,216.2 1086.4,189.6 1088.8,217.3 1091.1,166.2 1093.5,169.0 1095.9,231.5 1098.2,198.1 1100.6,133.1 1102.9,134.9 1105.3,191.9 1107.7,169.9 1110.0,220.6 1112.4,257.8 1114.7,195.1 1117.1,193.3 1119.5,183.6 1121.8,200.6 1124.2,191.7 1126.5,219.3 1128.9,190.2 1131.3,171.8 1133.6,199.4 1136.0,174.3 1138.3,259.9 1140.7,242.5 1143.1,160.8 1145.4,133.4 1147.8,180.9 1150.1,202.8 1152.5,247.9 1154.9,199.8 1157.2,175.6 1159.6,250.0 1161.9,193.4 1164.3,184.4 1166.7,184.4 1169.0,239.4 1171.4,191.8 1173.7,253.8 1176.1,161.6 1178.5,190.5 1180.8,241.8 1183.2,164.2 1185.5,155.4 1187.9,216.8 1190.3,129.1 1192.6,224.0 1195.0,196.8 1197.3,160.9 1199.7,274.7 1202.1,182.8 1204.4,201.8 1206.8,203.9 1209.1,241.5 1211.5,199.6 1213.9,241.8 1216.2,245.3 1218.6,227.7 1220.9,251.5 1223.3,158.2 1225.7,241.2 1228.0,237.6 1230.4,221.6 1232.7,207.2 1235.1,176.6 1237.5,169.6 1239.8,207.5 1242.2,217.9 1244.5,205.3 1246.9,175.2 1249.3,173.6 1251.6,215.8 1254.0,278.3 1256.3,143.5 1258.7,158.3 1261.1,185.4 1263.4,188.1 1265.8,218.9 1268.1,241.8"/><polyline points="798.5,215.6 800.9,213.9 803.2,227.6 805.6,259.6 807.9,225.8 810.3,187.9 812.7,217.9 815.0,205.8 817.4,276.7 819.7,225.6 822.1,212.4 824.5,248.4 826.8,273.2 829.2,203.2 831.5,232.0 833.9,192.2 836.3,216.1 838.6,184.4 841.0,211.7 843.3,258.1 845.7,217.6 848.1,218.0 850.4,183.5 852.8,215.5 855.1,219.8 857.5,176.8 859.9,157.5 862.2,167.8 864.6,160.2 866.9,179.1 869.3,171.8 871.7,166.5 874.0,182.1 876.4,197.2 878.7,197.4 881.1,118.2 883.5,186.1 885.8,208.5 888.2,217.4 890.5,207.6 892.9,195.9 895.3,241.8 897.6,280.7 900.0,208.8 902.3,261.0 904.7,206.1 907.1,199.3 909.4,162.4 911.8,136.9 914.1,177.5 916.5,217.9 918.9,247.7 921.2,240.2 923.6,209.6 925.9,277.4 928.3,215.8 930.7,206.5 933.0,181.7 935.4,211.0 937.7,201.6 940.1,229.1 942.5,225.0 944.8,270.1 947.2,212.7 949.5,151.2 951.9,187.5 954.3,187.6 956.6,234.9 959.0,159.8 961.3,221.8 963.7,179.2 966.1,195.0 968.4,235.6 970.8,174.1 973.1,197.2 975.5,196.1 977.9,186.3 980.2,201.0 982.6,216.4 984.9,189.9 987.3,215.1 989.7,203.7 992.0,227.1 994.4,260.6 996.7,238.7 999.1,228.0 1001.5,208.1 1003.8,163.1 1006.2,254.8 1008.5,209.4 1010.9,282.4 1013.3,256.1 1015.6,231.9 1018.0,288.3 1020.3,285.7 1022.7,214.7 1025.1,203.2 1027.4,207.6 1029.8,232.6 1032.1,134.0 1034.5,195.4 1036.9,232.3 1039.2,150.6 1041.6,171.6 1043.9,210.3 1046.3,163.2 1048.7,190.1 1051.0,178.4 1053.4,190.4 1055.7,237.1 1058.1,176.3 1060.5,192.6 1062.8,236.9 1065.2,237.1 1067.5,176.9 1069.9,211.3 1072.3,203.6 1074.6,180.7 1077.0,194.6 1079.3,255.4 1081.7,191.7 1084.1,168.4 1086.4,166.3 1088.8,139.6 1091.1,178.1 1093.5,171.4 1095.9,141.5 1098.2,201.5 1100.6,142.4 1102.9,130.7 1105.3,161.7 1107.7,130.8 1110.0,159.3 1112.4,225.7 1114.7,168.2 1117.1,185.2 1119.5,185.5 1121.8,194.6 1124.2,154.2 1126.5,174.5 1128.9,222.2 1131.3,190.4 1133.6,175.5 1136.0,223.5 1138.3,222.9 1140.7,221.0 1143.1,228.4 1145.4,196.4 1147.8,166.6 1150.1,130.0 1152.5,147.1 1154.9,156.6 1157.2,154.2 1159.6,147.0 1161.9,205.6 1164.3,179.8 1166.7,187.6 1169.0,205.0 1171.4,219.9 1173.7,224.7 1176.1,217.3 1178.5,249.7 1180.8,194.6 1183.2,202.7 1185.5,199.8 1187.9,191.1 1190.3,175.8 1192.6,218.9 1195.0,210.5 1197.3,261.4 1199.7,293.0 1202.1,289.6 1204.4,167.0 1206.8,260.4 1209.1,198.5 1211.5,150.9 1213.9,209.2 1216.2,147.7 1218.6,127.8 1220.9,155.4 1223.3,110.9 1225.7,163.3 1228.0,221.2 1230.4,188.8 1232.7,216.2 1235.1,251.7 1237.5,257.9 1239.8,133.4 1242.2,208.4 1244.5,205.3 1246.9,227.0 1249.3,203.3 1251.6,211.7 1254.0,219.4 1256.3,248.9 1258.7,261.9 1261.1,241.0 1263.4,200.5 1265.8,129.9 1268.1,151.6"/><polyline points="798.5,138.0 800.9,173.1 803.2,200.1 805.6,248.9 807.9,212.1 810.3,280.0 812.7,228.9 815.0,151.1 817.4,181.0 819.7,159.0 822.1,207.5 824.5,252.0 826.8,229.5 829.2,222.0 831.5,164.4 833.9,125.9 836.3,213.3 838.6,217.4 841.0,210.8 843.3,216.5 845.7,249.0 848.1,208.7 850.4,191.2 852.8,186.8 855.1,241.7 857.5,214.4 859.9,265.9 862.2,183.2 864.6,234.4 866.9,218.5 869.3,221.5 871.7,226.7 874.0,244.5 876.4,272.8 878.7,155.8 881.1,184.2 883.5,189.5 885.8,126.3 888.2,190.7 890.5,180.7 892.9,197.3 895.3,159.8 897.6,176.3 900.0,186.1 902.3,208.0 904.7,193.7 907.1,159.8 909.4,266.6 911.8,219.7 914.1,220.4 916.5,216.5 918.9,274.4 921.2,191.1 923.6,229.7 925.9,215.7 928.3,222.6 930.7,264.9 933.0,230.4 935.4,272.4 937.7,249.3 940.1,222.7 942.5,206.5 944.8,201.2 947.2,206.9 949.5,128.3 951.9,172.2 954.3,239.1 956.6,231.1 959.0,231.1 961.3,214.2 963.7,225.8 966.1,236.9 968.4,151.4 970.8,190.5 973.1,211.7 975.5,213.0 977.9,212.0 980.2,155.4 982.6,176.1 984.9,157.6 987.3,302.6 989.7,210.9 992.0,166.8 994.4,126.0 996.7,185.9 999.1,259.1 1001.5,192.9 1003.8,221.3 1006.2,268.8 1008.5,237.2 1010.9,172.2 1013.3,154.0 1015.6,167.2 1018.0,231.9 1020.3,119.9 1022.7,226.7 1025.1,209.7 1027.4,254.3 1029.8,166.4 1032.1,179.3 1034.5,166.4 1036.9,191.8 1039.2,202.4 1041.6,196.0 1043.9,267.0 1046.3,180.2 1048.7,165.6 1051.0,208.5 1053.4,203.7 1055.7,191.8 1058.1,144.9 1060.5,175.4 1062.8,195.1 1065.2,218.4 1067.5,257.9 1069.9,234.0 1072.3,205.8 1074.6,211.5 1077.0,201.1 1079.3,175.5 1081.7,181.3 1084.1,188.0 1086.4,176.0 1088.8,190.1 1091.1,200.5 1093.5,185.0 1095.9,258.9 1098.2,169.2 1100.6,240.4 1102.9,180.1 1105.3,196.9 1107.7,161.9 1110.0,192.4 1112.4,232.9 1114.7,170.2 1117.1,188.8 1119.5,194.9 1121.8,197.4 1124.2,165.6 1126.5,165.7 1128.9,186.3 1131.3,252.8 1133.6,225.9 1136.0,202.6 1138.3,138.8 1140.7,175.4 1143.1,199.4 1145.4,159.1 1147.8,196.8 1150.1,201.5 1152.5,195.9 1154.9,252.8 1157.2,178.1 1159.6,181.8 1161.9,207.3 1164.3,242.6 1166.7,202.1 1169.0,152.4 1171.4,214.0 1173.7,241.0 1176.1,194.5 1178.5,255.9 1180.8,290.0 1183.2,234.6 1185.5,232.1 1187.9,217.1 1190.3,223.7 1192.6,194.1 1195.0,207.5 1197.3,223.5 1199.7,221.7 1202.1,183.2 1204.4,164.0 1206.8,162.1 1209.1,168.9 1211.5,310.3 1213.9,258.1 1216.2,223.6 1218.6,198.4 1220.9,257.3 1223.3,162.5 1225.7,182.8 1228.0,219.2 1230.4,199.0 1232.7,212.8 1235.1,230.1 1237.5,189.1 1239.8,214.6 1242.2,253.2 1244.5,233.8 1246.9,211.6 1249.3,241.0 1251.6,164.8 1254.0,232.0 1256.3,145.6 1258.7,158.6 1261.1,225.5 1263.4,201.3 1265.8,159.6 1268.1,199.4"/><polyline points="798.5,244.1 800.9,205.7 803.2,132.1 805.6,239.4 807.9,189.1 810.3,198.2 812.7,204.4 815.0,215.2 817.4,214.9 819.7,167.2 822.1,173.2 824.5,230.2 826.8,152.0 829.2,236.4 831.5,184.6 833.9,191.1 836.3,156.8 838.6,179.4 841.0,159.4 843.3,193.3 845.7,165.1 848.1,181.4 850.4,121.5 852.8,209.2 855.1,160.5 857.5,176.3 859.9,189.5 862.2,218.2 864.6,188.4 866.9,249.8 869.3,258.3 871.7,187.1 874.0,252.3 876.4,160.5 878.7,202.1 881.1,192.1 883.5,196.1 885.8,184.9 888.2,207.1 890.5,214.7 892.9,207.7 895.3,165.1 897.6,153.6 900.0,146.4 902.3,176.8 904.7,202.7 907.1,259.7 909.4,189.7 911.8,168.8 914.1,208.2 916.5,173.7 918.9,149.9 921.2,187.0 923.6,160.7 925.9,181.6 928.3,257.4 930.7,228.3 933.0,220.3 935.4,185.8 937.7,227.7 940.1,221.2 942.5,238.2 944.8,209.3 947.2,199.7 949.5,166.1 951.9,165.6 954.3,187.6 956.6,189.3 959.0,194.3 961.3,195.2 963.7,145.1 966.1,276.4 968.4,221.7 970.8,193.6 973.1,159.4 975.5,230.5 977.9,194.2 980.2,168.9 982.6,209.6 984.9,269.1 987.3,226.7 989.7,247.7 992.0,187.0 994.4,227.5 996.7,143.4 999.1,184.0 1001.5,225.3 1003.8,223.0 1006.2,243.1 1008.5,195.2 1010.9,147.1 1013.3,197.2 1015.6,167.3 1018.0,226.7 1020.3,194.8 1022.7,118.5 1025.1,233.2 1027.4,163.7 1029.8,151.9 1032.1,256.5 1034.5,261.8 1036.9,246.8 1039.2,175.7 1041.6,210.4 1043.9,208.2 1046.3,177.1 1048.7,191.6 1051.0,190.7 1053.4,209.7 1055.7,162.8 1058.1,220.1 1060.5,145.6 1062.8,201.3 1065.2,228.5 1067.5,183.3 1069.9,181.2 1072.3,265.9 1074.6,205.8 1077.0,248.8 1079.3,239.2 1081.7,180.6 1084.1,226.7 1086.4,193.3 1088.8,212.3 1091.1,135.1 1093.5,190.8 1095.9,239.7 1098.2,247.1 1100.6,241.6 1102.9,204.3 1105.3,201.5 1107.7,166.8 1110.0,188.0 1112.4,193.6 1114.7,187.9 1117.1,202.7 1119.5,190.9 1121.8,171.3 1124.2,167.4 1126.5,213.2 1128.9,265.2 1131.3,242.0 1133.6,199.2 1136.0,287.7 1138.3,234.9 1140.7,192.0 1143.1,218.9 1145.4,243.7 1147.8,148.1 1150.1,141.9 1152.5,198.2 1154.9,154.1 1157.2,146.1 1159.6,229.7 1161.9,112.9 1164.3,216.3 1166.7,213.4 1169.0,242.0 1171.4,206.6 1173.7,248.3 1176.1,210.9 1178.5,165.2 1180.8,186.6 1183.2,207.6 1185.5,148.4 1187.9,222.1 1190.3,171.6 1192.6,206.0 1195.0,194.7 1197.3,199.0 1199.7,196.4 1202.1,202.3 1204.4,229.0 1206.8,226.9 1209.1,191.1 1211.5,203.2 1213.9,242.7 1216.2,234.5 1218.6,232.5 1220.9,209.8 1223.3,197.1 1225.7,197.6 1228.0,223.8 1230.4,205.6 1232.7,250.5 1235.1,312.6 1237.5,226.0 1239.8,264.7 1242.2,247.7 1244.5,253.4 1246.9,190.3 1249.3,242.1 1251.6,200.5 1254.0,219.0 1256.3,248.9 1258.7,266.8 1261.1,199.1 1263.4,188.2 1265.8,172.5 1268.1,132.3"/><polyline points="798.5,193.1 800.9,190.8 803.2,204.6 805.6,199.4 807.9,214.3 810.3,236.4 812.7,139.7 815.0,255.5 817.4,204.5 819.7,187.8 822.1,194.7 824.5,235.1 826.8,216.2 829.2,221.9 831.5,244.6 833.9,213.1 836.3,219.5 838.6,225.9 841.0,183.9 843.3,236.6 845.7,194.7 848.1,223.1 850.4,192.5 852.8,198.9 855.1,194.3 857.5,236.1 859.9,237.3 862.2,240.4 864.6,205.0 866.9,177.9 869.3,160.9 871.7,212.8 874.0,202.7 876.4,260.3 878.7,292.8 881.1,252.0 883.5,236.9 885.8,264.9 888.2,278.5 890.5,200.3 892.9,231.5 895.3,268.4 897.6,135.9 900.0,184.6 902.3,211.5 904.7,182.1 907.1,226.5 909.4,153.3 911.8,248.0 914.1,258.9 916.5,220.2 918.9,234.5 921.2,161.3 923.6,252.0 925.9,239.7 928.3,203.4 930.7,184.9 933.0,165.8 935.4,185.1 937.7,124.0 940.1,205.3 942.5,198.9 944.8,173.9 947.2,209.9 949.5,216.3 951.9,223.6 954.3,231.3 956.6,249.9 959.0,233.5 961.3,265.0 963.7,204.0 966.1,260.7 968.4,144.3 970.8,133.8 973.1,152.5 975.5,202.3 977.9,225.4 980.2,166.8 982.6,191.5 984.9,183.2 987.3,226.3 989.7,172.5 992.0,227.0 994.4,206.2 996.7,266.2 999.1,240.7 1001.5,195.2 1003.8,219.4 1006.2,224.1 1008.5,181.9 1010.9,203.6 1013.3,162.0 1015.6,281.5 1018.0,201.2 1020.3,187.2 1022.7,256.1 1025.1,261.3 1027.4,186.3 1029.8,239.3 1032.1,234.8 1034.5,190.9 1036.9,214.5 1039.2,191.0 1041.6,233.3 1043.9,201.1 1046.3,167.2 1048.7,186.9 1051.0,278.8 1053.4,197.8 1055.7,202.4 1058.1,236.9 1060.5,163.6 1062.8,258.4 1065.2,151.1 1067.5,217.1 1069.9,153.3 1072.3,197.1 1074.6,250.7 1077.0,211.7 1079.3,195.6 1081.7,185.1 1084.1,164.8 1086.4,229.1 1088.8,193.5 1091.1,177.9 1093.5,209.9 1095.9,239.5 1098.2,246.1 1100.6,187.9 1102.9,174.6 1105.3,228.7 1107.7,257.3 1110.0,173.1 1112.4,253.7 1114.7,210.1 1117.1,235.0 1119.5,273.1 1121.8,215.2 1124.2,214.6 1126.5,157.6 1128.9,117.2 1131.3,194.9 1133.6,168.1 1136.0,162.1 1138.3,215.6 1140.7,238.3 1143.1,156.4 1145.4,208.9 1147.8,207.6 1150.1,216.6 1152.5,212.9 1154.9,228.6 1157.2,184.5 1159.6,158.0 1161.9,209.5 1164.3,255.0 1166.7,214.2 1169.0,259.6 1171.4,239.2 1173.7,169.8 1176.1,118.0 1178.5,175.4 1180.8,237.2 1183.2,185.2 1185.5,280.3 1187.9,245.2 1190.3,160.8 1192.6,171.1 1195.0,247.3 1197.3,272.4 1199.7,189.6 1202.1,204.5 1204.4,226.5 1206.8,195.9 1209.1,224.1 1211.5,276.8 1213.9,192.1 1216.2,225.9 1218.6,245.1 1220.9,260.4 1223.3,208.3 1225.7,234.7 1228.0,190.1 1230.4,212.3 1232.7,169.7 1235.1,212.3 1237.5,230.2 1239.8,279.6 1242.2,259.2 1244.5,191.6 1246.9,96.7 1249.3,227.9 1251.6,246.7 1254.0,202.5 1256.3,188.8 1258.7,226.3 1261.1,207.4 1263.4,262.4 1265.8,227.8 1268.1,179.1"/></g>
<polyline points="798.5,206.0 800.9,204.9 803.2,205.4 805.6,206.6 807.9,208.2 810.3,207.1 812.7,202.3 815.0,197.6 817.4,200.2 819.7,204.5 822.1,205.3 824.5,206.4 826.8,206.9 829.2,205.1 831.5,203.4 833.9,202.7 836.3,202.2 838.6,203.1 841.0,202.3 843.3,200.0 845.7,201.6 848.1,204.4 850.4,204.0 852.8,200.8 855.1,199.5 857.5,202.5 859.9,203.5 862.2,202.8 864.6,204.8 866.9,204.3 869.3,201.6 871.7,201.5 874.0,202.3 876.4,205.1 878.7,207.7 881.1,205.5 883.5,206.3 885.8,207.8 888.2,204.1 890.5,202.5 892.9,205.0 895.3,206.3 897.6,204.8 900.0,202.4 902.3,200.2 904.7,200.6 907.1,201.4 909.4,201.5 911.8,203.9 914.1,205.2 916.5,202.9 918.9,202.2 921.2,204.3 923.6,205.3 925.9,206.6 928.3,207.8 930.7,204.3 933.0,203.7 935.4,206.5 937.7,206.2 940.1,204.8 942.5,205.2 944.8,208.0 947.2,206.9 949.5,202.0 951.9,202.8 954.3,207.4 956.6,206.6 959.0,204.2 961.3,203.0 963.7,202.3 966.1,204.1 968.4,205.3 970.8,204.0 973.1,201.9 975.5,202.7 977.9,206.2 980.2,205.9 982.6,201.3 984.9,199.7 987.3,200.3 989.7,200.3 992.0,202.5 994.4,205.5 996.7,206.8 999.1,204.7 1001.5,203.2 1003.8,205.9 1006.2,206.7 1008.5,204.7 1010.9,203.0 1013.3,203.6 1015.6,207.4 1018.0,208.5 1020.3,204.2 1022.7,200.5 1025.1,200.7 1027.4,202.8 1029.8,203.8 1032.1,203.7 1034.5,203.1 1036.9,203.1 1039.2,204.3 1041.6,204.3 1043.9,203.2 1046.3,202.5 1048.7,200.1 1051.0,196.8 1053.4,196.6 1055.7,201.2 1058.1,206.7 1060.5,207.1 1062.8,204.7 1065.2,205.5 1067.5,206.6 1069.9,202.6 1072.3,201.7 1074.6,206.2 1077.0,207.8 1079.3,206.3 1081.7,203.8 1084.1,200.3 1086.4,199.1 1088.8,201.3 1091.1,202.2 1093.5,200.8 1095.9,199.2 1098.2,199.0 1100.6,201.3 1102.9,204.7 1105.3,206.0 1107.7,204.0 1110.0,200.8 1112.4,201.2 1114.7,204.1 1117.1,204.4 1119.5,203.9 1121.8,205.6 1124.2,205.8 1126.5,201.2 1128.9,198.5 1131.3,202.3 1133.6,206.3 1136.0,208.0 1138.3,207.1 1140.7,203.1 1143.1,201.4 1145.4,202.5 1147.8,202.9 1150.1,203.0 1152.5,204.8 1154.9,207.1 1157.2,206.1 1159.6,204.7 1161.9,205.7 1164.3,206.3 1166.7,206.2 1169.0,204.3 1171.4,202.7 1173.7,203.8 1176.1,203.6 1178.5,201.6 1180.8,199.9 1183.2,201.7 1185.5,205.4 1187.9,204.6 1190.3,203.7 1192.6,203.1 1195.0,200.8 1197.3,199.6 1199.7,200.4 1202.1,200.7 1204.4,200.6 1206.8,202.8 1209.1,203.5 1211.5,202.8 1213.9,201.8 1216.2,198.9 1218.6,197.3 1220.9,198.3 1223.3,201.9 1225.7,204.3 1228.0,203.0 1230.4,202.6 1232.7,203.8 1235.1,203.5 1237.5,201.7 1239.8,201.1 1242.2,202.4 1244.5,202.9 1246.9,204.9 1249.3,207.0 1251.6,207.3 1254.0,206.7 1256.3,203.6 1258.7,201.3 1261.1,201.7 1263.4,200.6 1265.8,199.5 1268.1,201.3" fill="none" stroke="#3cb4aa" stroke-width="1.9" stroke-opacity="1.0"/>
<path d="M1306.50 50.50C1306.50 55.08 1306.37 71.75 1306.50 78.00C1306.63 84.25 1306.88 84.37 1307.30 88.00C1307.72 91.63 1308.45 96.73 1309.00 99.80C1309.55 102.87 1309.95 104.20 1310.60 106.40C1311.25 108.60 1311.98 110.80 1312.90 113.00C1313.82 115.20 1314.83 117.40 1316.10 119.60C1317.37 121.80 1318.80 124.05 1320.50 126.20C1322.20 128.35 1324.47 130.78 1326.30 132.50C1328.13 134.22 1329.62 135.02 1331.50 136.50C1333.38 137.98 1335.12 139.55 1337.60 141.40C1340.08 143.25 1343.47 145.68 1346.40 147.60C1349.33 149.52 1351.97 151.08 1355.20 152.90C1358.43 154.72 1361.98 156.60 1365.80 158.50C1369.62 160.40 1374.00 162.30 1378.10 164.30C1382.20 166.30 1386.88 168.53 1390.40 170.50C1393.92 172.47 1396.27 174.28 1399.20 176.10C1402.13 177.92 1405.07 179.70 1408.00 181.40C1410.93 183.10 1414.17 184.45 1416.80 186.30C1419.43 188.15 1422.02 190.45 1423.80 192.50C1425.58 194.55 1426.77 196.93 1427.50 198.60C1428.23 200.27 1428.52 200.90 1428.20 202.50C1427.88 204.10 1427.22 206.28 1425.60 208.20C1423.98 210.12 1421.15 212.10 1418.50 214.00C1415.85 215.90 1412.63 217.48 1409.70 219.60C1406.77 221.72 1403.53 224.63 1400.90 226.70C1398.27 228.77 1396.53 230.25 1393.90 232.00C1391.27 233.75 1388.62 235.30 1385.10 237.20C1381.58 239.10 1376.90 241.20 1372.80 243.40C1368.70 245.60 1364.60 248.05 1360.50 250.40C1356.40 252.75 1351.70 255.15 1348.20 257.50C1344.70 259.85 1342.27 262.18 1339.50 264.50C1336.73 266.82 1334.08 269.23 1331.60 271.40C1329.12 273.57 1326.35 275.60 1324.60 277.50C1322.85 279.40 1322.28 280.75 1321.10 282.80C1319.92 284.85 1318.68 287.60 1317.50 289.80C1316.32 292.00 1315.02 293.95 1314.00 296.00C1312.98 298.05 1312.13 299.92 1311.40 302.10C1310.67 304.28 1310.13 306.77 1309.60 309.10C1309.07 311.43 1308.57 313.75 1308.20 316.10C1307.83 318.45 1307.60 320.85 1307.40 323.20C1307.20 325.55 1307.13 326.57 1307.00 330.20C1306.87 333.83 1306.68 335.73 1306.60 345.00C1306.52 354.27 1306.52 379.00 1306.50 385.80Z" fill="#d1ecea" stroke="none"/><path d="M1306.50 50.50C1306.50 55.08 1306.37 71.75 1306.50 78.00C1306.63 84.25 1306.88 84.37 1307.30 88.00C1307.72 91.63 1308.45 96.73 1309.00 99.80C1309.55 102.87 1309.95 104.20 1310.60 106.40C1311.25 108.60 1311.98 110.80 1312.90 113.00C1313.82 115.20 1314.83 117.40 1316.10 119.60C1317.37 121.80 1318.80 124.05 1320.50 126.20C1322.20 128.35 1324.47 130.78 1326.30 132.50C1328.13 134.22 1329.62 135.02 1331.50 136.50C1333.38 137.98 1335.12 139.55 1337.60 141.40C1340.08 143.25 1343.47 145.68 1346.40 147.60C1349.33 149.52 1351.97 151.08 1355.20 152.90C1358.43 154.72 1361.98 156.60 1365.80 158.50C1369.62 160.40 1374.00 162.30 1378.10 164.30C1382.20 166.30 1386.88 168.53 1390.40 170.50C1393.92 172.47 1396.27 174.28 1399.20 176.10C1402.13 177.92 1405.07 179.70 1408.00 181.40C1410.93 183.10 1414.17 184.45 1416.80 186.30C1419.43 188.15 1422.02 190.45 1423.80 192.50C1425.58 194.55 1426.77 196.93 1427.50 198.60C1428.23 200.27 1428.52 200.90 1428.20 202.50C1427.88 204.10 1427.22 206.28 1425.60 208.20C1423.98 210.12 1421.15 212.10 1418.50 214.00C1415.85 215.90 1412.63 217.48 1409.70 219.60C1406.77 221.72 1403.53 224.63 1400.90 226.70C1398.27 228.77 1396.53 230.25 1393.90 232.00C1391.27 233.75 1388.62 235.30 1385.10 237.20C1381.58 239.10 1376.90 241.20 1372.80 243.40C1368.70 245.60 1364.60 248.05 1360.50 250.40C1356.40 252.75 1351.70 255.15 1348.20 257.50C1344.70 259.85 1342.27 262.18 1339.50 264.50C1336.73 266.82 1334.08 269.23 1331.60 271.40C1329.12 273.57 1326.35 275.60 1324.60 277.50C1322.85 279.40 1322.28 280.75 1321.10 282.80C1319.92 284.85 1318.68 287.60 1317.50 289.80C1316.32 292.00 1315.02 293.95 1314.00 296.00C1312.98 298.05 1312.13 299.92 1311.40 302.10C1310.67 304.28 1310.13 306.77 1309.60 309.10C1309.07 311.43 1308.57 313.75 1308.20 316.10C1307.83 318.45 1307.60 320.85 1307.40 323.20C1307.20 325.55 1307.13 326.57 1307.00 330.20C1306.87 333.83 1306.68 335.73 1306.60 345.00C1306.52 354.27 1306.52 379.00 1306.50 385.80Z" fill="none" stroke="#3cb4aa" stroke-width="1.5" stroke-linejoin="round"/>
<g class="tk"><text x="46.5" y="401.85" text-anchor="end">0</text><text x="46.5" y="344.35" text-anchor="end">5</text><text x="46.5" y="286.85" text-anchor="end">10</text><text x="46.5" y="229.35" text-anchor="end">15</text><text x="46.5" y="171.85" text-anchor="end">20</text><text x="46.5" y="114.35" text-anchor="end">25</text><text x="46.5" y="56.85" text-anchor="end">30</text><text x="59.22" y="423.1" text-anchor="middle">0</text><text x="126.01" y="423.1" text-anchor="middle">25</text><text x="194.49" y="423.1" text-anchor="middle">50</text><text x="262.98" y="423.1" text-anchor="middle">75</text><text x="331.47" y="423.1" text-anchor="middle">100</text><text x="399.96" y="423.1" text-anchor="middle">125</text><text x="468.44" y="423.1" text-anchor="middle">150</text><text x="536.93" y="423.1" text-anchor="middle">175</text><text x="661.2" y="373.64">0.84</text><text x="661.2" y="306.50">0.85</text><text x="661.2" y="239.36">0.86</text><text x="661.2" y="172.22">0.87</text><text x="661.2" y="105.08">0.88</text><text x="764.3" y="406.60" text-anchor="end">0.80</text><text x="764.3" y="344.40" text-anchor="end">0.82</text><text x="764.3" y="282.20" text-anchor="end">0.84</text><text x="764.3" y="220.00" text-anchor="end">0.86</text><text x="764.3" y="157.80" text-anchor="end">0.88</text><text x="764.3" y="95.60" text-anchor="end">0.90</text><text x="798.50" y="423.1" text-anchor="middle">0</text><text x="857.00" y="423.1" text-anchor="middle">25</text><text x="916.00" y="423.1" text-anchor="middle">50</text><text x="975.00" y="423.1" text-anchor="middle">75</text><text x="1034.00" y="423.1" text-anchor="middle">100</text><text x="1093.00" y="423.1" text-anchor="middle">125</text><text x="1152.00" y="423.1" text-anchor="middle">150</text><text x="1211.00" y="423.1" text-anchor="middle">175</text><text x="1270.00" y="423.1" text-anchor="middle">200</text></g>
<g class="lb"><text x="331.00" y="442.1" text-anchor="middle">draw</text><text x="1033.00" y="442.1" text-anchor="middle">draw</text><text transform="translate(20.5,219.40) rotate(-90)" text-anchor="middle">chain</text><text transform="translate(706.8,219.90) rotate(-90)" text-anchor="middle">plaqs</text></g>
<text class="ttl" x="655.3" y="24.1">hmc: tensorflow</text>
</svg>
</body></html>
